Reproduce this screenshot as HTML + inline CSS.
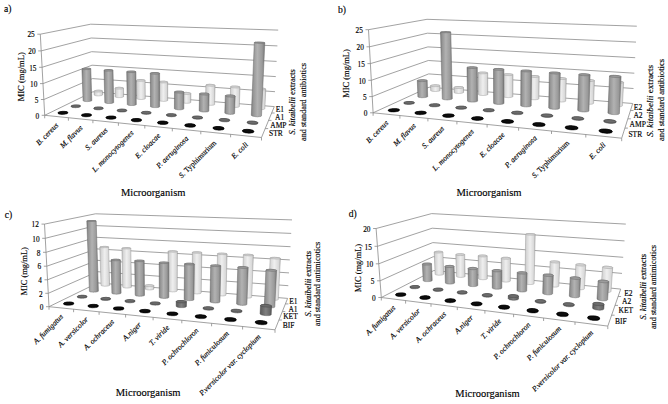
<!DOCTYPE html><html><head><meta charset="utf-8"><style>html,body{margin:0;padding:0;background:#fff}svg{display:block}text{font-family:"Liberation Serif",serif;stroke:#000;stroke-width:0.15px}</style></head><body><svg width="668" height="404" viewBox="0 0 668 404" font-family="Liberation Serif, serif" fill="#000"><defs><linearGradient id="g_light" x1="0" y1="0" x2="1" y2="0"><stop offset="0" stop-color="#a4a4a4"/><stop offset="0.08" stop-color="#d0d0d0"/><stop offset="0.5" stop-color="#efefef"/><stop offset="0.9" stop-color="#d6d6d6"/><stop offset="1" stop-color="#aaaaaa"/></linearGradient><linearGradient id="g_mid" x1="0" y1="0" x2="1" y2="0"><stop offset="0" stop-color="#707070"/><stop offset="0.1" stop-color="#909090"/><stop offset="0.45" stop-color="#b2b2b2"/><stop offset="0.8" stop-color="#9a9a9a"/><stop offset="1" stop-color="#767676"/></linearGradient><linearGradient id="g_dark" x1="0" y1="0" x2="1" y2="0"><stop offset="0" stop-color="#4c4c4c"/><stop offset="0.12" stop-color="#636363"/><stop offset="0.5" stop-color="#808080"/><stop offset="0.88" stop-color="#666666"/><stop offset="1" stop-color="#4e4e4e"/></linearGradient><linearGradient id="g_black" x1="0" y1="0" x2="1" y2="0"><stop offset="0" stop-color="#000"/><stop offset="0.5" stop-color="#161616"/><stop offset="1" stop-color="#000"/></linearGradient></defs><rect width="668" height="404" fill="#fff"/><line x1="44.7" y1="115.3" x2="92.9" y2="91.8" stroke="#8a8a8a" stroke-width="0.8"/><line x1="92.9" y1="91.8" x2="274.3" y2="106.6" stroke="#8a8a8a" stroke-width="0.8"/><line x1="43.9" y1="99.5" x2="92.5" y2="78.6" stroke="#8a8a8a" stroke-width="0.8"/><line x1="92.5" y1="78.6" x2="275" y2="91.7" stroke="#8a8a8a" stroke-width="0.8"/><line x1="43" y1="83.6" x2="92" y2="65.2" stroke="#8a8a8a" stroke-width="0.8"/><line x1="92" y1="65.2" x2="275.8" y2="76.6" stroke="#8a8a8a" stroke-width="0.8"/><line x1="42.1" y1="67.3" x2="91.6" y2="51.7" stroke="#8a8a8a" stroke-width="0.8"/><line x1="91.6" y1="51.7" x2="276.6" y2="61.4" stroke="#8a8a8a" stroke-width="0.8"/><line x1="41.2" y1="50.9" x2="91.2" y2="38" stroke="#8a8a8a" stroke-width="0.8"/><line x1="91.2" y1="38" x2="277.4" y2="45.9" stroke="#8a8a8a" stroke-width="0.8"/><line x1="40.3" y1="34.2" x2="90.7" y2="24.2" stroke="#8a8a8a" stroke-width="0.8"/><line x1="90.7" y1="24.2" x2="278.2" y2="30.1" stroke="#8a8a8a" stroke-width="0.8"/><line x1="44.7" y1="115.3" x2="40.3" y2="34.2" stroke="#8a8a8a" stroke-width="0.8"/><line x1="44.7" y1="115.3" x2="41.7" y2="115.3" stroke="#8a8a8a" stroke-width="0.8"/><line x1="43.9" y1="99.5" x2="40.9" y2="99.5" stroke="#8a8a8a" stroke-width="0.8"/><line x1="43" y1="83.6" x2="40" y2="83.6" stroke="#8a8a8a" stroke-width="0.8"/><line x1="42.1" y1="67.3" x2="39.1" y2="67.3" stroke="#8a8a8a" stroke-width="0.8"/><line x1="41.2" y1="50.9" x2="38.2" y2="50.9" stroke="#8a8a8a" stroke-width="0.8"/><line x1="40.3" y1="34.2" x2="37.3" y2="34.2" stroke="#8a8a8a" stroke-width="0.8"/><line x1="44.7" y1="115.3" x2="261.5" y2="137.5" stroke="#8a8a8a" stroke-width="0.8"/><line x1="44.7" y1="115.3" x2="44.7" y2="118.3" stroke="#8a8a8a" stroke-width="0.8"/><line x1="68.4" y1="117.7" x2="68.4" y2="120.7" stroke="#8a8a8a" stroke-width="0.8"/><line x1="92.9" y1="120.2" x2="92.9" y2="123.2" stroke="#8a8a8a" stroke-width="0.8"/><line x1="118.4" y1="122.8" x2="118.4" y2="125.8" stroke="#8a8a8a" stroke-width="0.8"/><line x1="144.8" y1="125.5" x2="144.8" y2="128.5" stroke="#8a8a8a" stroke-width="0.8"/><line x1="172.3" y1="128.4" x2="172.3" y2="131.4" stroke="#8a8a8a" stroke-width="0.8"/><line x1="200.8" y1="131.3" x2="200.8" y2="134.3" stroke="#8a8a8a" stroke-width="0.8"/><line x1="230.6" y1="134.3" x2="230.6" y2="137.3" stroke="#8a8a8a" stroke-width="0.8"/><line x1="261.5" y1="137.5" x2="261.5" y2="140.5" stroke="#8a8a8a" stroke-width="0.8"/><line x1="261.5" y1="137.5" x2="274.3" y2="106.6" stroke="#8a8a8a" stroke-width="0.8"/><line x1="265.2" y1="128.6" x2="268.2" y2="128.6" stroke="#8a8a8a" stroke-width="0.8"/><line x1="268.5" y1="120.4" x2="271.5" y2="120.4" stroke="#8a8a8a" stroke-width="0.8"/><line x1="271.6" y1="113" x2="274.6" y2="113" stroke="#8a8a8a" stroke-width="0.8"/><path d="M102.5,91.1 L102.6,94.9 L102.5,95 L102.4,95.1 L102.2,95.3 L102,95.4 L101.7,95.5 L101.3,95.6 L100.9,95.6 L100.4,95.7 L99.9,95.8 L99.4,95.8 L98.9,95.8 L98.3,95.9 L97.8,95.9 L97.2,95.8 L96.7,95.8 L96.2,95.8 L95.8,95.7 L95.4,95.6 L95,95.5 L94.7,95.4 L94.5,95.3 L94.4,95.2 L94.3,95.1 L94.2,95 L94.1,91.1 L94.2,91 L94.3,90.9 L94.5,90.8 L94.7,90.7 L95.1,90.6 L95.4,90.5 L95.9,90.4 L96.3,90.4 L96.8,90.3 L97.3,90.3 L97.9,90.2 L98.4,90.2 L98.9,90.2 L99.5,90.2 L100,90.3 L100.5,90.3 L100.9,90.4 L101.3,90.4 L101.7,90.5 L102,90.6 L102.2,90.7 L102.4,90.8 L102.5,91Z" fill="url(#g_light)" stroke="#9c9c9c" stroke-width="0.5"/><path d="M102.1,91.4 L102.4,91.2 L102.5,91 L102.2,90.7 L101.7,90.5 L100.9,90.4 L100,90.3 L98.9,90.2 L97.9,90.2 L96.8,90.3 L95.9,90.4 L95.1,90.6 L94.5,90.8 L94.2,91 L94.1,91.3 L94.4,91.5 L94.9,91.7 L95.7,91.8 L96.6,91.9 L97.7,92 L98.8,92 L99.8,91.9 L100.8,91.8 L101.6,91.6Z" fill="#d8d8d8" stroke="#9c9c9c" stroke-width="0.5"/><path d="M123.5,88.1 L123.6,96.6 L123.6,96.8 L123.5,96.9 L123.3,97 L123.1,97.1 L122.8,97.2 L122.4,97.3 L122,97.4 L121.6,97.5 L121.1,97.6 L120.5,97.6 L120,97.6 L119.4,97.6 L118.9,97.6 L118.3,97.6 L117.8,97.6 L117.3,97.5 L116.8,97.5 L116.4,97.4 L116,97.3 L115.7,97.2 L115.5,97.1 L115.3,97 L115.2,96.8 L115.1,96.7 L115,88.2 L115,88.1 L115.1,88 L115.3,87.9 L115.5,87.8 L115.8,87.7 L116.2,87.6 L116.6,87.5 L117,87.4 L117.5,87.4 L118,87.3 L118.6,87.3 L119.1,87.3 L119.7,87.3 L120.2,87.3 L120.8,87.4 L121.3,87.4 L121.7,87.5 L122.1,87.5 L122.5,87.6 L122.8,87.7 L123.1,87.8 L123.3,87.9 L123.4,88Z" fill="url(#g_light)" stroke="#9c9c9c" stroke-width="0.5"/><path d="M123.2,88.5 L123.4,88.3 L123.4,88 L123.1,87.8 L122.5,87.6 L121.7,87.5 L120.8,87.4 L119.7,87.3 L118.6,87.3 L117.5,87.4 L116.6,87.5 L115.8,87.7 L115.3,87.9 L115,88.1 L115,88.3 L115.3,88.6 L115.9,88.8 L116.7,88.9 L117.6,89 L118.7,89.1 L119.8,89.1 L120.9,89 L121.9,88.9 L122.6,88.7Z" fill="#d8d8d8" stroke="#9c9c9c" stroke-width="0.5"/><path d="M136.7,98.5 L136.5,80.4 L136.5,80.3 L136.6,80.2 L136.7,80.1 L136.9,80 L137.2,79.9 L137.6,79.8 L138,79.8 L138.4,79.7 L138.9,79.7 L139.5,79.6 L140,79.6 L140.6,79.6 L141.1,79.6 L141.7,79.6 L142.2,79.6 L142.7,79.7 L143.2,79.7 L143.7,79.8 L144.1,79.9 L144.4,80 L144.7,80.1 L144.9,80.2 L145.1,80.3 L145.1,80.4 L145.3,98.4 L145.3,98.6 L145.2,98.7 L145.1,98.8 L144.8,98.9 L144.6,99.1 L144.2,99.2 L143.8,99.2 L143.4,99.3 L142.9,99.4 L142.3,99.4 L141.8,99.5 L141.2,99.5 L140.7,99.5 L140.1,99.4 L139.6,99.4 L139,99.4 L138.5,99.3 L138.1,99.2 L137.7,99.1 L137.4,99 L137.1,98.9 L136.9,98.8 L136.8,98.7Z" fill="url(#g_light)" stroke="#9c9c9c" stroke-width="0.5"/><path d="M144.9,80.7 L145.1,80.5 L145.1,80.3 L144.7,80.1 L144.1,79.9 L143.2,79.7 L142.2,79.6 L141.1,79.6 L140,79.6 L138.9,79.7 L138,79.8 L137.2,79.9 L136.7,80.1 L136.5,80.3 L136.5,80.6 L136.9,80.8 L137.5,81 L138.4,81.1 L139.4,81.2 L140.5,81.3 L141.6,81.2 L142.7,81.2 L143.7,81.1 L144.4,80.9Z" fill="#d8d8d8" stroke="#9c9c9c" stroke-width="0.5"/><path d="M167.7,82.1 L167.7,100.4 L167.6,100.6 L167.5,100.7 L167.3,100.8 L167,100.9 L166.7,101 L166.3,101.1 L165.8,101.2 L165.4,101.3 L164.8,101.3 L164.3,101.4 L163.7,101.4 L163.1,101.4 L162.6,101.3 L162,101.3 L161.5,101.2 L161,101.2 L160.5,101.1 L160.1,101 L159.7,100.9 L159.4,100.8 L159.2,100.6 L159,100.5 L158.9,100.4 L158.9,100.3 L158.9,82 L158.9,81.9 L159.1,81.8 L159.3,81.7 L159.6,81.6 L159.9,81.5 L160.3,81.4 L160.7,81.3 L161.2,81.3 L161.7,81.2 L162.3,81.2 L162.9,81.2 L163.4,81.2 L164,81.2 L164.6,81.2 L165.1,81.3 L165.6,81.4 L166.1,81.4 L166.5,81.5 L166.9,81.6 L167.2,81.7 L167.4,81.8 L167.6,81.9 L167.7,82Z" fill="url(#g_light)" stroke="#9c9c9c" stroke-width="0.5"/><path d="M167.5,82.4 L167.7,82.1 L167.6,81.9 L167.2,81.7 L166.5,81.5 L165.6,81.4 L164.6,81.2 L163.4,81.2 L162.3,81.2 L161.2,81.3 L160.3,81.4 L159.6,81.6 L159.1,81.8 L158.9,82 L159,82.2 L159.4,82.4 L160.1,82.6 L160.9,82.8 L162,82.9 L163.1,82.9 L164.3,82.9 L165.4,82.8 L166.3,82.7 L167.1,82.6Z" fill="#d8d8d8" stroke="#9c9c9c" stroke-width="0.5"/><path d="M181.8,102.2 L181.9,93.3 L181.9,93.2 L182.1,93 L182.2,92.9 L182.5,92.8 L182.8,92.7 L183.2,92.6 L183.6,92.6 L184.1,92.5 L184.6,92.5 L185.2,92.4 L185.8,92.4 L186.3,92.4 L186.9,92.4 L187.5,92.5 L188,92.5 L188.6,92.6 L189.1,92.7 L189.5,92.8 L189.9,92.9 L190.2,93 L190.5,93.1 L190.7,93.2 L190.8,93.3 L190.9,93.5 L190.8,102.4 L190.7,102.5 L190.6,102.6 L190.5,102.8 L190.2,102.9 L189.9,103 L189.5,103.1 L189.1,103.2 L188.6,103.2 L188.1,103.3 L187.5,103.3 L186.9,103.3 L186.3,103.3 L185.8,103.3 L185.2,103.3 L184.6,103.2 L184.1,103.1 L183.6,103 L183.2,102.9 L182.8,102.8 L182.4,102.7 L182.2,102.6 L182,102.4 L181.9,102.3Z" fill="url(#g_light)" stroke="#9c9c9c" stroke-width="0.5"/><path d="M190.7,93.7 L190.9,93.5 L190.7,93.2 L190.2,93 L189.5,92.8 L188.6,92.6 L187.5,92.5 L186.3,92.4 L185.2,92.4 L184.1,92.5 L183.2,92.6 L182.5,92.8 L182.1,93 L181.9,93.3 L182.1,93.5 L182.5,93.8 L183.2,94 L184.2,94.2 L185.3,94.3 L186.4,94.4 L187.6,94.4 L188.7,94.3 L189.6,94.1 L190.3,93.9Z" fill="#d8d8d8" stroke="#9c9c9c" stroke-width="0.5"/><path d="M205.5,104.2 L205.9,85.2 L205.9,85 L206,84.9 L206.1,84.8 L206.4,84.7 L206.7,84.6 L207.1,84.5 L207.5,84.5 L208,84.4 L208.5,84.4 L209.1,84.3 L209.6,84.3 L210.2,84.3 L210.8,84.4 L211.4,84.4 L212,84.4 L212.5,84.5 L213.1,84.6 L213.5,84.7 L214,84.8 L214.3,84.9 L214.6,85 L214.8,85.1 L215,85.2 L215.1,85.3 L215.1,85.4 L214.6,104.5 L214.5,104.6 L214.4,104.8 L214.2,104.9 L213.9,105 L213.5,105.1 L213.1,105.2 L212.6,105.2 L212.1,105.3 L211.5,105.3 L210.9,105.3 L210.3,105.3 L209.7,105.3 L209.1,105.3 L208.5,105.2 L208,105.1 L207.5,105.1 L207,104.9 L206.6,104.8 L206.2,104.7 L205.9,104.6 L205.7,104.4 L205.6,104.3Z" fill="url(#g_light)" stroke="#9c9c9c" stroke-width="0.5"/><path d="M215,85.6 L215.1,85.3 L214.8,85.1 L214.3,84.9 L213.5,84.7 L212.5,84.5 L211.4,84.4 L210.2,84.3 L209.1,84.3 L208,84.4 L207.1,84.5 L206.4,84.7 L206,84.9 L205.9,85.2 L206.1,85.4 L206.6,85.6 L207.4,85.8 L208.4,86 L209.5,86.1 L210.7,86.2 L211.9,86.2 L213,86.1 L213.9,86 L214.6,85.8Z" fill="#d8d8d8" stroke="#9c9c9c" stroke-width="0.5"/><path d="M240,87.2 L239.3,106.6 L239.3,106.7 L239.1,106.8 L238.9,107 L238.6,107.1 L238.3,107.2 L237.9,107.3 L237.4,107.3 L236.9,107.4 L236.3,107.4 L235.7,107.4 L235.1,107.4 L234.5,107.4 L233.9,107.4 L233.3,107.3 L232.7,107.2 L232.1,107.1 L231.6,107 L231.2,106.9 L230.8,106.8 L230.5,106.6 L230.2,106.5 L230.1,106.4 L230,106.2 L230,106.1 L230.6,86.8 L230.6,86.7 L230.8,86.6 L231,86.4 L231.3,86.4 L231.6,86.3 L232.1,86.2 L232.5,86.1 L233,86.1 L233.6,86.1 L234.2,86.1 L234.8,86.1 L235.4,86.1 L236,86.1 L236.6,86.2 L237.2,86.2 L237.7,86.3 L238.2,86.4 L238.7,86.5 L239.1,86.6 L239.4,86.7 L239.7,86.8 L239.9,87 L240,87.1Z" fill="url(#g_light)" stroke="#9c9c9c" stroke-width="0.5"/><path d="M239.9,87.3 L240,87.1 L239.7,86.8 L239.1,86.6 L238.2,86.4 L237.2,86.2 L236,86.1 L234.8,86.1 L233.6,86.1 L232.5,86.1 L231.6,86.3 L231,86.4 L230.6,86.7 L230.6,86.9 L230.8,87.2 L231.4,87.4 L232.3,87.6 L233.3,87.8 L234.5,87.9 L235.8,88 L237,87.9 L238.1,87.9 L239,87.7 L239.6,87.5Z" fill="#d8d8d8" stroke="#9c9c9c" stroke-width="0.5"/><path d="M255.2,108.2 L256.1,88.7 L256.1,88.6 L256.2,88.4 L256.4,88.3 L256.7,88.2 L257,88.1 L257.4,88.1 L257.9,88 L258.4,88 L259,87.9 L259.6,87.9 L260.2,87.9 L260.8,87.9 L261.4,88 L262.1,88 L262.7,88.1 L263.2,88.2 L263.8,88.3 L264.3,88.4 L264.7,88.5 L265.1,88.6 L265.3,88.7 L265.6,88.9 L265.7,89 L265.8,89.1 L264.8,108.7 L264.8,108.8 L264.7,109 L264.5,109.1 L264.2,109.2 L263.9,109.3 L263.5,109.4 L263,109.5 L262.5,109.5 L261.9,109.6 L261.3,109.6 L260.7,109.6 L260.1,109.6 L259.5,109.5 L258.8,109.5 L258.2,109.4 L257.7,109.3 L257.1,109.2 L256.7,109 L256.2,108.9 L255.9,108.8 L255.6,108.6 L255.4,108.5 L255.3,108.3Z" fill="url(#g_light)" stroke="#9c9c9c" stroke-width="0.5"/><path d="M265.7,89.2 L265.7,89 L265.3,88.7 L264.7,88.5 L263.8,88.3 L262.7,88.1 L261.4,88 L260.2,87.9 L259,87.9 L257.9,88 L257,88.1 L256.4,88.3 L256.1,88.6 L256.1,88.8 L256.4,89.1 L257.1,89.3 L258,89.5 L259.1,89.7 L260.3,89.8 L261.6,89.9 L262.9,89.9 L263.9,89.8 L264.8,89.7 L265.4,89.5Z" fill="#d8d8d8" stroke="#9c9c9c" stroke-width="0.5"/><path d="M90.8,68.8 L91.8,100.5 L91.8,100.6 L91.7,100.8 L91.5,100.9 L91.2,101 L90.8,101.1 L90.5,101.2 L90,101.3 L89.5,101.4 L89,101.5 L88.4,101.5 L87.9,101.6 L87.3,101.6 L86.7,101.6 L86.2,101.5 L85.6,101.5 L85.1,101.5 L84.6,101.4 L84.2,101.3 L83.9,101.2 L83.6,101.1 L83.3,101 L83.2,100.9 L83.1,100.7 L83.1,100.6 L81.9,68.9 L82,68.8 L82.2,68.7 L82.4,68.6 L82.7,68.5 L83,68.4 L83.4,68.4 L83.9,68.3 L84.4,68.2 L84.9,68.2 L85.4,68.2 L86,68.1 L86.6,68.1 L87.2,68.1 L87.7,68.1 L88.3,68.2 L88.8,68.2 L89.2,68.3 L89.6,68.3 L90,68.4 L90.3,68.5 L90.5,68.6 L90.7,68.6 L90.8,68.7Z" fill="url(#g_mid)" stroke="#686868" stroke-width="0.5"/><path d="M90.4,69.1 L90.8,68.9 L90.8,68.7 L90.5,68.6 L90,68.4 L89.2,68.3 L88.3,68.2 L87.2,68.1 L86,68.1 L84.9,68.2 L83.9,68.3 L83,68.4 L82.4,68.6 L82,68.8 L82,69 L82.2,69.2 L82.7,69.4 L83.5,69.5 L84.5,69.6 L85.6,69.6 L86.8,69.6 L87.9,69.6 L88.9,69.5 L89.8,69.3Z" fill="#9c9c9c" stroke="#686868" stroke-width="0.5"/><path d="M113,70.3 L113.7,102.4 L113.7,102.6 L113.6,102.7 L113.4,102.8 L113.1,103 L112.8,103.1 L112.4,103.2 L112,103.3 L111.5,103.4 L111,103.4 L110.4,103.5 L109.8,103.5 L109.3,103.5 L108.7,103.5 L108.1,103.5 L107.5,103.5 L107,103.4 L106.5,103.3 L106.1,103.2 L105.7,103.1 L105.4,103 L105.2,102.9 L105,102.8 L104.9,102.7 L104.8,102.5 L104,70.3 L104,70.2 L104.1,70.1 L104.3,70 L104.6,69.9 L104.9,69.9 L105.3,69.8 L105.8,69.7 L106.3,69.7 L106.8,69.6 L107.3,69.6 L107.9,69.5 L108.5,69.5 L109.1,69.5 L109.7,69.6 L110.2,69.6 L110.7,69.6 L111.2,69.7 L111.7,69.7 L112.1,69.8 L112.4,69.9 L112.6,70 L112.8,70.1 L112.9,70.2Z" fill="url(#g_mid)" stroke="#686868" stroke-width="0.5"/><path d="M112.7,70.6 L113,70.4 L112.9,70.2 L112.6,70 L112.1,69.8 L111.2,69.7 L110.2,69.6 L109.1,69.5 L107.9,69.5 L106.8,69.6 L105.8,69.7 L104.9,69.9 L104.3,70 L104,70.2 L104,70.4 L104.3,70.6 L104.9,70.8 L105.7,71 L106.7,71.1 L107.9,71.1 L109.1,71.1 L110.2,71 L111.2,70.9 L112.1,70.8Z" fill="#9c9c9c" stroke="#686868" stroke-width="0.5"/><path d="M135.9,71.8 L136.3,104.4 L136.3,104.6 L136.2,104.7 L136,104.8 L135.8,105 L135.5,105.1 L135.1,105.2 L134.7,105.3 L134.2,105.4 L133.7,105.5 L133.1,105.5 L132.6,105.5 L132,105.6 L131.4,105.5 L130.8,105.5 L130.2,105.5 L129.7,105.4 L129.2,105.4 L128.7,105.3 L128.3,105.2 L128,105 L127.7,104.9 L127.5,104.8 L127.3,104.6 L127.3,104.5 L126.7,71.8 L126.8,71.7 L126.9,71.6 L127,71.5 L127.3,71.4 L127.6,71.3 L128,71.2 L128.4,71.2 L128.9,71.1 L129.4,71.1 L130,71 L130.6,71 L131.1,71 L131.7,71 L132.3,71 L132.9,71 L133.4,71.1 L133.9,71.1 L134.4,71.2 L134.8,71.3 L135.2,71.4 L135.5,71.5 L135.7,71.6 L135.8,71.7Z" fill="url(#g_mid)" stroke="#686868" stroke-width="0.5"/><path d="M135.6,72.1 L135.9,71.9 L135.8,71.7 L135.5,71.5 L134.8,71.3 L133.9,71.1 L132.9,71 L131.7,71 L130.6,71 L129.4,71.1 L128.4,71.2 L127.6,71.3 L127,71.5 L126.8,71.7 L126.8,71.9 L127.1,72.1 L127.8,72.3 L128.7,72.5 L129.7,72.6 L130.9,72.6 L132.1,72.6 L133.3,72.5 L134.3,72.4 L135.1,72.3Z" fill="#9c9c9c" stroke="#686868" stroke-width="0.5"/><path d="M159.6,73.4 L159.6,106.6 L159.6,106.8 L159.4,106.9 L159.2,107 L158.9,107.2 L158.6,107.3 L158.2,107.4 L157.7,107.5 L157.2,107.5 L156.6,107.6 L156,107.6 L155.4,107.6 L154.8,107.6 L154.2,107.6 L153.6,107.6 L153.1,107.5 L152.5,107.4 L152.1,107.3 L151.6,107.2 L151.3,107.1 L150.9,107 L150.7,106.9 L150.5,106.7 L150.5,106.6 L150.5,106.4 L150.3,73.3 L150.4,73.1 L150.5,73 L150.7,72.9 L151,72.8 L151.4,72.8 L151.8,72.7 L152.3,72.6 L152.8,72.6 L153.4,72.5 L153.9,72.5 L154.5,72.5 L155.1,72.5 L155.7,72.5 L156.3,72.5 L156.9,72.6 L157.4,72.6 L157.9,72.7 L158.4,72.8 L158.7,72.9 L159.1,73 L159.3,73.1 L159.5,73.2 L159.6,73.3Z" fill="url(#g_mid)" stroke="#686868" stroke-width="0.5"/><path d="M159.4,73.6 L159.6,73.4 L159.5,73.2 L159.1,73 L158.4,72.8 L157.4,72.6 L156.3,72.5 L155.1,72.5 L153.9,72.5 L152.8,72.6 L151.8,72.7 L151,72.8 L150.5,73 L150.3,73.3 L150.4,73.5 L150.8,73.7 L151.5,73.9 L152.4,74 L153.5,74.1 L154.7,74.2 L155.9,74.2 L157.1,74.1 L158.1,74 L158.9,73.8Z" fill="#9c9c9c" stroke="#686868" stroke-width="0.5"/><path d="M174.4,108.5 L174.5,92 L174.5,91.8 L174.7,91.7 L174.9,91.6 L175.2,91.5 L175.5,91.4 L175.9,91.3 L176.4,91.2 L176.9,91.2 L177.4,91.1 L178,91.1 L178.6,91.1 L179.2,91.1 L179.8,91.1 L180.4,91.1 L181,91.2 L181.6,91.2 L182.1,91.3 L182.5,91.4 L183,91.5 L183.3,91.6 L183.6,91.8 L183.8,91.9 L183.9,92 L183.9,92.2 L183.8,108.8 L183.7,108.9 L183.6,109 L183.4,109.2 L183.2,109.3 L182.8,109.4 L182.4,109.5 L182,109.6 L181.4,109.7 L180.9,109.8 L180.3,109.8 L179.7,109.8 L179.1,109.8 L178.5,109.8 L177.9,109.7 L177.3,109.7 L176.7,109.6 L176.2,109.5 L175.8,109.4 L175.3,109.3 L175,109.1 L174.7,109 L174.6,108.8 L174.4,108.7Z" fill="url(#g_mid)" stroke="#686868" stroke-width="0.5"/><path d="M183.8,92.4 L183.9,92.2 L183.8,91.9 L183.3,91.6 L182.5,91.4 L181.6,91.2 L180.4,91.1 L179.2,91.1 L178,91.1 L176.9,91.2 L175.9,91.3 L175.2,91.5 L174.7,91.7 L174.5,92 L174.6,92.2 L175.1,92.5 L175.9,92.7 L176.8,92.9 L178,93 L179.2,93.1 L180.4,93.1 L181.6,93 L182.6,92.8 L183.3,92.7Z" fill="#9c9c9c" stroke="#686868" stroke-width="0.5"/><path d="M199.2,110.7 L199.5,93.9 L199.5,93.8 L199.6,93.6 L199.8,93.5 L200,93.4 L200.4,93.3 L200.8,93.2 L201.2,93.1 L201.7,93 L202.3,93 L202.8,93 L203.5,93 L204.1,93 L204.7,93 L205.3,93 L205.9,93.1 L206.5,93.1 L207,93.2 L207.5,93.3 L208,93.4 L208.4,93.6 L208.7,93.7 L208.9,93.8 L209.1,93.9 L209.1,94.1 L208.8,111 L208.8,111.1 L208.7,111.3 L208.5,111.4 L208.2,111.5 L207.9,111.7 L207.5,111.8 L207.1,111.9 L206.6,111.9 L206,112 L205.4,112 L204.8,112 L204.2,112 L203.6,112 L202.9,112 L202.3,111.9 L201.7,111.8 L201.2,111.7 L200.7,111.6 L200.3,111.5 L199.9,111.3 L199.6,111.2 L199.4,111 L199.2,110.9Z" fill="url(#g_mid)" stroke="#686868" stroke-width="0.5"/><path d="M209,94.4 L209.1,94.1 L208.9,93.8 L208.4,93.6 L207.5,93.3 L206.5,93.1 L205.3,93 L204.1,93 L202.8,93 L201.7,93 L200.8,93.2 L200,93.4 L199.6,93.6 L199.5,93.9 L199.7,94.2 L200.2,94.4 L201,94.7 L202.1,94.9 L203.2,95 L204.5,95 L205.8,95 L206.9,95 L207.9,94.8 L208.6,94.6Z" fill="#9c9c9c" stroke="#686868" stroke-width="0.5"/><path d="M235.2,96.2 L234.6,113.4 L234.6,113.6 L234.4,113.7 L234.2,113.8 L233.9,114 L233.5,114.1 L233.1,114.2 L232.6,114.3 L232,114.3 L231.4,114.3 L230.8,114.4 L230.2,114.4 L229.5,114.3 L228.9,114.3 L228.3,114.2 L227.6,114.1 L227.1,114 L226.6,113.9 L226.1,113.8 L225.7,113.6 L225.4,113.5 L225.1,113.3 L224.9,113.2 L224.8,113 L224.8,112.8 L225.3,95.7 L225.4,95.6 L225.5,95.5 L225.8,95.4 L226.1,95.3 L226.5,95.2 L226.9,95.1 L227.4,95 L228,95 L228.6,94.9 L229.2,94.9 L229.8,94.9 L230.4,94.9 L231.1,95 L231.7,95 L232.3,95.1 L232.9,95.2 L233.4,95.3 L233.9,95.4 L234.3,95.5 L234.6,95.7 L234.9,95.8 L235.1,95.9 L235.2,96.1Z" fill="url(#g_mid)" stroke="#686868" stroke-width="0.5"/><path d="M235.2,96.4 L235.2,96.1 L234.9,95.8 L234.3,95.5 L233.4,95.3 L232.3,95.1 L231.1,95 L229.8,94.9 L228.6,94.9 L227.4,95 L226.5,95.2 L225.8,95.4 L225.4,95.6 L225.3,95.9 L225.6,96.2 L226.2,96.4 L227.1,96.7 L228.2,96.9 L229.4,97 L230.7,97.1 L232,97.1 L233.1,97 L234.1,96.8 L234.8,96.6Z" fill="#9c9c9c" stroke="#686868" stroke-width="0.5"/><path d="M264.8,42.8 L261.5,115.8 L261.4,115.9 L261.3,116.1 L261.1,116.2 L260.8,116.4 L260.5,116.5 L260,116.6 L259.5,116.6 L259,116.7 L258.4,116.7 L257.8,116.8 L257.1,116.8 L256.4,116.7 L255.8,116.7 L255.1,116.6 L254.5,116.5 L253.9,116.4 L253.3,116.3 L252.8,116.2 L252.4,116 L252,115.9 L251.7,115.7 L251.5,115.5 L251.4,115.4 L251.3,115.2 L254.3,42.6 L254.4,42.5 L254.5,42.4 L254.7,42.4 L255,42.3 L255.4,42.2 L255.8,42.2 L256.4,42.2 L256.9,42.1 L257.5,42.1 L258.2,42.1 L258.8,42.1 L259.5,42.1 L260.2,42.1 L260.8,42.2 L261.5,42.2 L262.1,42.3 L262.7,42.3 L263.2,42.4 L263.7,42.4 L264.1,42.5 L264.4,42.6 L264.6,42.7 L264.8,42.8Z" fill="url(#g_mid)" stroke="#686868" stroke-width="0.5"/><path d="M264.8,42.9 L264.8,42.8 L264.4,42.6 L263.7,42.4 L262.7,42.3 L261.5,42.2 L260.2,42.1 L258.8,42.1 L257.5,42.1 L256.4,42.2 L255.4,42.2 L254.7,42.4 L254.4,42.5 L254.4,42.7 L254.8,42.8 L255.4,43 L256.4,43.1 L257.6,43.2 L259,43.3 L260.3,43.3 L261.7,43.3 L262.9,43.3 L263.8,43.2 L264.5,43.1Z" fill="#9c9c9c" stroke="#686868" stroke-width="0.5"/><path d="M71.2,106.2 L71.2,106 L71.3,105.9 L71.5,105.8 L71.7,105.6 L72,105.5 L72.4,105.4 L72.8,105.3 L73.3,105.2 L73.8,105.1 L74.3,105 L74.9,104.9 L75.5,104.9 L76.1,104.9 L76.7,104.9 L77.3,104.9 L77.8,105 L78.3,105 L78.8,105.1 L79.2,105.2 L79.6,105.3 L79.9,105.4 L80.2,105.5 L80.3,105.7 L80.4,105.8 L80.4,106.3 L80.4,106.5 L80.3,106.6 L80.2,106.8 L80,106.9 L79.7,107 L79.3,107.2 L78.9,107.3 L78.4,107.4 L77.9,107.5 L77.3,107.5 L76.7,107.6 L76.1,107.6 L75.5,107.7 L74.9,107.6 L74.3,107.6 L73.8,107.6 L73.3,107.5 L72.8,107.4 L72.4,107.4 L72,107.2 L71.7,107.1 L71.5,107 L71.3,106.9 L71.2,106.7Z" fill="url(#g_dark)" stroke="#474747" stroke-width="0.5"/><path d="M80,106.4 L80.3,106.1 L80.4,105.8 L80.2,105.5 L79.6,105.3 L78.8,105.1 L77.8,105 L76.7,104.9 L75.5,104.9 L74.3,105 L73.3,105.2 L72.4,105.4 L71.7,105.6 L71.3,105.9 L71.2,106.2 L71.4,106.5 L72,106.7 L72.8,106.9 L73.8,107 L74.9,107.1 L76.1,107.1 L77.3,107 L78.4,106.9 L79.3,106.6Z" fill="#6c6c6c" stroke="#474747" stroke-width="0.5"/><path d="M94,109 L93.9,108.8 L93.8,108.7 L93.8,108.2 L93.9,108 L94,107.9 L94.2,107.7 L94.5,107.6 L94.9,107.5 L95.3,107.3 L95.8,107.2 L96.3,107.2 L96.8,107.1 L97.4,107 L98,107 L98.6,107 L99.2,107 L99.8,107 L100.4,107 L100.9,107.1 L101.4,107.2 L101.8,107.3 L102.2,107.4 L102.6,107.5 L102.8,107.6 L103,107.8 L103.1,107.9 L103.2,108.1 L103.2,108.6 L103.1,108.8 L103,108.9 L102.8,109.1 L102.5,109.2 L102.2,109.3 L101.7,109.4 L101.3,109.5 L100.8,109.6 L100.2,109.7 L99.6,109.8 L99,109.8 L98.4,109.8 L97.8,109.8 L97.2,109.8 L96.6,109.7 L96.1,109.7 L95.6,109.6 L95.1,109.5 L94.7,109.4 L94.4,109.3 L94.1,109.1Z" fill="url(#g_dark)" stroke="#474747" stroke-width="0.5"/><path d="M102.8,108.5 L103.1,108.2 L103.1,107.9 L102.8,107.6 L102.2,107.4 L101.4,107.2 L100.4,107 L99.2,107 L98,107 L96.8,107.1 L95.8,107.2 L94.9,107.5 L94.2,107.7 L93.9,108 L93.8,108.3 L94.1,108.6 L94.7,108.8 L95.5,109.1 L96.6,109.2 L97.8,109.3 L99,109.3 L100.2,109.2 L101.3,109 L102.1,108.8Z" fill="#6c6c6c" stroke="#474747" stroke-width="0.5"/><path d="M117.2,110.9 L117.2,110.3 L117.2,110.2 L117.4,110 L117.5,109.9 L117.8,109.7 L118.1,109.6 L118.5,109.5 L119,109.4 L119.5,109.3 L120.1,109.2 L120.6,109.2 L121.2,109.1 L121.8,109.1 L122.5,109.1 L123.1,109.2 L123.7,109.2 L124.2,109.3 L124.7,109.3 L125.2,109.4 L125.6,109.5 L126,109.7 L126.3,109.8 L126.5,110 L126.6,110.1 L126.7,110.3 L126.7,110.8 L126.7,111 L126.6,111.1 L126.4,111.3 L126.1,111.4 L125.8,111.5 L125.4,111.7 L124.9,111.8 L124.4,111.9 L123.9,111.9 L123.3,112 L122.7,112 L122.1,112 L121.4,112 L120.8,112 L120.2,112 L119.7,111.9 L119.1,111.8 L118.7,111.7 L118.2,111.6 L117.9,111.5 L117.6,111.3 L117.4,111.2 L117.3,111Z" fill="url(#g_dark)" stroke="#474747" stroke-width="0.5"/><path d="M126.4,110.7 L126.7,110.4 L126.6,110.1 L126.3,109.8 L125.6,109.5 L124.7,109.3 L123.7,109.2 L122.5,109.1 L121.2,109.1 L120.1,109.2 L119,109.4 L118.1,109.6 L117.5,109.9 L117.2,110.2 L117.3,110.5 L117.6,110.8 L118.2,111.1 L119.1,111.3 L120.2,111.4 L121.4,111.5 L122.7,111.5 L123.9,111.4 L124.9,111.2 L125.8,111Z" fill="#6c6c6c" stroke="#474747" stroke-width="0.5"/><path d="M141.4,112.6 L141.4,112.4 L141.5,112.3 L141.7,112.1 L141.9,112 L142.2,111.9 L142.6,111.7 L143.1,111.6 L143.6,111.5 L144.1,111.5 L144.7,111.4 L145.3,111.4 L145.9,111.3 L146.5,111.4 L147.2,111.4 L147.8,111.4 L148.3,111.5 L148.9,111.6 L149.4,111.7 L149.8,111.8 L150.2,111.9 L150.5,112.1 L150.8,112.2 L151,112.4 L151,112.5 L151,112.7 L151.1,113.2 L151,113.4 L150.8,113.5 L150.6,113.7 L150.3,113.8 L149.9,114 L149.4,114.1 L148.9,114.2 L148.4,114.2 L147.8,114.3 L147.2,114.3 L146.6,114.4 L145.9,114.4 L145.3,114.3 L144.7,114.3 L144.1,114.2 L143.5,114.1 L143,114 L142.6,113.9 L142.2,113.8 L141.9,113.6 L141.7,113.5 L141.5,113.3 L141.4,113.2Z" fill="url(#g_dark)" stroke="#474747" stroke-width="0.5"/><path d="M150.8,113 L151,112.7 L151,112.4 L150.5,112.1 L149.8,111.8 L148.9,111.6 L147.8,111.4 L146.5,111.4 L145.3,111.4 L144.1,111.5 L143.1,111.6 L142.2,111.9 L141.7,112.1 L141.4,112.4 L141.5,112.8 L141.9,113.1 L142.6,113.4 L143.5,113.6 L144.7,113.7 L145.9,113.8 L147.2,113.8 L148.4,113.7 L149.4,113.5 L150.3,113.3Z" fill="#6c6c6c" stroke="#474747" stroke-width="0.5"/><path d="M168.3,116.4 L167.8,116.3 L167.4,116.2 L167.1,116 L166.8,115.8 L166.6,115.7 L166.5,115.5 L166.5,115.4 L166.5,114.8 L166.5,114.6 L166.7,114.5 L166.9,114.3 L167.2,114.2 L167.5,114 L168,113.9 L168.5,113.8 L169,113.8 L169.6,113.7 L170.2,113.7 L170.8,113.6 L171.5,113.7 L172.1,113.7 L172.7,113.7 L173.3,113.8 L173.9,113.9 L174.4,114 L174.9,114.1 L175.3,114.2 L175.7,114.4 L175.9,114.5 L176.1,114.7 L176.3,114.9 L176.3,115 L176.3,115.6 L176.3,115.8 L176.1,115.9 L175.9,116.1 L175.6,116.2 L175.3,116.3 L174.8,116.5 L174.3,116.6 L173.8,116.6 L173.2,116.7 L172.6,116.7 L171.9,116.8 L171.3,116.8 L170.6,116.7 L170,116.7 L169.4,116.6 L168.8,116.5Z" fill="url(#g_dark)" stroke="#474747" stroke-width="0.5"/><path d="M176.1,115.4 L176.3,115 L176.1,114.7 L175.7,114.4 L174.9,114.1 L173.9,113.9 L172.7,113.7 L171.5,113.7 L170.2,113.7 L169,113.8 L168,113.9 L167.2,114.2 L166.7,114.5 L166.5,114.8 L166.6,115.1 L167.1,115.4 L167.8,115.7 L168.8,116 L170,116.1 L171.3,116.2 L172.6,116.2 L173.8,116.1 L174.8,115.9 L175.6,115.6Z" fill="#6c6c6c" stroke="#474747" stroke-width="0.5"/><path d="M194.5,118.9 L194,118.8 L193.5,118.6 L193.1,118.5 L192.8,118.3 L192.6,118.1 L192.5,118 L192.4,117.8 L192.4,117.2 L192.4,117 L192.5,116.9 L192.7,116.7 L193,116.6 L193.4,116.4 L193.8,116.3 L194.3,116.2 L194.8,116.2 L195.4,116.1 L196,116.1 L196.6,116 L197.3,116 L197.9,116.1 L198.6,116.1 L199.2,116.2 L199.8,116.3 L200.4,116.4 L200.9,116.5 L201.3,116.6 L201.7,116.8 L202,116.9 L202.3,117.1 L202.4,117.3 L202.5,117.5 L202.5,118 L202.5,118.2 L202.4,118.4 L202.2,118.5 L201.9,118.7 L201.6,118.8 L201.1,118.9 L200.7,119 L200.1,119.1 L199.5,119.2 L198.9,119.2 L198.3,119.2 L197.6,119.2 L196.9,119.2 L196.3,119.2 L195.6,119.1 L195,119Z" fill="url(#g_dark)" stroke="#474747" stroke-width="0.5"/><path d="M202.4,117.8 L202.5,117.5 L202.3,117.1 L201.7,116.8 L200.9,116.5 L199.8,116.3 L198.6,116.1 L197.3,116 L196,116.1 L194.8,116.2 L193.8,116.3 L193,116.6 L192.5,116.9 L192.4,117.2 L192.6,117.6 L193.1,117.9 L194,118.2 L195,118.4 L196.3,118.6 L197.6,118.7 L198.9,118.6 L200.1,118.5 L201.1,118.4 L201.9,118.1Z" fill="#6c6c6c" stroke="#474747" stroke-width="0.5"/><path d="M221.1,121.3 L220.6,121.2 L220.2,121 L219.8,120.8 L219.6,120.7 L219.4,120.5 L219.3,120.3 L219.3,120.1 L219.3,119.6 L219.4,119.4 L219.6,119.2 L219.8,119.1 L220.1,118.9 L220.6,118.8 L221,118.7 L221.5,118.6 L222.1,118.6 L222.7,118.5 L223.4,118.5 L224,118.5 L224.7,118.5 L225.4,118.6 L226,118.7 L226.7,118.8 L227.3,118.9 L227.8,119 L228.3,119.1 L228.7,119.3 L229.1,119.5 L229.3,119.6 L229.5,119.8 L229.6,120 L229.7,120.2 L229.6,120.7 L229.6,120.9 L229.4,121.1 L229.2,121.2 L228.8,121.4 L228.4,121.5 L228,121.6 L227.4,121.7 L226.8,121.8 L226.2,121.8 L225.6,121.8 L224.9,121.8 L224.2,121.8 L223.5,121.7 L222.9,121.7 L222.2,121.6 L221.6,121.5Z" fill="url(#g_dark)" stroke="#474747" stroke-width="0.5"/><path d="M229.6,120.3 L229.6,120 L229.3,119.6 L228.7,119.3 L227.8,119 L226.7,118.8 L225.4,118.6 L224,118.5 L222.7,118.5 L221.5,118.6 L220.6,118.8 L219.8,119.1 L219.4,119.4 L219.3,119.7 L219.6,120.1 L220.2,120.4 L221.1,120.7 L222.2,121 L223.5,121.1 L224.9,121.2 L226.2,121.2 L227.4,121.1 L228.4,120.9 L229.2,120.7Z" fill="#6c6c6c" stroke="#474747" stroke-width="0.5"/><path d="M249.2,124 L248.7,123.8 L248.3,123.7 L247.9,123.5 L247.6,123.3 L247.3,123.1 L247.2,122.9 L247.2,122.8 L247.2,122.2 L247.2,122 L247.4,121.8 L247.6,121.7 L247.9,121.5 L248.3,121.4 L248.8,121.3 L249.3,121.2 L249.9,121.1 L250.5,121.1 L251.1,121.1 L251.8,121.1 L252.5,121.1 L253.2,121.2 L253.9,121.2 L254.5,121.3 L255.2,121.4 L255.7,121.6 L256.3,121.7 L256.7,121.9 L257.1,122.1 L257.4,122.2 L257.7,122.4 L257.8,122.6 L257.9,122.8 L257.8,123.4 L257.8,123.6 L257.7,123.7 L257.4,123.9 L257.1,124 L256.8,124.2 L256.3,124.3 L255.8,124.4 L255.2,124.4 L254.6,124.5 L253.9,124.5 L253.2,124.5 L252.5,124.5 L251.8,124.4 L251.1,124.3 L250.4,124.2 L249.8,124.1Z" fill="url(#g_dark)" stroke="#474747" stroke-width="0.5"/><path d="M257.8,123 L257.8,122.6 L257.4,122.2 L256.7,121.9 L255.7,121.6 L254.5,121.3 L253.2,121.2 L251.8,121.1 L250.5,121.1 L249.3,121.2 L248.3,121.4 L247.6,121.7 L247.2,122 L247.2,122.3 L247.6,122.7 L248.3,123.1 L249.3,123.4 L250.5,123.6 L251.8,123.8 L253.2,123.9 L254.6,123.9 L255.8,123.8 L256.8,123.6 L257.5,123.3Z" fill="#6c6c6c" stroke="#474747" stroke-width="0.5"/><path d="M58.1,113.4 L58.1,112.8 L58.1,112.6 L58.2,112.5 L58.4,112.3 L58.6,112.2 L59,112 L59.4,111.9 L59.8,111.8 L60.3,111.7 L60.9,111.6 L61.5,111.5 L62.1,111.4 L62.7,111.4 L63.3,111.4 L64,111.4 L64.6,111.4 L65.1,111.5 L65.7,111.5 L66.2,111.6 L66.6,111.7 L67,111.8 L67.3,111.9 L67.5,112.1 L67.7,112.2 L67.7,112.4 L67.8,112.9 L67.8,113.1 L67.7,113.3 L67.5,113.4 L67.2,113.6 L66.9,113.7 L66.5,113.9 L66.1,114 L65.5,114.1 L65,114.2 L64.4,114.3 L63.8,114.3 L63.1,114.4 L62.5,114.4 L61.9,114.4 L61.2,114.4 L60.7,114.3 L60.1,114.3 L59.6,114.2 L59.2,114.1 L58.8,113.9 L58.5,113.8 L58.3,113.7 L58.1,113.5Z" fill="url(#g_black)" stroke="#000" stroke-width="0.5"/><path d="M67.2,113 L67.6,112.7 L67.7,112.4 L67.5,112.1 L67,111.8 L66.2,111.6 L65.1,111.5 L64,111.4 L62.7,111.4 L61.5,111.5 L60.3,111.7 L59.4,111.9 L58.6,112.2 L58.2,112.5 L58.1,112.8 L58.3,113.1 L58.8,113.4 L59.6,113.6 L60.6,113.8 L61.8,113.8 L63.1,113.8 L64.4,113.7 L65.5,113.5 L66.5,113.3Z" fill="#0d0d0d" stroke="#000" stroke-width="0.5"/><path d="M81.7,115.9 L81.7,115.7 L81.6,115.6 L81.6,115 L81.7,114.8 L81.9,114.7 L82.1,114.5 L82.4,114.4 L82.8,114.2 L83.2,114.1 L83.7,114 L84.3,113.9 L84.9,113.8 L85.5,113.7 L86.1,113.7 L86.8,113.7 L87.4,113.7 L88,113.7 L88.6,113.8 L89.2,113.8 L89.7,113.9 L90.1,114 L90.5,114.1 L90.9,114.3 L91.1,114.4 L91.3,114.6 L91.4,114.7 L91.4,114.9 L91.5,115.5 L91.4,115.6 L91.2,115.8 L91,115.9 L90.7,116.1 L90.3,116.2 L89.9,116.4 L89.4,116.5 L88.8,116.6 L88.2,116.7 L87.6,116.7 L87,116.8 L86.3,116.8 L85.7,116.8 L85.1,116.8 L84.5,116.7 L83.9,116.6 L83.4,116.6 L82.9,116.4 L82.5,116.3 L82.2,116.2 L81.9,116Z" fill="url(#g_black)" stroke="#000" stroke-width="0.5"/><path d="M91,115.4 L91.4,115.1 L91.4,114.7 L91.1,114.4 L90.5,114.1 L89.7,113.9 L88.6,113.8 L87.4,113.7 L86.1,113.7 L84.9,113.8 L83.7,114 L82.8,114.2 L82.1,114.5 L81.7,114.8 L81.6,115.2 L81.9,115.5 L82.5,115.8 L83.3,116 L84.4,116.1 L85.7,116.2 L87,116.2 L88.2,116.1 L89.4,115.9 L90.3,115.7Z" fill="#0d0d0d" stroke="#000" stroke-width="0.5"/><path d="M106,118 L106,117.4 L106.1,117.2 L106.2,117.1 L106.4,116.9 L106.7,116.8 L107.1,116.6 L107.5,116.5 L108,116.4 L108.5,116.3 L109.1,116.2 L109.7,116.1 L110.4,116.1 L111,116.1 L111.7,116.1 L112.3,116.1 L112.9,116.1 L113.5,116.2 L114,116.3 L114.5,116.4 L115,116.5 L115.3,116.7 L115.6,116.8 L115.8,117 L116,117.1 L116,117.3 L116,117.9 L116,118.1 L115.9,118.2 L115.7,118.4 L115.4,118.6 L115,118.7 L114.6,118.8 L114.1,119 L113.6,119.1 L113,119.2 L112.3,119.2 L111.7,119.3 L111,119.3 L110.4,119.3 L109.7,119.2 L109.1,119.2 L108.5,119.1 L108,119 L107.5,118.9 L107.1,118.8 L106.7,118.6 L106.4,118.5 L106.2,118.3 L106.1,118.2Z" fill="url(#g_black)" stroke="#000" stroke-width="0.5"/><path d="M115.7,117.8 L116,117.5 L116,117.1 L115.6,116.8 L115,116.5 L114,116.3 L112.9,116.1 L111.7,116.1 L110.4,116.1 L109.1,116.2 L108,116.4 L107.1,116.6 L106.4,116.9 L106.1,117.2 L106.1,117.6 L106.4,117.9 L107,118.2 L108,118.4 L109.1,118.6 L110.4,118.7 L111.7,118.7 L113,118.6 L114.1,118.4 L115,118.1Z" fill="#0d0d0d" stroke="#000" stroke-width="0.5"/><path d="M131.4,120.5 L131.3,119.9 L131.4,119.8 L131.5,119.6 L131.7,119.4 L131.9,119.3 L132.3,119.1 L132.7,119 L133.2,118.8 L133.7,118.7 L134.3,118.7 L134.9,118.6 L135.5,118.6 L136.2,118.5 L136.8,118.5 L137.5,118.6 L138.1,118.6 L138.7,118.7 L139.3,118.8 L139.8,118.9 L140.3,119 L140.7,119.2 L141,119.3 L141.2,119.5 L141.4,119.7 L141.5,119.8 L141.5,120.4 L141.5,120.6 L141.4,120.8 L141.2,120.9 L141,121.1 L140.6,121.3 L140.2,121.4 L139.7,121.5 L139.2,121.6 L138.6,121.7 L138,121.8 L137.3,121.8 L136.7,121.8 L136,121.8 L135.3,121.8 L134.7,121.8 L134.1,121.7 L133.5,121.6 L133,121.5 L132.5,121.3 L132.1,121.2 L131.8,121 L131.6,120.9 L131.4,120.7Z" fill="url(#g_black)" stroke="#000" stroke-width="0.5"/><path d="M141.2,120.4 L141.5,120 L141.4,119.7 L141,119.3 L140.3,119 L139.3,118.8 L138.1,118.6 L136.8,118.5 L135.5,118.6 L134.3,118.7 L133.2,118.8 L132.3,119.1 L131.7,119.4 L131.4,119.8 L131.4,120.1 L131.8,120.5 L132.5,120.8 L133.5,121 L134.7,121.2 L136,121.3 L137.3,121.2 L138.6,121.1 L139.7,120.9 L140.6,120.7Z" fill="#0d0d0d" stroke="#000" stroke-width="0.5"/><path d="M157.7,123.3 L157.6,123.1 L157.6,123 L157.6,122.4 L157.7,122.2 L157.8,122 L158.1,121.8 L158.4,121.7 L158.8,121.5 L159.2,121.4 L159.8,121.3 L160.3,121.2 L161,121.2 L161.6,121.1 L162.3,121.1 L162.9,121.1 L163.6,121.1 L164.3,121.2 L164.9,121.3 L165.5,121.4 L166,121.5 L166.5,121.6 L167,121.7 L167.3,121.9 L167.6,122.1 L167.8,122.3 L167.9,122.4 L168,122.6 L168,123.2 L167.9,123.4 L167.8,123.6 L167.5,123.8 L167.2,123.9 L166.8,124.1 L166.3,124.2 L165.8,124.3 L165.2,124.4 L164.6,124.5 L164,124.5 L163.3,124.5 L162.6,124.5 L161.9,124.5 L161.3,124.4 L160.6,124.4 L160,124.3 L159.5,124.1 L159,124 L158.5,123.9 L158.2,123.7 L157.9,123.5Z" fill="url(#g_black)" stroke="#000" stroke-width="0.5"/><path d="M167.8,123 L168,122.6 L167.8,122.3 L167.3,121.9 L166.5,121.6 L165.5,121.4 L164.3,121.2 L162.9,121.1 L161.6,121.1 L160.3,121.2 L159.2,121.4 L158.4,121.7 L157.8,122 L157.6,122.4 L157.7,122.7 L158.2,123.1 L159,123.4 L160,123.7 L161.3,123.8 L162.6,123.9 L164,123.9 L165.2,123.8 L166.3,123.6 L167.2,123.3Z" fill="#0d0d0d" stroke="#000" stroke-width="0.5"/><path d="M186.9,126.9 L186.4,126.8 L185.9,126.6 L185.6,126.4 L185.2,126.2 L185,126.1 L184.9,125.9 L184.8,125.7 L184.8,125.1 L184.9,124.9 L185,124.7 L185.2,124.5 L185.5,124.4 L185.9,124.2 L186.3,124.1 L186.8,124 L187.4,123.9 L188,123.8 L188.7,123.8 L189.3,123.8 L190,123.8 L190.7,123.8 L191.4,123.8 L192.1,123.9 L192.7,124 L193.3,124.1 L193.8,124.3 L194.3,124.4 L194.7,124.6 L195,124.8 L195.2,125 L195.4,125.2 L195.5,125.3 L195.4,126 L195.4,126.1 L195.3,126.3 L195.1,126.5 L194.8,126.7 L194.4,126.8 L194,127 L193.5,127.1 L192.9,127.2 L192.3,127.2 L191.6,127.3 L190.9,127.3 L190.2,127.3 L189.5,127.3 L188.8,127.2 L188.2,127.1 L187.5,127Z" fill="url(#g_black)" stroke="#000" stroke-width="0.5"/><path d="M195.3,125.7 L195.5,125.3 L195.2,125 L194.7,124.6 L193.8,124.3 L192.7,124 L191.4,123.8 L190,123.8 L188.7,123.8 L187.4,123.9 L186.3,124.1 L185.5,124.4 L185,124.7 L184.8,125.1 L185,125.5 L185.6,125.8 L186.4,126.2 L187.5,126.4 L188.8,126.6 L190.2,126.7 L191.6,126.7 L192.9,126.6 L194,126.3 L194.8,126.1Z" fill="#0d0d0d" stroke="#000" stroke-width="0.5"/><path d="M213.1,128.5 L213.1,128.3 L213.1,127.7 L213.2,127.5 L213.4,127.3 L213.7,127.1 L214,127 L214.5,126.9 L215,126.7 L215.5,126.7 L216.1,126.6 L216.8,126.5 L217.5,126.5 L218.2,126.5 L218.9,126.6 L219.6,126.6 L220.3,126.7 L220.9,126.8 L221.6,126.9 L222.1,127.1 L222.6,127.2 L223.1,127.4 L223.4,127.6 L223.7,127.8 L223.9,128 L224,128.2 L224,128.4 L224,129 L223.9,129.2 L223.8,129.4 L223.5,129.5 L223.1,129.7 L222.7,129.8 L222.2,130 L221.6,130 L221,130.1 L220.4,130.2 L219.7,130.2 L218.9,130.2 L218.2,130.2 L217.5,130.1 L216.8,130 L216.1,129.9 L215.5,129.8 L215,129.6 L214.4,129.5 L214,129.3 L213.7,129.1 L213.4,128.9 L213.2,128.7Z" fill="url(#g_black)" stroke="#000" stroke-width="0.5"/><path d="M223.9,128.6 L224,128.2 L223.7,127.8 L223.1,127.4 L222.1,127.1 L220.9,126.8 L219.6,126.6 L218.2,126.5 L216.8,126.5 L215.5,126.7 L214.5,126.9 L213.7,127.1 L213.2,127.5 L213.1,127.9 L213.4,128.3 L214,128.7 L215,129 L216.2,129.3 L217.5,129.5 L219,129.6 L220.4,129.5 L221.7,129.4 L222.7,129.2 L223.5,128.9Z" fill="#0d0d0d" stroke="#000" stroke-width="0.5"/><path d="M244.6,132.6 L244.1,132.4 L243.6,132.3 L243.2,132.1 L242.9,131.9 L242.7,131.6 L242.5,131.4 L242.5,131.2 L242.5,130.6 L242.6,130.4 L242.7,130.2 L243,130 L243.3,129.9 L243.7,129.7 L244.2,129.6 L244.8,129.5 L245.4,129.5 L246,129.4 L246.7,129.4 L247.4,129.4 L248.2,129.4 L248.9,129.5 L249.6,129.6 L250.3,129.7 L251,129.8 L251.6,130 L252.1,130.1 L252.6,130.3 L253,130.5 L253.3,130.7 L253.6,130.9 L253.7,131.1 L253.8,131.3 L253.8,131.9 L253.7,132.1 L253.6,132.3 L253.3,132.5 L253,132.7 L252.6,132.8 L252.1,132.9 L251.5,133 L250.9,133.1 L250.3,133.2 L249.6,133.2 L248.8,133.2 L248.1,133.2 L247.3,133.1 L246.6,133 L245.9,132.9 L245.2,132.8Z" fill="url(#g_black)" stroke="#000" stroke-width="0.5"/><path d="M253.7,131.5 L253.7,131.1 L253.3,130.7 L252.6,130.3 L251.6,130 L250.3,129.7 L248.9,129.5 L247.4,129.4 L246,129.4 L244.8,129.5 L243.7,129.7 L243,130 L242.6,130.4 L242.6,130.8 L242.9,131.2 L243.6,131.6 L244.7,132 L245.9,132.3 L247.4,132.5 L248.8,132.6 L250.3,132.5 L251.6,132.4 L252.6,132.2 L253.4,131.9Z" fill="#0d0d0d" stroke="#000" stroke-width="0.5"/><text x="39.1" y="118.5" font-size="7.3" text-anchor="end">0</text><text x="38.3" y="102.7" font-size="7.3" text-anchor="end">5</text><text x="37.4" y="86.8" font-size="7.3" text-anchor="end">10</text><text x="36.5" y="70.5" font-size="7.3" text-anchor="end">15</text><text x="35.6" y="54.1" font-size="7.3" text-anchor="end">20</text><text x="34.7" y="37.4" font-size="7.3" text-anchor="end">25</text><text x="58.9" y="125.8" font-size="7.65" text-anchor="end" transform="rotate(-45 58.9 125.8)"><tspan font-style="italic">B. cereus</tspan></text><text x="83" y="128.3" font-size="7.65" text-anchor="end" transform="rotate(-45 83 128.3)"><tspan font-style="italic">M. flavus</tspan></text><text x="108" y="130.8" font-size="7.65" text-anchor="end" transform="rotate(-45 108 130.8)"><tspan font-style="italic">S. aureus</tspan></text><text x="134" y="133.5" font-size="7.65" text-anchor="end" transform="rotate(-45 134 133.5)"><tspan font-style="italic">L. monocytogenes</tspan></text><text x="160.9" y="136.2" font-size="7.65" text-anchor="end" transform="rotate(-45 160.9 136.2)"><tspan font-style="italic">E. cloacae</tspan></text><text x="188.9" y="139.1" font-size="7.65" text-anchor="end" transform="rotate(-45 188.9 139.1)"><tspan font-style="italic">P. aeruginosa</tspan></text><text x="218.1" y="142.1" font-size="7.65" text-anchor="end" transform="rotate(-45 218.1 142.1)"><tspan font-style="italic">S.</tspan> Typhimurium </text><text x="248.4" y="145.2" font-size="7.65" text-anchor="end" transform="rotate(-45 248.4 145.2)"><tspan font-style="italic">E. coli</tspan></text><text x="3.9" y="12" font-size="9.6" text-anchor="start">a)</text><text x="24.4" y="76.8" font-size="8.7" text-anchor="middle" transform="rotate(-90 24.4 76.8)" textLength="49.2" lengthAdjust="spacingAndGlyphs">MIC (mg/mL)</text><text x="153.2" y="195.5" font-size="10.5" text-anchor="middle" textLength="64.5" lengthAdjust="spacingAndGlyphs">Microorganism</text><text x="276" y="135.5" font-size="7.5" text-anchor="middle">STR</text><text x="278.4" y="127.9" font-size="7.5" text-anchor="middle">AMP</text><text x="279.6" y="119.5" font-size="7.5" text-anchor="middle">A1</text><text x="279.9" y="112.3" font-size="7.5" text-anchor="middle">E1</text><text x="295.3" y="101.9" font-size="8.25" text-anchor="middle" transform="rotate(-90 295.3 101.9)" textLength="65.4" lengthAdjust="spacingAndGlyphs"><tspan font-style="italic">S. kitaibelii</tspan> extracts</text><text x="305.5" y="102" font-size="8.25" text-anchor="middle" transform="rotate(-90 305.5 102)" textLength="78" lengthAdjust="spacingAndGlyphs">and standard antibiotics</text><line x1="373.1" y1="112.8" x2="429.1" y2="87.2" stroke="#8a8a8a" stroke-width="0.8"/><line x1="429.1" y1="87.2" x2="632.7" y2="103.5" stroke="#8a8a8a" stroke-width="0.8"/><line x1="372.2" y1="96.6" x2="428.7" y2="73.9" stroke="#8a8a8a" stroke-width="0.8"/><line x1="428.7" y1="73.9" x2="633.5" y2="88.5" stroke="#8a8a8a" stroke-width="0.8"/><line x1="371.3" y1="80.3" x2="428.3" y2="60.5" stroke="#8a8a8a" stroke-width="0.8"/><line x1="428.3" y1="60.5" x2="634.3" y2="73.2" stroke="#8a8a8a" stroke-width="0.8"/><line x1="370.4" y1="63.6" x2="427.9" y2="46.9" stroke="#8a8a8a" stroke-width="0.8"/><line x1="427.9" y1="46.9" x2="635.2" y2="57.7" stroke="#8a8a8a" stroke-width="0.8"/><line x1="369.5" y1="46.8" x2="427.4" y2="33.2" stroke="#8a8a8a" stroke-width="0.8"/><line x1="427.4" y1="33.2" x2="636" y2="42.1" stroke="#8a8a8a" stroke-width="0.8"/><line x1="368.5" y1="29.7" x2="427" y2="19.3" stroke="#8a8a8a" stroke-width="0.8"/><line x1="427" y1="19.3" x2="636.8" y2="26.2" stroke="#8a8a8a" stroke-width="0.8"/><line x1="373.1" y1="112.8" x2="368.5" y2="29.7" stroke="#8a8a8a" stroke-width="0.8"/><line x1="373.1" y1="112.8" x2="370.1" y2="112.8" stroke="#8a8a8a" stroke-width="0.8"/><line x1="372.2" y1="96.6" x2="369.2" y2="96.6" stroke="#8a8a8a" stroke-width="0.8"/><line x1="371.3" y1="80.3" x2="368.3" y2="80.3" stroke="#8a8a8a" stroke-width="0.8"/><line x1="370.4" y1="63.6" x2="367.4" y2="63.6" stroke="#8a8a8a" stroke-width="0.8"/><line x1="369.5" y1="46.8" x2="366.5" y2="46.8" stroke="#8a8a8a" stroke-width="0.8"/><line x1="368.5" y1="29.7" x2="365.5" y2="29.7" stroke="#8a8a8a" stroke-width="0.8"/><line x1="373.1" y1="112.8" x2="621.7" y2="138.2" stroke="#8a8a8a" stroke-width="0.8"/><line x1="373.1" y1="112.8" x2="373.1" y2="115.8" stroke="#8a8a8a" stroke-width="0.8"/><line x1="399.9" y1="115.6" x2="399.9" y2="118.6" stroke="#8a8a8a" stroke-width="0.8"/><line x1="427.9" y1="118.4" x2="427.9" y2="121.4" stroke="#8a8a8a" stroke-width="0.8"/><line x1="456.9" y1="121.4" x2="456.9" y2="124.4" stroke="#8a8a8a" stroke-width="0.8"/><line x1="487.1" y1="124.5" x2="487.1" y2="127.5" stroke="#8a8a8a" stroke-width="0.8"/><line x1="518.6" y1="127.7" x2="518.6" y2="130.7" stroke="#8a8a8a" stroke-width="0.8"/><line x1="551.5" y1="131" x2="551.5" y2="134" stroke="#8a8a8a" stroke-width="0.8"/><line x1="585.8" y1="134.5" x2="585.8" y2="137.5" stroke="#8a8a8a" stroke-width="0.8"/><line x1="621.7" y1="138.2" x2="621.7" y2="141.2" stroke="#8a8a8a" stroke-width="0.8"/><line x1="621.7" y1="138.2" x2="632.7" y2="103.5" stroke="#8a8a8a" stroke-width="0.8"/><line x1="624.9" y1="128.1" x2="627.9" y2="128.1" stroke="#8a8a8a" stroke-width="0.8"/><line x1="627.9" y1="118.8" x2="630.9" y2="118.8" stroke="#8a8a8a" stroke-width="0.8"/><line x1="630.5" y1="110.5" x2="633.5" y2="110.5" stroke="#8a8a8a" stroke-width="0.8"/><path d="M439.9,85.7 L440.1,90.5 L440,90.6 L439.9,90.7 L439.7,90.9 L439.4,91 L439,91.1 L438.6,91.2 L438.2,91.3 L437.6,91.3 L437.1,91.4 L436.5,91.5 L435.9,91.5 L435.3,91.5 L434.6,91.5 L434,91.5 L433.5,91.4 L432.9,91.4 L432.4,91.3 L432,91.2 L431.6,91.1 L431.3,91 L431,90.9 L430.8,90.8 L430.7,90.7 L430.7,90.5 L430.6,85.8 L430.6,85.6 L430.8,85.5 L431,85.4 L431.3,85.3 L431.7,85.2 L432.1,85.1 L432.5,85 L433.1,84.9 L433.6,84.9 L434.2,84.8 L434.8,84.8 L435.4,84.8 L436,84.8 L436.6,84.8 L437.2,84.9 L437.7,84.9 L438.2,85 L438.7,85 L439,85.1 L439.4,85.2 L439.6,85.3 L439.8,85.5 L439.9,85.6Z" fill="url(#g_light)" stroke="#9c9c9c" stroke-width="0.5"/><path d="M439.5,86.1 L439.9,85.8 L439.9,85.6 L439.6,85.3 L439,85.1 L438.2,85 L437.2,84.9 L436,84.8 L434.8,84.8 L433.6,84.9 L432.5,85 L431.7,85.2 L431,85.4 L430.6,85.6 L430.6,85.9 L430.9,86.1 L431.4,86.3 L432.3,86.5 L433.3,86.6 L434.5,86.7 L435.7,86.7 L436.9,86.6 L438,86.5 L438.9,86.3Z" fill="#d8d8d8" stroke="#9c9c9c" stroke-width="0.5"/><path d="M463.5,87.4 L463.6,92.4 L463.5,92.5 L463.4,92.7 L463.2,92.8 L463,92.9 L462.6,93 L462.2,93.1 L461.8,93.2 L461.3,93.3 L460.7,93.4 L460.1,93.4 L459.5,93.4 L458.9,93.5 L458.3,93.5 L457.6,93.4 L457,93.4 L456.5,93.3 L456,93.3 L455.5,93.2 L455.1,93.1 L454.7,93 L454.4,92.8 L454.2,92.7 L454.1,92.6 L454.1,92.5 L454,87.5 L454,87.4 L454.1,87.2 L454.3,87.1 L454.6,87 L454.9,86.9 L455.3,86.8 L455.8,86.7 L456.3,86.6 L456.9,86.6 L457.4,86.5 L458,86.5 L458.7,86.5 L459.3,86.5 L459.9,86.5 L460.5,86.5 L461,86.6 L461.5,86.7 L462,86.7 L462.4,86.8 L462.8,86.9 L463.1,87 L463.3,87.2 L463.4,87.3Z" fill="url(#g_light)" stroke="#9c9c9c" stroke-width="0.5"/><path d="M463.1,87.8 L463.4,87.5 L463.4,87.3 L463.1,87 L462.4,86.8 L461.5,86.7 L460.5,86.5 L459.3,86.5 L458,86.5 L456.9,86.6 L455.8,86.7 L454.9,86.9 L454.3,87.1 L454,87.4 L454,87.6 L454.3,87.9 L455,88.1 L455.9,88.3 L456.9,88.4 L458.2,88.4 L459.4,88.4 L460.6,88.4 L461.7,88.2 L462.5,88Z" fill="#d8d8d8" stroke="#9c9c9c" stroke-width="0.5"/><path d="M478.2,94.4 L478,73 L478,72.9 L478.1,72.7 L478.2,72.6 L478.5,72.5 L478.8,72.4 L479.2,72.3 L479.7,72.3 L480.2,72.2 L480.7,72.1 L481.3,72.1 L481.9,72.1 L482.5,72.1 L483.2,72.1 L483.8,72.1 L484.4,72.1 L485,72.2 L485.5,72.2 L486,72.3 L486.5,72.4 L486.9,72.5 L487.2,72.6 L487.4,72.7 L487.6,72.8 L487.7,72.9 L487.8,94.4 L487.8,94.5 L487.7,94.7 L487.6,94.8 L487.3,94.9 L487,95 L486.6,95.1 L486.2,95.2 L485.7,95.3 L485.1,95.4 L484.5,95.4 L483.9,95.5 L483.3,95.5 L482.6,95.5 L482,95.5 L481.4,95.4 L480.8,95.4 L480.3,95.3 L479.8,95.2 L479.3,95.1 L479,95 L478.7,94.8 L478.4,94.7 L478.3,94.6Z" fill="url(#g_light)" stroke="#9c9c9c" stroke-width="0.5"/><path d="M487.4,73.3 L487.7,73 L487.6,72.8 L487.2,72.6 L486.5,72.4 L485.5,72.2 L484.4,72.1 L483.2,72.1 L481.9,72.1 L480.7,72.1 L479.7,72.3 L478.8,72.4 L478.2,72.6 L478,72.9 L478,73.1 L478.4,73.3 L479.1,73.5 L480.1,73.7 L481.2,73.8 L482.4,73.8 L483.7,73.8 L484.9,73.7 L486,73.6 L486.8,73.5Z" fill="#d8d8d8" stroke="#9c9c9c" stroke-width="0.5"/><path d="M513,74.7 L512.9,96.6 L512.9,96.7 L512.7,96.9 L512.5,97 L512.2,97.1 L511.8,97.2 L511.4,97.3 L510.9,97.4 L510.4,97.5 L509.8,97.5 L509.2,97.6 L508.5,97.6 L507.9,97.6 L507.2,97.5 L506.6,97.5 L506,97.4 L505.4,97.4 L504.9,97.3 L504.4,97.2 L504,97 L503.7,96.9 L503.4,96.8 L503.2,96.6 L503.1,96.5 L503.1,96.4 L503.1,74.6 L503.2,74.4 L503.3,74.3 L503.5,74.2 L503.8,74.1 L504.2,74 L504.7,74 L505.1,73.9 L505.7,73.8 L506.3,73.8 L506.9,73.8 L507.5,73.8 L508.2,73.8 L508.8,73.8 L509.4,73.8 L510,73.9 L510.6,73.9 L511.1,74 L511.6,74.1 L512,74.2 L512.4,74.3 L512.6,74.4 L512.8,74.5 L513,74.6Z" fill="url(#g_light)" stroke="#9c9c9c" stroke-width="0.5"/><path d="M512.8,75 L513,74.7 L512.8,74.5 L512.4,74.3 L511.6,74.1 L510.6,73.9 L509.4,73.8 L508.2,73.8 L506.9,73.8 L505.7,73.8 L504.7,74 L503.8,74.1 L503.3,74.3 L503.1,74.6 L503.2,74.8 L503.7,75 L504.4,75.2 L505.4,75.4 L506.6,75.5 L507.9,75.6 L509.2,75.6 L510.4,75.5 L511.5,75.4 L512.3,75.2Z" fill="#d8d8d8" stroke="#9c9c9c" stroke-width="0.5"/><path d="M528.9,98.5 L529.1,76.3 L529.1,76.2 L529.2,76.1 L529.4,76 L529.7,75.9 L530.1,75.8 L530.5,75.7 L531,75.6 L531.5,75.6 L532.1,75.5 L532.7,75.5 L533.4,75.5 L534,75.5 L534.7,75.5 L535.3,75.5 L535.9,75.6 L536.5,75.7 L537.1,75.7 L537.6,75.8 L538.1,75.9 L538.4,76 L538.7,76.1 L539,76.3 L539.1,76.4 L539.2,76.5 L538.9,98.7 L538.8,98.8 L538.7,99 L538.5,99.1 L538.3,99.3 L537.9,99.4 L537.5,99.5 L537,99.6 L536.5,99.6 L535.9,99.7 L535.3,99.7 L534.6,99.7 L534,99.7 L533.3,99.7 L532.6,99.7 L532,99.6 L531.4,99.5 L530.9,99.4 L530.4,99.3 L529.9,99.2 L529.6,99.1 L529.3,98.9 L529,98.8 L528.9,98.6Z" fill="url(#g_light)" stroke="#9c9c9c" stroke-width="0.5"/><path d="M539,76.8 L539.2,76.5 L539,76.3 L538.4,76 L537.6,75.8 L536.5,75.7 L535.3,75.5 L534,75.5 L532.7,75.5 L531.5,75.6 L530.5,75.7 L529.7,75.9 L529.2,76.1 L529.1,76.3 L529.3,76.6 L529.8,76.8 L530.6,77 L531.7,77.2 L532.9,77.3 L534.2,77.4 L535.5,77.4 L536.8,77.3 L537.8,77.1 L538.6,77Z" fill="#d8d8d8" stroke="#9c9c9c" stroke-width="0.5"/><path d="M566.3,78.8 L565.7,101.1 L565.7,101.2 L565.5,101.3 L565.2,101.5 L564.9,101.6 L564.5,101.7 L564,101.8 L563.5,101.9 L562.9,101.9 L562.3,102 L561.6,102 L561,102 L560.3,101.9 L559.6,101.9 L559,101.8 L558.3,101.7 L557.8,101.6 L557.2,101.5 L556.7,101.4 L556.3,101.3 L556,101.1 L555.7,101 L555.6,100.8 L555.5,100.7 L556,78.4 L556,78.3 L556.1,78.2 L556.2,78.1 L556.5,78 L556.8,77.9 L557.2,77.8 L557.7,77.7 L558.3,77.7 L558.8,77.6 L559.5,77.6 L560.1,77.6 L560.8,77.6 L561.4,77.6 L562.1,77.6 L562.8,77.7 L563.4,77.8 L564,77.8 L564.5,77.9 L565,78 L565.4,78.1 L565.7,78.3 L566,78.4 L566.2,78.5 L566.3,78.6Z" fill="url(#g_light)" stroke="#9c9c9c" stroke-width="0.5"/><path d="M566.2,78.9 L566.3,78.6 L566,78.4 L565.4,78.1 L564.5,77.9 L563.4,77.8 L562.1,77.6 L560.8,77.6 L559.5,77.6 L558.3,77.7 L557.2,77.8 L556.5,78 L556.1,78.2 L556,78.4 L556.2,78.7 L556.8,78.9 L557.7,79.2 L558.8,79.3 L560.1,79.5 L561.5,79.5 L562.8,79.5 L564,79.4 L565.1,79.3 L565.8,79.1Z" fill="#d8d8d8" stroke="#9c9c9c" stroke-width="0.5"/><path d="M594.4,80.7 L593.6,103.3 L593.5,103.5 L593.4,103.6 L593.2,103.8 L592.9,103.9 L592.5,104 L592,104.1 L591.5,104.2 L590.9,104.2 L590.3,104.3 L589.6,104.3 L588.9,104.3 L588.2,104.3 L587.5,104.2 L586.9,104.1 L586.2,104.1 L585.6,104 L585,103.8 L584.5,103.7 L584.1,103.6 L583.7,103.4 L583.4,103.3 L583.2,103.1 L583.1,102.9 L583,102.8 L583.8,80.2 L583.8,80.1 L584,80 L584.2,79.9 L584.5,79.8 L584.9,79.7 L585.4,79.6 L585.9,79.5 L586.5,79.5 L587.1,79.5 L587.8,79.4 L588.5,79.5 L589.2,79.5 L589.8,79.5 L590.5,79.6 L591.2,79.6 L591.8,79.7 L592.4,79.8 L592.9,79.9 L593.3,80 L593.7,80.2 L594,80.3 L594.2,80.4 L594.4,80.5Z" fill="url(#g_light)" stroke="#9c9c9c" stroke-width="0.5"/><path d="M594.4,80.8 L594.4,80.5 L594,80.3 L593.3,80 L592.4,79.8 L591.2,79.6 L589.8,79.5 L588.5,79.5 L587.1,79.5 L585.9,79.5 L584.9,79.7 L584.2,79.9 L583.8,80.1 L583.8,80.3 L584.1,80.6 L584.8,80.9 L585.8,81.1 L587,81.3 L588.3,81.4 L589.7,81.5 L591.1,81.5 L592.3,81.4 L593.3,81.2 L594,81Z" fill="#d8d8d8" stroke="#9c9c9c" stroke-width="0.5"/><path d="M611.6,105.1 L612.6,81.9 L612.6,81.7 L612.8,81.6 L613,81.5 L613.3,81.4 L613.6,81.3 L614.1,81.2 L614.6,81.2 L615.2,81.1 L615.8,81.1 L616.5,81.1 L617.2,81.1 L617.9,81.1 L618.6,81.1 L619.3,81.2 L620,81.3 L620.6,81.4 L621.2,81.5 L621.8,81.6 L622.3,81.7 L622.7,81.8 L623.1,81.9 L623.3,82.1 L623.5,82.2 L623.6,82.3 L622.4,105.7 L622.4,105.9 L622.3,106 L622.1,106.2 L621.8,106.3 L621.5,106.4 L621,106.5 L620.5,106.6 L619.9,106.6 L619.3,106.7 L618.6,106.7 L617.9,106.7 L617.2,106.7 L616.5,106.6 L615.8,106.5 L615.1,106.5 L614.4,106.3 L613.8,106.2 L613.3,106.1 L612.8,105.9 L612.4,105.8 L612.1,105.6 L611.8,105.5 L611.7,105.3Z" fill="url(#g_light)" stroke="#9c9c9c" stroke-width="0.5"/><path d="M623.6,82.5 L623.5,82.2 L623.1,81.9 L622.3,81.7 L621.2,81.5 L620,81.3 L618.6,81.1 L617.2,81.1 L615.8,81.1 L614.6,81.2 L613.6,81.3 L613,81.5 L612.6,81.7 L612.7,82 L613.1,82.3 L613.8,82.5 L614.9,82.8 L616.2,83 L617.6,83.1 L619,83.2 L620.4,83.1 L621.6,83.1 L622.6,82.9 L623.3,82.7Z" fill="#d8d8d8" stroke="#9c9c9c" stroke-width="0.5"/><path d="M427.2,80.6 L427.7,96.6 L427.7,96.7 L427.5,96.8 L427.3,97 L426.9,97.1 L426.6,97.2 L426.1,97.3 L425.6,97.4 L425.1,97.5 L424.5,97.6 L423.8,97.6 L423.2,97.7 L422.5,97.7 L421.9,97.7 L421.3,97.7 L420.7,97.6 L420.1,97.6 L419.6,97.5 L419.1,97.4 L418.7,97.3 L418.4,97.2 L418.1,97 L418,96.9 L417.9,96.8 L417.3,80.8 L417.3,80.7 L417.4,80.6 L417.5,80.4 L417.8,80.3 L418.1,80.2 L418.5,80.1 L419,80 L419.5,79.9 L420,79.8 L420.6,79.8 L421.2,79.7 L421.9,79.7 L422.5,79.7 L423.2,79.7 L423.8,79.7 L424.4,79.8 L424.9,79.8 L425.5,79.9 L425.9,80 L426.3,80.1 L426.7,80.2 L426.9,80.3 L427.1,80.4 L427.2,80.5Z" fill="url(#g_mid)" stroke="#686868" stroke-width="0.5"/><path d="M426.7,81 L427.1,80.8 L427.2,80.5 L426.9,80.3 L426.3,80.1 L425.5,79.9 L424.4,79.8 L423.2,79.7 L421.9,79.7 L420.6,79.8 L419.5,79.9 L418.5,80.1 L417.8,80.3 L417.4,80.6 L417.3,80.8 L417.6,81.1 L418.1,81.3 L419,81.4 L420.1,81.6 L421.3,81.6 L422.6,81.6 L423.9,81.5 L425.1,81.4 L426,81.2Z" fill="#9c9c9c" stroke="#686868" stroke-width="0.5"/><path d="M442.3,98.8 L440.5,32.2 L440.6,32.1 L440.7,32 L440.9,32 L441.3,31.9 L441.6,31.8 L442.1,31.8 L442.6,31.7 L443.2,31.7 L443.8,31.7 L444.4,31.7 L445.1,31.6 L445.7,31.6 L446.4,31.6 L447,31.6 L447.7,31.7 L448.3,31.7 L448.8,31.7 L449.3,31.8 L449.7,31.8 L450.1,31.9 L450.4,31.9 L450.6,32 L450.8,32.1 L450.8,32.2 L452.3,98.7 L452.2,98.8 L452.1,99 L451.9,99.1 L451.6,99.3 L451.2,99.4 L450.8,99.5 L450.3,99.6 L449.7,99.7 L449.1,99.8 L448.5,99.8 L447.9,99.9 L447.2,99.9 L446.6,99.9 L445.9,99.8 L445.3,99.8 L444.7,99.7 L444.2,99.7 L443.7,99.6 L443.2,99.4 L442.9,99.3 L442.6,99.2 L442.4,99.1 L442.3,98.9Z" fill="url(#g_mid)" stroke="#686868" stroke-width="0.5"/><path d="M450.4,32.4 L450.7,32.2 L450.8,32.1 L450.4,31.9 L449.7,31.8 L448.8,31.7 L447.7,31.7 L446.4,31.6 L445.1,31.6 L443.8,31.7 L442.6,31.7 L441.6,31.8 L440.9,32 L440.6,32.1 L440.5,32.2 L440.9,32.4 L441.5,32.5 L442.5,32.6 L443.6,32.7 L444.9,32.7 L446.3,32.7 L447.6,32.7 L448.8,32.6 L449.7,32.5Z" fill="#9c9c9c" stroke="#686868" stroke-width="0.5"/><path d="M477.3,67.6 L477.6,100.9 L477.6,101 L477.5,101.2 L477.4,101.3 L477.1,101.5 L476.7,101.6 L476.3,101.7 L475.8,101.8 L475.3,101.9 L474.7,102 L474.1,102.1 L473.4,102.1 L472.8,102.1 L472.1,102.1 L471.4,102.1 L470.8,102 L470.2,102 L469.6,101.9 L469.1,101.8 L468.6,101.7 L468.2,101.6 L467.9,101.4 L467.7,101.3 L467.6,101.1 L467.5,101 L467,67.7 L467,67.5 L467.1,67.4 L467.3,67.3 L467.6,67.2 L467.9,67.1 L468.4,67 L468.9,67 L469.4,66.9 L470,66.8 L470.6,66.8 L471.3,66.8 L471.9,66.8 L472.6,66.8 L473.3,66.8 L473.9,66.8 L474.5,66.9 L475.1,66.9 L475.6,67 L476.1,67.1 L476.5,67.2 L476.8,67.3 L477,67.4 L477.2,67.5Z" fill="url(#g_mid)" stroke="#686868" stroke-width="0.5"/><path d="M477,67.9 L477.3,67.7 L477.2,67.5 L476.8,67.3 L476.1,67.1 L475.1,66.9 L473.9,66.8 L472.6,66.8 L471.3,66.8 L470,66.8 L468.9,67 L467.9,67.1 L467.3,67.3 L467,67.5 L467,67.8 L467.4,68 L468.1,68.2 L469.1,68.3 L470.3,68.5 L471.6,68.5 L473,68.5 L474.3,68.4 L475.4,68.3 L476.3,68.1Z" fill="#9c9c9c" stroke="#686868" stroke-width="0.5"/><path d="M503.9,69.4 L504,103.3 L503.9,103.5 L503.7,103.6 L503.5,103.8 L503.2,103.9 L502.8,104 L502.3,104.2 L501.8,104.3 L501.2,104.3 L500.6,104.4 L499.9,104.4 L499.2,104.4 L498.5,104.4 L497.9,104.4 L497.2,104.4 L496.6,104.3 L496,104.2 L495.4,104.1 L494.9,104 L494.5,103.9 L494.2,103.7 L493.9,103.6 L493.7,103.4 L493.6,103.2 L493.6,103.1 L493.5,69.3 L493.5,69.1 L493.7,69 L494,68.9 L494.3,68.8 L494.7,68.7 L495.2,68.6 L495.7,68.6 L496.3,68.5 L496.9,68.5 L497.6,68.5 L498.2,68.4 L498.9,68.5 L499.6,68.5 L500.3,68.5 L500.9,68.6 L501.5,68.6 L502,68.7 L502.5,68.8 L503,68.9 L503.3,69 L503.6,69.1 L503.8,69.2 L503.9,69.3Z" fill="url(#g_mid)" stroke="#686868" stroke-width="0.5"/><path d="M503.7,69.7 L503.9,69.4 L503.8,69.2 L503.3,69 L502.5,68.8 L501.5,68.6 L500.3,68.5 L498.9,68.5 L497.6,68.5 L496.3,68.5 L495.2,68.6 L494.3,68.8 L493.7,69 L493.5,69.3 L493.6,69.5 L494,69.7 L494.8,69.9 L495.8,70.1 L497.1,70.2 L498.5,70.3 L499.8,70.3 L501.1,70.2 L502.3,70.1 L503.1,69.9Z" fill="#9c9c9c" stroke="#686868" stroke-width="0.5"/><path d="M520.7,105.5 L520.9,70.9 L520.9,70.8 L521.1,70.6 L521.3,70.5 L521.6,70.4 L522,70.3 L522.4,70.2 L523,70.2 L523.5,70.1 L524.2,70.1 L524.8,70 L525.5,70 L526.2,70 L526.9,70.1 L527.6,70.1 L528.2,70.1 L528.9,70.2 L529.5,70.3 L530,70.4 L530.4,70.5 L530.8,70.6 L531.2,70.7 L531.4,70.8 L531.5,70.9 L531.6,71.1 L531.2,105.7 L531.2,105.9 L531.1,106 L530.9,106.2 L530.6,106.3 L530.2,106.4 L529.7,106.6 L529.2,106.7 L528.6,106.7 L528,106.8 L527.3,106.8 L526.7,106.9 L526,106.8 L525.3,106.8 L524.6,106.8 L523.9,106.7 L523.3,106.6 L522.7,106.5 L522.2,106.4 L521.7,106.2 L521.4,106.1 L521,105.9 L520.8,105.8 L520.7,105.6Z" fill="url(#g_mid)" stroke="#686868" stroke-width="0.5"/><path d="M531.4,71.3 L531.6,71.1 L531.4,70.8 L530.8,70.6 L530,70.4 L528.9,70.2 L527.6,70.1 L526.2,70 L524.8,70 L523.5,70.1 L522.4,70.2 L521.6,70.4 L521.1,70.6 L520.9,70.9 L521.1,71.1 L521.6,71.4 L522.4,71.6 L523.6,71.7 L524.9,71.9 L526.3,71.9 L527.7,71.9 L529,71.8 L530.1,71.7 L530.9,71.5Z" fill="#9c9c9c" stroke="#686868" stroke-width="0.5"/><path d="M560.3,73.2 L559.5,108.3 L559.4,108.5 L559.2,108.7 L559,108.8 L558.6,108.9 L558.2,109.1 L557.7,109.2 L557.1,109.2 L556.5,109.3 L555.8,109.3 L555.1,109.4 L554.4,109.3 L553.7,109.3 L553,109.3 L552.3,109.2 L551.6,109.1 L551,109 L550.5,108.9 L550,108.7 L549.5,108.6 L549.2,108.4 L548.9,108.2 L548.8,108.1 L548.7,107.9 L549.3,72.9 L549.3,72.8 L549.4,72.6 L549.6,72.5 L549.9,72.4 L550.3,72.3 L550.7,72.2 L551.2,72.1 L551.8,72.1 L552.4,72 L553.1,72 L553.8,72 L554.5,72 L555.2,72 L555.9,72.1 L556.6,72.1 L557.3,72.2 L557.9,72.3 L558.4,72.4 L558.9,72.5 L559.4,72.6 L559.7,72.7 L560,72.8 L560.2,72.9 L560.3,73.1Z" fill="url(#g_mid)" stroke="#686868" stroke-width="0.5"/><path d="M560.2,73.3 L560.3,73.1 L560,72.8 L559.4,72.6 L558.4,72.4 L557.3,72.2 L555.9,72.1 L554.5,72 L553.1,72 L551.8,72.1 L550.7,72.2 L549.9,72.4 L549.4,72.6 L549.3,72.9 L549.6,73.1 L550.2,73.4 L551.1,73.6 L552.3,73.8 L553.7,73.9 L555.1,74 L556.5,74 L557.8,73.9 L558.9,73.7 L559.7,73.6Z" fill="#9c9c9c" stroke="#686868" stroke-width="0.5"/><path d="M577.7,110.3 L578.8,74.5 L578.9,74.4 L579.1,74.3 L579.3,74.1 L579.7,74 L580.1,73.9 L580.6,73.9 L581.1,73.8 L581.8,73.8 L582.4,73.7 L583.1,73.7 L583.8,73.7 L584.6,73.8 L585.3,73.8 L586,73.8 L586.7,73.9 L587.4,74 L588,74.1 L588.5,74.2 L589,74.3 L589.4,74.4 L589.7,74.6 L589.9,74.7 L590.1,74.8 L590.1,75 L588.9,110.9 L588.8,111.1 L588.7,111.2 L588.4,111.4 L588.1,111.5 L587.7,111.6 L587.2,111.7 L586.6,111.8 L586,111.9 L585.3,111.9 L584.6,112 L583.9,111.9 L583.2,111.9 L582.4,111.9 L581.7,111.8 L581,111.7 L580.4,111.6 L579.8,111.4 L579.2,111.3 L578.8,111.1 L578.4,111 L578.1,110.8 L577.9,110.6 L577.8,110.4Z" fill="url(#g_mid)" stroke="#686868" stroke-width="0.5"/><path d="M590.1,75.1 L590.1,74.8 L589.7,74.6 L589,74.3 L588,74.1 L586.7,73.9 L585.3,73.8 L583.8,73.7 L582.4,73.7 L581.1,73.8 L580.1,73.9 L579.3,74.1 L578.9,74.4 L578.8,74.6 L579.2,74.9 L579.9,75.2 L580.9,75.4 L582.2,75.6 L583.6,75.7 L585.1,75.8 L586.5,75.7 L587.8,75.7 L588.9,75.5 L589.7,75.3Z" fill="#9c9c9c" stroke="#686868" stroke-width="0.5"/><path d="M607.9,112.9 L609.5,76.1 L609.5,76 L609.6,75.9 L609.8,75.8 L610.2,75.7 L610.6,75.6 L611.1,75.5 L611.6,75.4 L612.2,75.4 L612.9,75.4 L613.6,75.3 L614.3,75.4 L615.1,75.4 L615.8,75.4 L616.6,75.5 L617.3,75.5 L618,75.6 L618.7,75.7 L619.2,75.8 L619.8,76 L620.2,76.1 L620.6,76.2 L620.9,76.4 L621,76.5 L621.1,76.6 L619.4,113.5 L619.3,113.7 L619.2,113.9 L619,114 L618.7,114.2 L618.3,114.3 L617.8,114.4 L617.3,114.5 L616.7,114.6 L616,114.6 L615.3,114.6 L614.5,114.6 L613.8,114.6 L613,114.6 L612.3,114.5 L611.6,114.4 L610.9,114.3 L610.2,114.1 L609.7,114 L609.1,113.8 L608.7,113.6 L608.4,113.4 L608.1,113.3 L607.9,113.1Z" fill="url(#g_mid)" stroke="#686868" stroke-width="0.5"/><path d="M621.1,76.8 L621,76.5 L620.6,76.2 L619.8,76 L618.7,75.7 L617.3,75.5 L615.8,75.4 L614.3,75.4 L612.9,75.4 L611.6,75.4 L610.6,75.6 L609.8,75.8 L609.5,76 L609.5,76.3 L610,76.6 L610.8,76.8 L611.9,77.1 L613.2,77.3 L614.7,77.4 L616.2,77.4 L617.7,77.4 L619,77.4 L620.1,77.2 L620.8,77Z" fill="#9c9c9c" stroke="#686868" stroke-width="0.5"/><path d="M403.9,103.4 L403.9,102.9 L403.9,102.7 L404,102.5 L404.2,102.4 L404.5,102.2 L404.8,102.1 L405.2,102 L405.7,101.8 L406.3,101.7 L406.9,101.6 L407.5,101.6 L408.2,101.5 L408.8,101.5 L409.5,101.5 L410.2,101.5 L410.8,101.5 L411.4,101.5 L412,101.6 L412.6,101.7 L413,101.8 L413.5,101.9 L413.8,102 L414,102.2 L414.2,102.3 L414.3,102.5 L414.3,103 L414.3,103.2 L414.2,103.3 L414.1,103.5 L413.8,103.6 L413.4,103.8 L413,103.9 L412.5,104 L412,104.1 L411.4,104.2 L410.8,104.3 L410.1,104.4 L409.4,104.4 L408.7,104.4 L408,104.4 L407.4,104.4 L406.7,104.3 L406.1,104.3 L405.6,104.2 L405.1,104.1 L404.7,104 L404.4,103.8 L404.1,103.7 L404,103.6Z" fill="url(#g_dark)" stroke="#474747" stroke-width="0.5"/><path d="M413.8,103.1 L414.2,102.8 L414.3,102.5 L414,102.2 L413.5,101.9 L412.6,101.7 L411.4,101.5 L410.2,101.5 L408.8,101.5 L407.5,101.6 L406.3,101.7 L405.2,102 L404.5,102.2 L404,102.5 L403.9,102.9 L404.1,103.2 L404.7,103.4 L405.6,103.7 L406.7,103.8 L408,103.9 L409.4,103.9 L410.7,103.8 L412,103.6 L413,103.4Z" fill="#6c6c6c" stroke="#474747" stroke-width="0.5"/><path d="M429.5,105.9 L429.4,105.8 L429.4,105.6 L429.4,105.1 L429.5,104.9 L429.6,104.7 L429.9,104.6 L430.2,104.4 L430.6,104.3 L431.1,104.2 L431.6,104 L432.2,104 L432.8,103.9 L433.5,103.8 L434.2,103.8 L434.8,103.8 L435.5,103.8 L436.2,103.8 L436.8,103.8 L437.4,103.9 L438,104 L438.5,104.1 L438.9,104.2 L439.3,104.4 L439.6,104.5 L439.8,104.7 L439.9,104.8 L440,105 L440,105.5 L439.9,105.7 L439.8,105.9 L439.5,106 L439.2,106.2 L438.8,106.3 L438.3,106.4 L437.8,106.6 L437.2,106.6 L436.6,106.7 L435.9,106.8 L435.2,106.8 L434.5,106.8 L433.8,106.8 L433.2,106.8 L432.5,106.8 L431.9,106.7 L431.3,106.6 L430.8,106.5 L430.4,106.4 L430,106.2 L429.7,106.1Z" fill="url(#g_dark)" stroke="#474747" stroke-width="0.5"/><path d="M439.5,105.5 L439.9,105.1 L439.9,104.8 L439.6,104.5 L438.9,104.2 L438,104 L436.8,103.8 L435.5,103.8 L434.2,103.8 L432.8,103.9 L431.6,104 L430.6,104.3 L429.9,104.6 L429.5,104.9 L429.4,105.2 L429.7,105.5 L430.4,105.8 L431.3,106 L432.5,106.2 L433.8,106.3 L435.2,106.3 L436.6,106.2 L437.8,106 L438.8,105.8Z" fill="#6c6c6c" stroke="#474747" stroke-width="0.5"/><path d="M455.8,108.1 L455.8,107.5 L455.9,107.3 L456,107.2 L456.2,107 L456.5,106.8 L456.9,106.7 L457.4,106.6 L457.9,106.5 L458.5,106.4 L459.1,106.3 L459.7,106.2 L460.4,106.2 L461.1,106.2 L461.8,106.2 L462.5,106.2 L463.2,106.2 L463.8,106.3 L464.4,106.4 L464.9,106.5 L465.4,106.6 L465.8,106.8 L466.1,106.9 L466.3,107.1 L466.5,107.2 L466.6,107.4 L466.6,108 L466.5,108.2 L466.4,108.3 L466.2,108.5 L465.9,108.6 L465.5,108.8 L465.1,108.9 L464.6,109 L464,109.1 L463.4,109.2 L462.7,109.3 L462,109.3 L461.3,109.3 L460.6,109.3 L459.9,109.3 L459.2,109.3 L458.6,109.2 L458,109.1 L457.4,109 L457,108.9 L456.6,108.7 L456.3,108.6 L456,108.4 L455.9,108.2Z" fill="url(#g_dark)" stroke="#474747" stroke-width="0.5"/><path d="M466.2,107.9 L466.5,107.6 L466.5,107.2 L466.1,106.9 L465.4,106.6 L464.4,106.4 L463.2,106.2 L461.8,106.2 L460.4,106.2 L459.1,106.3 L457.9,106.5 L456.9,106.7 L456.2,107 L455.9,107.3 L455.9,107.7 L456.3,108 L457,108.3 L458,108.5 L459.2,108.7 L460.6,108.8 L462,108.8 L463.4,108.7 L464.6,108.5 L465.5,108.2Z" fill="#6c6c6c" stroke="#474747" stroke-width="0.5"/><path d="M483.2,110 L483.3,109.9 L483.4,109.7 L483.5,109.5 L483.8,109.4 L484.2,109.2 L484.6,109.1 L485.1,109 L485.7,108.9 L486.3,108.8 L487,108.7 L487.6,108.7 L488.3,108.7 L489.1,108.7 L489.8,108.7 L490.4,108.7 L491.1,108.8 L491.7,108.9 L492.3,109 L492.8,109.1 L493.2,109.3 L493.6,109.4 L493.9,109.6 L494.1,109.8 L494.2,110 L494.2,110.1 L494.2,110.7 L494.1,110.9 L493.9,111.1 L493.6,111.2 L493.3,111.4 L492.9,111.5 L492.4,111.6 L491.8,111.7 L491.2,111.8 L490.5,111.9 L489.8,111.9 L489.1,111.9 L488.4,111.9 L487.6,111.9 L487,111.9 L486.3,111.8 L485.7,111.7 L485.1,111.6 L484.6,111.4 L484.1,111.3 L483.8,111.1 L483.5,111 L483.3,110.8 L483.3,110.6Z" fill="url(#g_dark)" stroke="#474747" stroke-width="0.5"/><path d="M493.9,110.5 L494.2,110.1 L494.1,109.8 L493.6,109.4 L492.8,109.1 L491.7,108.9 L490.4,108.7 L489.1,108.7 L487.6,108.7 L486.3,108.8 L485.1,109 L484.2,109.2 L483.5,109.5 L483.3,109.9 L483.3,110.2 L483.8,110.6 L484.6,110.9 L485.7,111.1 L486.9,111.3 L488.4,111.4 L489.8,111.4 L491.2,111.3 L492.4,111.1 L493.3,110.8Z" fill="#6c6c6c" stroke="#474747" stroke-width="0.5"/><path d="M513.8,114.3 L513.2,114.1 L512.8,114 L512.4,113.8 L512.1,113.6 L511.8,113.4 L511.7,113.3 L511.7,113.1 L511.7,112.5 L511.8,112.3 L511.9,112.1 L512.2,112 L512.5,111.8 L512.9,111.7 L513.4,111.6 L513.9,111.4 L514.6,111.4 L515.2,111.3 L515.9,111.3 L516.6,111.2 L517.3,111.2 L518.1,111.3 L518.8,111.3 L519.4,111.4 L520.1,111.5 L520.7,111.6 L521.2,111.7 L521.7,111.9 L522.1,112.1 L522.4,112.2 L522.7,112.4 L522.8,112.6 L522.9,112.8 L522.9,113.4 L522.8,113.5 L522.7,113.7 L522.4,113.9 L522.1,114 L521.7,114.2 L521.2,114.3 L520.7,114.4 L520,114.5 L519.4,114.6 L518.7,114.6 L517.9,114.6 L517.2,114.6 L516.5,114.6 L515.8,114.6 L515.1,114.5 L514.4,114.4Z" fill="url(#g_dark)" stroke="#474747" stroke-width="0.5"/><path d="M522.7,113.1 L522.9,112.8 L522.7,112.4 L522.1,112.1 L521.2,111.7 L520.1,111.5 L518.8,111.3 L517.3,111.2 L515.9,111.3 L514.6,111.4 L513.4,111.6 L512.5,111.8 L511.9,112.1 L511.7,112.5 L511.8,112.9 L512.4,113.2 L513.3,113.5 L514.4,113.8 L515.8,114 L517.2,114.1 L518.7,114 L520,113.9 L521.2,113.7 L522.1,113.5Z" fill="#6c6c6c" stroke="#474747" stroke-width="0.5"/><path d="M543.6,117.1 L543,116.9 L542.5,116.7 L542.1,116.6 L541.7,116.4 L541.5,116.2 L541.3,116 L541.2,115.8 L541.2,115.2 L541.3,115 L541.4,114.9 L541.6,114.7 L541.9,114.5 L542.3,114.4 L542.8,114.3 L543.3,114.1 L543.9,114.1 L544.6,114 L545.2,113.9 L546,113.9 L546.7,113.9 L547.4,114 L548.2,114 L548.9,114.1 L549.6,114.2 L550.2,114.3 L550.8,114.4 L551.3,114.6 L551.8,114.8 L552.1,115 L552.4,115.1 L552.6,115.3 L552.7,115.5 L552.7,116.1 L552.7,116.3 L552.6,116.5 L552.4,116.7 L552.1,116.8 L551.7,117 L551.2,117.1 L550.7,117.2 L550,117.3 L549.4,117.4 L548.7,117.4 L547.9,117.5 L547.2,117.4 L546.4,117.4 L545.7,117.4 L545,117.3 L544.3,117.2Z" fill="url(#g_dark)" stroke="#474747" stroke-width="0.5"/><path d="M552.6,115.9 L552.7,115.5 L552.4,115.1 L551.8,114.8 L550.8,114.4 L549.6,114.2 L548.2,114 L546.7,113.9 L545.2,113.9 L543.9,114.1 L542.8,114.3 L541.9,114.5 L541.4,114.9 L541.2,115.2 L541.5,115.6 L542.1,116 L543,116.3 L544.3,116.6 L545.7,116.8 L547.2,116.9 L548.7,116.8 L550.1,116.7 L551.2,116.5 L552.1,116.2Z" fill="#6c6c6c" stroke="#474747" stroke-width="0.5"/><path d="M574,119.8 L573.5,119.6 L573,119.5 L572.6,119.3 L572.3,119.1 L572,118.9 L571.9,118.7 L571.9,118.5 L571.9,117.9 L572,117.7 L572.2,117.5 L572.5,117.3 L572.8,117.2 L573.3,117.1 L573.8,116.9 L574.4,116.8 L575,116.8 L575.7,116.7 L576.5,116.7 L577.2,116.7 L578,116.8 L578.8,116.8 L579.5,116.9 L580.2,117 L580.9,117.1 L581.5,117.3 L582.1,117.4 L582.6,117.6 L583,117.8 L583.3,118 L583.5,118.2 L583.7,118.4 L583.7,118.6 L583.7,119.2 L583.6,119.4 L583.5,119.5 L583.2,119.7 L582.8,119.9 L582.4,120 L581.9,120.1 L581.3,120.2 L580.6,120.3 L579.9,120.4 L579.1,120.4 L578.4,120.4 L577.6,120.3 L576.8,120.3 L576.1,120.2 L575.3,120.1 L574.6,120Z" fill="url(#g_dark)" stroke="#474747" stroke-width="0.5"/><path d="M583.6,118.8 L583.7,118.4 L583.3,118 L582.6,117.6 L581.5,117.3 L580.2,117 L578.8,116.8 L577.2,116.7 L575.7,116.7 L574.4,116.8 L573.3,117.1 L572.5,117.3 L572,117.7 L571.9,118.1 L572.3,118.5 L573,118.9 L574,119.2 L575.4,119.5 L576.8,119.7 L578.4,119.8 L579.9,119.7 L581.3,119.6 L582.4,119.4 L583.2,119.1Z" fill="#6c6c6c" stroke="#474747" stroke-width="0.5"/><path d="M606.3,122.8 L605.7,122.6 L605.1,122.5 L604.7,122.3 L604.3,122.1 L604,121.9 L603.9,121.6 L603.8,121.4 L603.8,120.8 L603.9,120.6 L604,120.4 L604.3,120.3 L604.6,120.1 L605,120 L605.5,119.8 L606.1,119.8 L606.8,119.7 L607.5,119.6 L608.2,119.6 L609,119.6 L609.8,119.7 L610.6,119.7 L611.3,119.8 L612.1,119.9 L612.8,120 L613.5,120.2 L614.1,120.3 L614.6,120.5 L615.1,120.7 L615.5,120.9 L615.8,121.1 L615.9,121.3 L616,121.5 L616,122.2 L616,122.4 L615.8,122.6 L615.6,122.7 L615.3,122.9 L614.8,123 L614.3,123.2 L613.7,123.3 L613.1,123.3 L612.4,123.4 L611.6,123.4 L610.8,123.4 L610,123.4 L609.2,123.3 L608.4,123.2 L607.7,123.1 L606.9,123Z" fill="url(#g_dark)" stroke="#474747" stroke-width="0.5"/><path d="M616,121.7 L615.9,121.3 L615.5,120.9 L614.6,120.5 L613.5,120.2 L612.1,119.9 L610.6,119.7 L609,119.6 L607.5,119.6 L606.1,119.8 L605,120 L604.3,120.3 L603.9,120.6 L603.9,121 L604.3,121.4 L605.1,121.8 L606.3,122.2 L607.7,122.5 L609.3,122.7 L610.9,122.8 L612.4,122.8 L613.8,122.6 L614.9,122.4 L615.6,122.1Z" fill="#6c6c6c" stroke="#474747" stroke-width="0.5"/><path d="M388.3,110.8 L388.3,110.2 L388.3,110 L388.5,109.9 L388.7,109.7 L389,109.5 L389.4,109.4 L389.8,109.2 L390.4,109.1 L391,109 L391.6,108.9 L392.3,108.8 L393,108.7 L393.7,108.7 L394.4,108.7 L395.1,108.7 L395.8,108.7 L396.5,108.7 L397.1,108.8 L397.6,108.9 L398.1,109 L398.5,109.1 L398.9,109.3 L399.1,109.4 L399.3,109.6 L399.4,109.8 L399.4,110.4 L399.4,110.5 L399.2,110.7 L399,110.9 L398.7,111.1 L398.4,111.2 L397.9,111.4 L397.4,111.5 L396.8,111.6 L396.1,111.7 L395.4,111.8 L394.7,111.9 L394,111.9 L393.3,112 L392.5,111.9 L391.8,111.9 L391.2,111.9 L390.6,111.8 L390,111.7 L389.5,111.6 L389.1,111.4 L388.8,111.3 L388.5,111.1 L388.4,111Z" fill="url(#g_black)" stroke="#000" stroke-width="0.5"/><path d="M398.7,110.5 L399.2,110.1 L399.4,109.8 L399.1,109.4 L398.5,109.1 L397.6,108.9 L396.5,108.7 L395.1,108.7 L393.7,108.7 L392.3,108.8 L391,109 L389.8,109.2 L389,109.5 L388.5,109.9 L388.3,110.2 L388.5,110.6 L389.1,110.9 L390,111.1 L391.2,111.3 L392.5,111.4 L394,111.4 L395.4,111.3 L396.7,111.1 L397.9,110.8Z" fill="#0d0d0d" stroke="#000" stroke-width="0.5"/><path d="M415,112.9 L415,112.7 L415.1,112.5 L415.3,112.3 L415.6,112.1 L416,112 L416.4,111.8 L416.9,111.7 L417.5,111.6 L418.1,111.5 L418.8,111.4 L419.5,111.3 L420.2,111.3 L420.9,111.2 L421.7,111.2 L422.4,111.3 L423,111.3 L423.7,111.4 L424.3,111.5 L424.8,111.6 L425.2,111.8 L425.6,111.9 L425.9,112.1 L426.1,112.2 L426.2,112.4 L426.2,112.6 L426.2,113.2 L426.2,113.4 L426,113.5 L425.7,113.7 L425.4,113.9 L424.9,114.1 L424.4,114.2 L423.8,114.3 L423.2,114.4 L422.5,114.5 L421.8,114.6 L421.1,114.6 L420.3,114.7 L419.6,114.7 L418.9,114.6 L418.2,114.6 L417.5,114.5 L416.9,114.4 L416.4,114.3 L416,114.1 L415.6,114 L415.3,113.8 L415.1,113.6 L415,113.5Z" fill="url(#g_black)" stroke="#000" stroke-width="0.5"/><path d="M425.7,113.1 L426.1,112.8 L426.2,112.4 L425.9,112.1 L425.2,111.8 L424.3,111.5 L423,111.3 L421.7,111.2 L420.2,111.3 L418.8,111.4 L417.5,111.6 L416.4,111.8 L415.6,112.1 L415.1,112.5 L415,112.9 L415.3,113.2 L416,113.5 L416.9,113.8 L418.2,114 L419.6,114.1 L421,114.1 L422.5,113.9 L423.8,113.7 L424.9,113.5Z" fill="#0d0d0d" stroke="#000" stroke-width="0.5"/><path d="M442.9,116.4 L442.8,116.2 L442.8,116 L442.8,115.4 L442.8,115.2 L443,115.1 L443.2,114.9 L443.6,114.7 L444,114.5 L444.5,114.4 L445,114.3 L445.7,114.1 L446.3,114.1 L447,114 L447.8,113.9 L448.5,113.9 L449.2,113.9 L450,114 L450.6,114 L451.3,114.1 L451.9,114.2 L452.5,114.3 L453,114.5 L453.4,114.6 L453.7,114.8 L454,115 L454.1,115.1 L454.2,115.3 L454.2,115.9 L454.1,116.1 L454,116.3 L453.7,116.5 L453.4,116.7 L453,116.8 L452.5,117 L451.9,117.1 L451.3,117.2 L450.6,117.3 L449.9,117.4 L449.2,117.4 L448.4,117.5 L447.7,117.5 L446.9,117.4 L446.2,117.4 L445.6,117.3 L444.9,117.2 L444.4,117.1 L443.9,116.9 L443.5,116.8 L443.2,116.6Z" fill="url(#g_black)" stroke="#000" stroke-width="0.5"/><path d="M453.7,115.9 L454.1,115.5 L454.1,115.1 L453.7,114.8 L453,114.5 L451.9,114.2 L450.6,114 L449.2,113.9 L447.8,113.9 L446.3,114.1 L445,114.3 L444,114.5 L443.2,114.9 L442.8,115.2 L442.8,115.6 L443.2,116 L443.9,116.3 L444.9,116.6 L446.2,116.8 L447.7,116.9 L449.2,116.9 L450.6,116.7 L451.9,116.5 L453,116.2Z" fill="#0d0d0d" stroke="#000" stroke-width="0.5"/><path d="M471.6,118.9 L471.6,118.3 L471.6,118.1 L471.7,117.9 L472,117.7 L472.3,117.5 L472.7,117.4 L473.1,117.2 L473.7,117.1 L474.3,117 L475,116.9 L475.7,116.8 L476.4,116.7 L477.1,116.7 L477.9,116.7 L478.6,116.8 L479.3,116.8 L480,116.9 L480.7,117 L481.3,117.1 L481.8,117.3 L482.3,117.4 L482.6,117.6 L482.9,117.8 L483.1,118 L483.2,118.2 L483.2,118.8 L483.2,119 L483.1,119.2 L482.9,119.4 L482.6,119.6 L482.2,119.7 L481.7,119.9 L481.2,120 L480.6,120.2 L479.9,120.3 L479.2,120.3 L478.4,120.4 L477.7,120.4 L476.9,120.4 L476.2,120.4 L475.4,120.3 L474.7,120.2 L474.1,120.1 L473.5,120 L472.9,119.8 L472.5,119.7 L472.1,119.5 L471.9,119.3 L471.7,119.1Z" fill="url(#g_black)" stroke="#000" stroke-width="0.5"/><path d="M482.9,118.8 L483.2,118.4 L483.1,118 L482.6,117.6 L481.8,117.3 L480.7,117 L479.3,116.8 L477.9,116.7 L476.4,116.7 L475,116.9 L473.7,117.1 L472.7,117.4 L472,117.7 L471.6,118.1 L471.7,118.5 L472.1,118.9 L472.9,119.2 L474.1,119.5 L475.4,119.7 L476.9,119.8 L478.4,119.8 L479.9,119.6 L481.2,119.4 L482.2,119.1Z" fill="#0d0d0d" stroke="#000" stroke-width="0.5"/><path d="M501.7,122.1 L501.6,121.9 L501.6,121.7 L501.6,121.1 L501.7,120.8 L501.9,120.6 L502.1,120.5 L502.5,120.3 L502.9,120.1 L503.5,120 L504.1,119.9 L504.7,119.8 L505.4,119.7 L506.2,119.6 L506.9,119.6 L507.7,119.6 L508.4,119.7 L509.2,119.7 L509.9,119.8 L510.6,119.9 L511.2,120.1 L511.8,120.2 L512.3,120.4 L512.7,120.5 L513,120.7 L513.3,120.9 L513.4,121.2 L513.5,121.4 L513.5,122 L513.4,122.2 L513.2,122.4 L513,122.6 L512.6,122.8 L512.2,122.9 L511.6,123.1 L511,123.2 L510.4,123.3 L509.7,123.4 L508.9,123.4 L508.1,123.4 L507.3,123.4 L506.6,123.4 L505.8,123.3 L505.1,123.2 L504.4,123.1 L503.7,123 L503.2,122.8 L502.7,122.7 L502.3,122.5 L502,122.3Z" fill="url(#g_black)" stroke="#000" stroke-width="0.5"/><path d="M513.2,121.8 L513.5,121.4 L513.3,120.9 L512.7,120.5 L511.8,120.2 L510.6,119.9 L509.2,119.7 L507.7,119.6 L506.2,119.6 L504.7,119.8 L503.5,120 L502.5,120.3 L501.9,120.6 L501.6,121.1 L501.7,121.5 L502.3,121.9 L503.2,122.2 L504.4,122.5 L505.8,122.7 L507.3,122.8 L508.9,122.8 L510.4,122.7 L511.6,122.4 L512.6,122.1Z" fill="#0d0d0d" stroke="#000" stroke-width="0.5"/><path d="M535.3,126.1 L534.7,126 L534.1,125.8 L533.7,125.6 L533.3,125.4 L533,125.2 L532.9,125 L532.8,124.8 L532.8,124.1 L532.8,123.9 L533,123.7 L533.2,123.5 L533.6,123.3 L534,123.2 L534.5,123 L535.1,122.9 L535.7,122.8 L536.4,122.7 L537.2,122.7 L537.9,122.7 L538.7,122.7 L539.5,122.7 L540.3,122.8 L541,122.8 L541.7,123 L542.4,123.1 L543,123.2 L543.6,123.4 L544,123.6 L544.4,123.8 L544.7,124 L544.9,124.2 L545,124.5 L545,125.1 L544.9,125.3 L544.8,125.5 L544.6,125.7 L544.3,125.9 L543.8,126.1 L543.3,126.2 L542.8,126.3 L542.1,126.5 L541.4,126.5 L540.6,126.6 L539.9,126.6 L539,126.6 L538.2,126.6 L537.5,126.5 L536.7,126.4 L536,126.3Z" fill="url(#g_black)" stroke="#000" stroke-width="0.5"/><path d="M544.8,124.9 L545,124.5 L544.7,124 L544,123.6 L543,123.2 L541.7,123 L540.3,122.8 L538.7,122.7 L537.2,122.7 L535.7,122.8 L534.5,123 L533.6,123.3 L533,123.7 L532.8,124.1 L533,124.6 L533.7,125 L534.7,125.4 L536,125.7 L537.5,125.9 L539.1,126 L540.6,126 L542.1,125.8 L543.3,125.6 L544.3,125.3Z" fill="#0d0d0d" stroke="#000" stroke-width="0.5"/><path d="M567.5,129.3 L566.9,129.1 L566.4,128.9 L566,128.7 L565.7,128.4 L565.4,128.2 L565.3,128 L565.3,127.8 L565.3,127.1 L565.4,126.9 L565.6,126.7 L565.9,126.5 L566.3,126.3 L566.8,126.2 L567.4,126.1 L568,126 L568.7,125.9 L569.5,125.8 L570.2,125.8 L571,125.8 L571.8,125.8 L572.7,125.9 L573.4,126 L574.2,126.1 L574.9,126.3 L575.6,126.4 L576.2,126.6 L576.7,126.8 L577.1,127 L577.5,127.2 L577.7,127.5 L577.8,127.7 L577.9,127.9 L577.8,128.5 L577.8,128.8 L577.6,129 L577.3,129.2 L576.9,129.4 L576.4,129.5 L575.8,129.6 L575.2,129.8 L574.5,129.8 L573.7,129.9 L572.9,129.9 L572.1,129.9 L571.3,129.9 L570.5,129.8 L569.7,129.7 L568.9,129.6 L568.2,129.4Z" fill="url(#g_black)" stroke="#000" stroke-width="0.5"/><path d="M577.8,128.1 L577.8,127.7 L577.5,127.2 L576.7,126.8 L575.6,126.4 L574.2,126.1 L572.7,125.9 L571,125.8 L569.5,125.8 L568,126 L566.8,126.2 L565.9,126.5 L565.4,126.9 L565.3,127.3 L565.7,127.8 L566.4,128.2 L567.5,128.6 L568.9,128.9 L570.5,129.2 L572.1,129.3 L573.7,129.2 L575.2,129.1 L576.4,128.9 L577.3,128.5Z" fill="#0d0d0d" stroke="#000" stroke-width="0.5"/><path d="M601.8,132.7 L601.1,132.5 L600.5,132.3 L600.1,132.1 L599.7,131.8 L599.4,131.6 L599.2,131.4 L599.2,131.1 L599.2,130.5 L599.3,130.2 L599.4,130 L599.7,129.8 L600.1,129.7 L600.5,129.5 L601.1,129.4 L601.7,129.2 L602.4,129.2 L603.1,129.1 L603.9,129.1 L604.7,129.1 L605.6,129.1 L606.4,129.2 L607.2,129.3 L608,129.4 L608.8,129.6 L609.5,129.7 L610.2,129.9 L610.7,130.1 L611.2,130.4 L611.6,130.6 L611.9,130.8 L612.1,131.1 L612.2,131.3 L612.2,131.9 L612.1,132.2 L612,132.4 L611.7,132.6 L611.4,132.8 L610.9,132.9 L610.4,133.1 L609.7,133.2 L609,133.3 L608.3,133.3 L607.5,133.4 L606.6,133.4 L605.8,133.3 L604.9,133.2 L604.1,133.1 L603.2,133 L602.5,132.9Z" fill="url(#g_black)" stroke="#000" stroke-width="0.5"/><path d="M612.2,131.5 L612.1,131.1 L611.6,130.6 L610.7,130.1 L609.5,129.7 L608,129.4 L606.4,129.2 L604.7,129.1 L603.1,129.1 L601.7,129.2 L600.5,129.5 L599.7,129.8 L599.3,130.2 L599.3,130.7 L599.7,131.2 L600.6,131.6 L601.8,132 L603.3,132.4 L604.9,132.6 L606.6,132.7 L608.3,132.7 L609.8,132.5 L610.9,132.3 L611.8,131.9Z" fill="#0d0d0d" stroke="#000" stroke-width="0.5"/><text x="367.5" y="116" font-size="7.3" text-anchor="end">0</text><text x="366.6" y="99.8" font-size="7.3" text-anchor="end">5</text><text x="365.7" y="83.5" font-size="7.3" text-anchor="end">10</text><text x="364.8" y="66.8" font-size="7.3" text-anchor="end">15</text><text x="363.9" y="50" font-size="7.3" text-anchor="end">20</text><text x="362.9" y="32.9" font-size="7.3" text-anchor="end">25</text><text x="388.9" y="123.5" font-size="7.65" text-anchor="end" transform="rotate(-45 388.9 123.5)"><tspan font-style="italic">B. cereus</tspan></text><text x="416.3" y="126.3" font-size="7.65" text-anchor="end" transform="rotate(-45 416.3 126.3)"><tspan font-style="italic">M. flavus</tspan></text><text x="444.7" y="129.2" font-size="7.65" text-anchor="end" transform="rotate(-45 444.7 129.2)"><tspan font-style="italic">S. aureus</tspan></text><text x="474.4" y="132.2" font-size="7.65" text-anchor="end" transform="rotate(-45 474.4 132.2)"><tspan font-style="italic">L. monocytogenes</tspan></text><text x="505.2" y="135.3" font-size="7.65" text-anchor="end" transform="rotate(-45 505.2 135.3)"><tspan font-style="italic">E. cloacae</tspan></text><text x="537.4" y="138.6" font-size="7.65" text-anchor="end" transform="rotate(-45 537.4 138.6)"><tspan font-style="italic">P. aeruginosa</tspan></text><text x="571" y="142.1" font-size="7.65" text-anchor="end" transform="rotate(-45 571 142.1)"><tspan font-style="italic">S.</tspan> Typhimurium </text><text x="606.1" y="145.6" font-size="7.65" text-anchor="end" transform="rotate(-45 606.1 145.6)"><tspan font-style="italic">E. coli</tspan></text><text x="338" y="12.9" font-size="9.6" text-anchor="start">b)</text><text x="348.6" y="73.5" font-size="8.7" text-anchor="middle" transform="rotate(-90 348.6 73.5)" textLength="48.6" lengthAdjust="spacingAndGlyphs">MIC (mg/mL)</text><text x="489" y="196" font-size="10.5" text-anchor="middle" textLength="65.1" lengthAdjust="spacingAndGlyphs">Microorganism</text><text x="635.3" y="136.5" font-size="7.5" text-anchor="middle">STR</text><text x="637.7" y="127.4" font-size="7.5" text-anchor="middle">AMP</text><text x="638" y="118.3" font-size="7.5" text-anchor="middle">A2</text><text x="638" y="109.6" font-size="7.5" text-anchor="middle">E2</text><text x="653" y="100.9" font-size="8.5" text-anchor="middle" transform="rotate(-90 653 100.9)" textLength="71.9" lengthAdjust="spacingAndGlyphs"><tspan font-style="italic">S. kitaibelii</tspan> extracts</text><text x="663.6" y="99.9" font-size="8.5" text-anchor="middle" transform="rotate(-90 663.6 99.9)" textLength="82.2" lengthAdjust="spacingAndGlyphs">and standard antibiotics</text><line x1="49" y1="306.7" x2="97.7" y2="282.9" stroke="#8a8a8a" stroke-width="0.8"/><line x1="97.7" y1="282.9" x2="287.6" y2="298.4" stroke="#8a8a8a" stroke-width="0.8"/><line x1="48.3" y1="293.3" x2="97.4" y2="271.7" stroke="#8a8a8a" stroke-width="0.8"/><line x1="97.4" y1="271.7" x2="288.3" y2="285.7" stroke="#8a8a8a" stroke-width="0.8"/><line x1="47.5" y1="279.8" x2="97" y2="260.3" stroke="#8a8a8a" stroke-width="0.8"/><line x1="97" y1="260.3" x2="289" y2="272.9" stroke="#8a8a8a" stroke-width="0.8"/><line x1="46.8" y1="266.2" x2="96.6" y2="248.9" stroke="#8a8a8a" stroke-width="0.8"/><line x1="96.6" y1="248.9" x2="289.8" y2="259.9" stroke="#8a8a8a" stroke-width="0.8"/><line x1="46" y1="252.3" x2="96.3" y2="237.3" stroke="#8a8a8a" stroke-width="0.8"/><line x1="96.3" y1="237.3" x2="290.5" y2="246.7" stroke="#8a8a8a" stroke-width="0.8"/><line x1="45.2" y1="238.3" x2="95.9" y2="225.6" stroke="#8a8a8a" stroke-width="0.8"/><line x1="95.9" y1="225.6" x2="291.2" y2="233.4" stroke="#8a8a8a" stroke-width="0.8"/><line x1="44.5" y1="224.1" x2="95.5" y2="213.8" stroke="#8a8a8a" stroke-width="0.8"/><line x1="95.5" y1="213.8" x2="292" y2="219.9" stroke="#8a8a8a" stroke-width="0.8"/><line x1="49" y1="306.7" x2="44.5" y2="224.1" stroke="#8a8a8a" stroke-width="0.8"/><line x1="49" y1="306.7" x2="46" y2="306.7" stroke="#8a8a8a" stroke-width="0.8"/><line x1="48.3" y1="293.3" x2="45.3" y2="293.3" stroke="#8a8a8a" stroke-width="0.8"/><line x1="47.5" y1="279.8" x2="44.5" y2="279.8" stroke="#8a8a8a" stroke-width="0.8"/><line x1="46.8" y1="266.2" x2="43.8" y2="266.2" stroke="#8a8a8a" stroke-width="0.8"/><line x1="46" y1="252.3" x2="43" y2="252.3" stroke="#8a8a8a" stroke-width="0.8"/><line x1="45.2" y1="238.3" x2="42.2" y2="238.3" stroke="#8a8a8a" stroke-width="0.8"/><line x1="44.5" y1="224.1" x2="41.5" y2="224.1" stroke="#8a8a8a" stroke-width="0.8"/><line x1="49" y1="306.7" x2="275" y2="329.8" stroke="#8a8a8a" stroke-width="0.8"/><line x1="49" y1="306.7" x2="49" y2="309.7" stroke="#8a8a8a" stroke-width="0.8"/><line x1="73.6" y1="309.2" x2="73.6" y2="312.2" stroke="#8a8a8a" stroke-width="0.8"/><line x1="99.1" y1="311.8" x2="99.1" y2="314.8" stroke="#8a8a8a" stroke-width="0.8"/><line x1="125.6" y1="314.5" x2="125.6" y2="317.5" stroke="#8a8a8a" stroke-width="0.8"/><line x1="153.1" y1="317.3" x2="153.1" y2="320.3" stroke="#8a8a8a" stroke-width="0.8"/><line x1="181.8" y1="320.3" x2="181.8" y2="323.3" stroke="#8a8a8a" stroke-width="0.8"/><line x1="211.6" y1="323.3" x2="211.6" y2="326.3" stroke="#8a8a8a" stroke-width="0.8"/><line x1="242.6" y1="326.5" x2="242.6" y2="329.5" stroke="#8a8a8a" stroke-width="0.8"/><line x1="275" y1="329.8" x2="275" y2="332.8" stroke="#8a8a8a" stroke-width="0.8"/><line x1="275" y1="329.8" x2="287.6" y2="298.4" stroke="#8a8a8a" stroke-width="0.8"/><line x1="278.9" y1="320" x2="281.9" y2="320" stroke="#8a8a8a" stroke-width="0.8"/><line x1="282.3" y1="311.6" x2="285.3" y2="311.6" stroke="#8a8a8a" stroke-width="0.8"/><line x1="285.4" y1="303.9" x2="288.4" y2="303.9" stroke="#8a8a8a" stroke-width="0.8"/><path d="M108.6,247 L109.6,285.2 L109.6,285.4 L109.5,285.5 L109.3,285.6 L109,285.7 L108.7,285.8 L108.3,285.9 L107.9,286 L107.4,286.1 L106.9,286.1 L106.4,286.2 L105.8,286.2 L105.3,286.2 L104.7,286.2 L104.1,286.2 L103.6,286.1 L103.1,286.1 L102.6,286 L102.2,285.9 L101.8,285.8 L101.5,285.7 L101.3,285.6 L101.1,285.5 L101,285.4 L101,285.3 L99.8,247.1 L99.9,247 L100,246.9 L100.2,246.8 L100.5,246.7 L100.8,246.7 L101.2,246.6 L101.6,246.6 L102.1,246.5 L102.6,246.5 L103.1,246.4 L103.7,246.4 L104.3,246.4 L104.8,246.4 L105.4,246.4 L105.9,246.4 L106.4,246.5 L106.9,246.5 L107.3,246.6 L107.7,246.6 L108,246.7 L108.3,246.8 L108.5,246.9 L108.6,246.9Z" fill="url(#g_light)" stroke="#9c9c9c" stroke-width="0.5"/><path d="M108.3,247.3 L108.6,247.1 L108.6,246.9 L108.3,246.8 L107.7,246.6 L106.9,246.5 L105.9,246.4 L104.8,246.4 L103.7,246.4 L102.6,246.5 L101.6,246.6 L100.8,246.7 L100.2,246.8 L99.9,247 L99.9,247.2 L100.1,247.3 L100.7,247.5 L101.5,247.6 L102.5,247.7 L103.6,247.7 L104.7,247.7 L105.9,247.6 L106.9,247.5 L107.7,247.4Z" fill="#d8d8d8" stroke="#9c9c9c" stroke-width="0.5"/><path d="M122.7,287.1 L121.9,248.3 L121.9,248.2 L122,248.1 L122.2,248 L122.4,248 L122.7,247.9 L123.1,247.8 L123.5,247.8 L124,247.7 L124.5,247.7 L125.1,247.6 L125.6,247.6 L126.2,247.6 L126.8,247.6 L127.4,247.6 L127.9,247.6 L128.4,247.7 L128.9,247.7 L129.4,247.8 L129.8,247.8 L130.1,247.9 L130.4,248 L130.6,248.1 L130.7,248.2 L130.8,248.2 L131.4,287 L131.4,287.2 L131.3,287.3 L131.1,287.4 L130.9,287.5 L130.6,287.6 L130.2,287.7 L129.8,287.8 L129.3,287.9 L128.8,287.9 L128.3,288 L127.7,288 L127.2,288 L126.6,288 L126,288 L125.5,288 L124.9,287.9 L124.5,287.8 L124,287.8 L123.6,287.7 L123.3,287.6 L123,287.5 L122.8,287.3 L122.7,287.2Z" fill="url(#g_light)" stroke="#9c9c9c" stroke-width="0.5"/><path d="M130.5,248.5 L130.8,248.3 L130.7,248.2 L130.4,248 L129.8,247.8 L128.9,247.7 L127.9,247.6 L126.8,247.6 L125.6,247.6 L124.5,247.7 L123.5,247.8 L122.7,247.9 L122.2,248 L121.9,248.2 L121.9,248.4 L122.3,248.5 L122.9,248.7 L123.7,248.8 L124.7,248.9 L125.9,248.9 L127,248.9 L128.2,248.9 L129.2,248.8 L129.9,248.6Z" fill="#d8d8d8" stroke="#9c9c9c" stroke-width="0.5"/><path d="M145,288.9 L145,285.7 L145,285.6 L145.1,285.5 L145.2,285.3 L145.5,285.2 L145.7,285.1 L146.1,285 L146.5,284.9 L147,284.9 L147.5,284.8 L148,284.8 L148.6,284.7 L149.1,284.7 L149.7,284.7 L150.3,284.8 L150.8,284.8 L151.4,284.8 L151.9,284.9 L152.3,285 L152.8,285.1 L153.1,285.2 L153.4,285.3 L153.6,285.4 L153.8,285.5 L153.9,285.7 L153.9,285.8 L153.9,289 L153.8,289.1 L153.7,289.3 L153.5,289.4 L153.2,289.5 L152.8,289.6 L152.4,289.7 L152,289.8 L151.5,289.8 L150.9,289.9 L150.4,289.9 L149.8,289.9 L149.2,289.9 L148.6,289.9 L148,289.8 L147.5,289.8 L147,289.7 L146.5,289.6 L146.1,289.5 L145.8,289.4 L145.5,289.3 L145.2,289.2 L145.1,289.1Z" fill="url(#g_light)" stroke="#9c9c9c" stroke-width="0.5"/><path d="M153.7,286 L153.9,285.8 L153.8,285.5 L153.4,285.3 L152.8,285.1 L151.9,284.9 L150.8,284.8 L149.7,284.7 L148.6,284.7 L147.5,284.8 L146.5,284.9 L145.7,285.1 L145.2,285.3 L145,285.6 L145.1,285.8 L145.4,286.1 L146.1,286.3 L147,286.5 L148,286.6 L149.2,286.7 L150.3,286.6 L151.4,286.6 L152.4,286.4 L153.2,286.3Z" fill="#d8d8d8" stroke="#9c9c9c" stroke-width="0.5"/><path d="M177.4,251.5 L177.2,290.9 L177.1,291.1 L177,291.2 L176.8,291.3 L176.5,291.4 L176.2,291.5 L175.8,291.6 L175.3,291.7 L174.8,291.8 L174.3,291.8 L173.7,291.8 L173.1,291.9 L172.5,291.9 L171.9,291.8 L171.3,291.8 L170.8,291.7 L170.3,291.7 L169.8,291.6 L169.3,291.5 L169,291.4 L168.6,291.3 L168.4,291.1 L168.2,291 L168.1,290.9 L168.1,290.7 L168.1,251.4 L168.2,251.3 L168.3,251.2 L168.5,251.1 L168.8,251 L169.1,251 L169.6,250.9 L170,250.8 L170.5,250.8 L171.1,250.8 L171.6,250.8 L172.2,250.7 L172.8,250.7 L173.4,250.8 L174,250.8 L174.6,250.8 L175.1,250.9 L175.6,250.9 L176,251 L176.4,251.1 L176.8,251.2 L177,251.2 L177.2,251.3 L177.3,251.4Z" fill="url(#g_light)" stroke="#9c9c9c" stroke-width="0.5"/><path d="M177.2,251.7 L177.4,251.5 L177.2,251.3 L176.8,251.2 L176,251 L175.1,250.9 L174,250.8 L172.8,250.7 L171.6,250.8 L170.5,250.8 L169.6,250.9 L168.8,251 L168.3,251.2 L168.1,251.4 L168.2,251.6 L168.7,251.7 L169.4,251.9 L170.3,252 L171.4,252.1 L172.6,252.2 L173.8,252.2 L175,252.1 L175.9,252 L176.7,251.9Z" fill="#d8d8d8" stroke="#9c9c9c" stroke-width="0.5"/><path d="M191.9,292.7 L192.4,252.4 L192.4,252.3 L192.5,252.2 L192.7,252.2 L193,252.1 L193.3,252 L193.7,251.9 L194.2,251.9 L194.7,251.8 L195.2,251.8 L195.8,251.8 L196.4,251.8 L197,251.8 L197.6,251.8 L198.2,251.8 L198.8,251.8 L199.4,251.9 L199.9,252 L200.3,252 L200.8,252.1 L201.1,252.2 L201.4,252.3 L201.6,252.4 L201.8,252.5 L201.8,252.6 L201.2,292.9 L201.1,293.1 L201,293.2 L200.9,293.3 L200.6,293.4 L200.3,293.5 L199.9,293.6 L199.5,293.7 L199,293.8 L198.4,293.8 L197.8,293.9 L197.2,293.9 L196.6,293.9 L196,293.8 L195.4,293.8 L194.8,293.7 L194.3,293.7 L193.8,293.6 L193.3,293.5 L192.9,293.4 L192.6,293.2 L192.3,293.1 L192.1,293 L192,292.8Z" fill="url(#g_light)" stroke="#9c9c9c" stroke-width="0.5"/><path d="M201.7,252.7 L201.8,252.6 L201.6,252.4 L201.1,252.2 L200.3,252 L199.4,251.9 L198.2,251.8 L197,251.8 L195.8,251.8 L194.7,251.8 L193.7,251.9 L193,252.1 L192.5,252.2 L192.4,252.4 L192.6,252.6 L193.1,252.8 L193.8,253 L194.8,253.1 L196,253.2 L197.2,253.2 L198.4,253.2 L199.6,253.2 L200.5,253.1 L201.3,252.9Z" fill="#d8d8d8" stroke="#9c9c9c" stroke-width="0.5"/><path d="M227.1,254.1 L226,295.1 L225.9,295.2 L225.8,295.4 L225.5,295.5 L225.2,295.6 L224.8,295.7 L224.4,295.8 L223.9,295.9 L223.4,295.9 L222.8,295.9 L222.2,296 L221.6,295.9 L220.9,295.9 L220.3,295.9 L219.7,295.8 L219.1,295.7 L218.6,295.7 L218.1,295.5 L217.7,295.4 L217.3,295.3 L217,295.2 L216.8,295 L216.6,294.9 L216.5,294.8 L217.5,253.8 L217.5,253.7 L217.6,253.6 L217.7,253.5 L218,253.5 L218.3,253.4 L218.7,253.3 L219.1,253.3 L219.6,253.2 L220.2,253.2 L220.8,253.2 L221.4,253.1 L222,253.1 L222.6,253.2 L223.2,253.2 L223.8,253.2 L224.4,253.3 L225,253.3 L225.5,253.4 L225.9,253.5 L226.3,253.6 L226.6,253.7 L226.9,253.8 L227,253.9 L227.1,254Z" fill="url(#g_light)" stroke="#9c9c9c" stroke-width="0.5"/><path d="M227.1,254.2 L227.1,254 L226.9,253.8 L226.3,253.6 L225.5,253.4 L224.4,253.3 L223.2,253.2 L222,253.1 L220.8,253.2 L219.6,253.2 L218.7,253.3 L218,253.5 L217.6,253.6 L217.5,253.8 L217.7,254 L218.3,254.2 L219.1,254.4 L220.1,254.5 L221.3,254.6 L222.6,254.6 L223.9,254.6 L225,254.6 L226,254.5 L226.7,254.3Z" fill="#d8d8d8" stroke="#9c9c9c" stroke-width="0.5"/><path d="M253.4,255.2 L251.7,297.2 L251.6,297.4 L251.5,297.5 L251.3,297.6 L251,297.8 L250.6,297.9 L250.2,297.9 L249.7,298 L249.2,298.1 L248.6,298.1 L248,298.1 L247.3,298.1 L246.7,298.1 L246.1,298 L245.4,298 L244.8,297.9 L244.3,297.8 L243.7,297.7 L243.3,297.6 L242.9,297.4 L242.5,297.3 L242.3,297.2 L242.1,297 L242,296.9 L242,296.7 L243.4,254.8 L243.5,254.7 L243.6,254.6 L243.9,254.6 L244.2,254.5 L244.5,254.4 L245,254.4 L245.5,254.3 L246,254.3 L246.6,254.3 L247.2,254.2 L247.8,254.2 L248.5,254.3 L249.1,254.3 L249.7,254.3 L250.4,254.4 L250.9,254.4 L251.5,254.5 L251.9,254.6 L252.4,254.7 L252.7,254.8 L253,254.9 L253.2,255 L253.3,255.1Z" fill="url(#g_light)" stroke="#9c9c9c" stroke-width="0.5"/><path d="M253.3,255.3 L253.3,255.1 L253,254.9 L252.4,254.7 L251.5,254.5 L250.4,254.4 L249.1,254.3 L247.8,254.2 L246.6,254.3 L245.5,254.3 L244.5,254.4 L243.9,254.6 L243.5,254.7 L243.4,254.9 L243.7,255.1 L244.4,255.3 L245.3,255.5 L246.4,255.7 L247.6,255.7 L248.9,255.8 L250.2,255.8 L251.3,255.7 L252.3,255.6 L252.9,255.5Z" fill="#d8d8d8" stroke="#9c9c9c" stroke-width="0.5"/><path d="M268.3,298.9 L270.2,258 L270.2,257.9 L270.3,257.8 L270.6,257.7 L270.8,257.6 L271.2,257.5 L271.6,257.5 L272.1,257.4 L272.7,257.4 L273.2,257.4 L273.9,257.3 L274.5,257.3 L275.2,257.4 L275.8,257.4 L276.5,257.4 L277.1,257.5 L277.7,257.6 L278.3,257.6 L278.8,257.7 L279.3,257.8 L279.6,257.9 L280,258 L280.2,258.1 L280.3,258.2 L280.4,258.3 L278.3,299.4 L278.2,299.6 L278.1,299.7 L277.9,299.8 L277.7,300 L277.3,300.1 L276.9,300.2 L276.4,300.2 L275.9,300.3 L275.3,300.3 L274.7,300.3 L274,300.3 L273.4,300.3 L272.7,300.3 L272.1,300.2 L271.4,300.1 L270.8,300 L270.3,299.9 L269.8,299.8 L269.3,299.6 L269,299.5 L268.7,299.4 L268.4,299.2 L268.3,299Z" fill="url(#g_light)" stroke="#9c9c9c" stroke-width="0.5"/><path d="M280.4,258.4 L280.3,258.2 L280,258 L279.3,257.8 L278.3,257.6 L277.1,257.5 L275.8,257.4 L274.5,257.3 L273.2,257.4 L272.1,257.4 L271.2,257.5 L270.6,257.7 L270.2,257.9 L270.3,258.1 L270.6,258.3 L271.3,258.5 L272.3,258.7 L273.4,258.8 L274.7,258.9 L276.1,259 L277.4,259 L278.5,258.9 L279.4,258.8 L280.1,258.6Z" fill="#d8d8d8" stroke="#9c9c9c" stroke-width="0.5"/><path d="M96.2,221 L98.4,291.1 L98.3,291.2 L98.2,291.4 L98,291.5 L97.7,291.6 L97.4,291.7 L97,291.8 L96.5,291.9 L96,292 L95.5,292.1 L94.9,292.1 L94.3,292.1 L93.7,292.2 L93.1,292.2 L92.6,292.1 L92,292.1 L91.5,292 L91,292 L90.6,291.9 L90.2,291.8 L89.9,291.7 L89.6,291.5 L89.5,291.4 L89.4,291.3 L89.4,291.2 L86.8,221 L86.9,220.9 L87.1,220.9 L87.3,220.8 L87.6,220.8 L87.9,220.7 L88.3,220.7 L88.8,220.6 L89.3,220.6 L89.9,220.6 L90.5,220.5 L91.1,220.5 L91.7,220.5 L92.3,220.5 L92.9,220.5 L93.4,220.5 L94,220.6 L94.5,220.6 L94.9,220.6 L95.3,220.7 L95.6,220.7 L95.9,220.8 L96,220.8 L96.1,220.9Z" fill="url(#g_mid)" stroke="#686868" stroke-width="0.5"/><path d="M95.8,221.1 L96.1,221 L96.1,220.9 L95.9,220.8 L95.3,220.7 L94.5,220.6 L93.4,220.5 L92.3,220.5 L91.1,220.5 L89.9,220.6 L88.8,220.6 L87.9,220.7 L87.3,220.8 L86.9,220.9 L86.9,221.1 L87.1,221.2 L87.7,221.3 L88.5,221.4 L89.6,221.4 L90.7,221.5 L92,221.4 L93.2,221.4 L94.2,221.3 L95.1,221.2Z" fill="#9c9c9c" stroke="#686868" stroke-width="0.5"/><path d="M120.4,260 L121.1,293.1 L121,293.2 L120.9,293.4 L120.8,293.5 L120.5,293.6 L120.2,293.7 L119.8,293.8 L119.3,293.9 L118.8,294 L118.3,294.1 L117.7,294.1 L117.1,294.2 L116.5,294.2 L115.9,294.2 L115.3,294.1 L114.8,294.1 L114.2,294 L113.7,294 L113.3,293.9 L112.9,293.8 L112.5,293.7 L112.3,293.5 L112.1,293.4 L111.9,293.3 L111.9,293.1 L111.1,260 L111.1,259.9 L111.2,259.8 L111.4,259.7 L111.7,259.6 L112,259.5 L112.4,259.5 L112.9,259.4 L113.4,259.3 L113.9,259.3 L114.5,259.2 L115.1,259.2 L115.7,259.2 L116.3,259.2 L116.9,259.2 L117.4,259.3 L118,259.3 L118.5,259.3 L119,259.4 L119.4,259.5 L119.7,259.6 L120,259.7 L120.2,259.8 L120.3,259.9Z" fill="url(#g_mid)" stroke="#686868" stroke-width="0.5"/><path d="M120,260.3 L120.3,260.1 L120.3,259.9 L120,259.7 L119.4,259.5 L118.5,259.3 L117.4,259.3 L116.3,259.2 L115.1,259.2 L113.9,259.3 L112.9,259.4 L112,259.5 L111.4,259.7 L111.1,259.9 L111.1,260.1 L111.4,260.3 L112,260.5 L112.9,260.6 L114,260.7 L115.1,260.8 L116.4,260.8 L117.6,260.7 L118.6,260.6 L119.5,260.5Z" fill="#9c9c9c" stroke="#686868" stroke-width="0.5"/><path d="M144.2,260.8 L144.5,295.1 L144.5,295.3 L144.4,295.4 L144.3,295.6 L144,295.7 L143.7,295.8 L143.3,295.9 L142.9,296 L142.4,296.1 L141.9,296.2 L141.3,296.2 L140.7,296.2 L140.1,296.3 L139.5,296.3 L138.9,296.2 L138.3,296.2 L137.7,296.1 L137.2,296.1 L136.7,296 L136.3,295.9 L135.9,295.7 L135.6,295.6 L135.4,295.5 L135.3,295.3 L135.2,295.2 L134.7,260.9 L134.7,260.8 L134.8,260.7 L135,260.6 L135.2,260.5 L135.6,260.4 L135.9,260.3 L136.4,260.3 L136.9,260.2 L137.4,260.1 L138,260.1 L138.6,260.1 L139.2,260.1 L139.8,260.1 L140.4,260.1 L141,260.1 L141.6,260.2 L142.1,260.2 L142.6,260.3 L143,260.4 L143.4,260.4 L143.7,260.5 L143.9,260.6 L144.1,260.7Z" fill="url(#g_mid)" stroke="#686868" stroke-width="0.5"/><path d="M143.9,261.2 L144.2,261 L144.1,260.7 L143.7,260.5 L143,260.4 L142.1,260.2 L141,260.1 L139.8,260.1 L138.6,260.1 L137.4,260.1 L136.4,260.3 L135.6,260.4 L135,260.6 L134.7,260.8 L134.8,261 L135.1,261.2 L135.8,261.4 L136.7,261.5 L137.8,261.6 L139.1,261.7 L140.3,261.7 L141.5,261.6 L142.5,261.5 L143.4,261.4Z" fill="#9c9c9c" stroke="#686868" stroke-width="0.5"/><path d="M168.8,262.8 L168.8,297.4 L168.7,297.5 L168.6,297.7 L168.4,297.8 L168.1,297.9 L167.7,298.1 L167.3,298.2 L166.8,298.2 L166.3,298.3 L165.7,298.4 L165.1,298.4 L164.5,298.4 L163.9,298.4 L163.2,298.4 L162.6,298.3 L162,298.3 L161.5,298.2 L161,298.1 L160.5,298 L160.1,297.9 L159.8,297.7 L159.6,297.6 L159.4,297.5 L159.3,297.3 L159.3,297.2 L159.2,262.7 L159.2,262.6 L159.4,262.5 L159.6,262.4 L159.9,262.3 L160.3,262.2 L160.7,262.1 L161.2,262.1 L161.7,262 L162.3,262 L162.9,261.9 L163.5,261.9 L164.2,261.9 L164.8,261.9 L165.4,262 L166,262 L166.5,262.1 L167.1,262.1 L167.5,262.2 L167.9,262.3 L168.2,262.4 L168.5,262.5 L168.7,262.6 L168.8,262.7Z" fill="url(#g_mid)" stroke="#686868" stroke-width="0.5"/><path d="M168.6,263.1 L168.8,262.8 L168.7,262.6 L168.2,262.4 L167.5,262.2 L166.5,262.1 L165.4,262 L164.2,261.9 L162.9,261.9 L161.7,262 L160.7,262.1 L159.9,262.3 L159.4,262.5 L159.2,262.7 L159.3,262.9 L159.7,263.1 L160.4,263.3 L161.4,263.5 L162.6,263.6 L163.8,263.6 L165.1,263.6 L166.3,263.5 L167.3,263.4 L168.1,263.3Z" fill="#9c9c9c" stroke="#686868" stroke-width="0.5"/><path d="M184.2,299.4 L184.5,264 L184.5,263.9 L184.6,263.8 L184.8,263.7 L185.1,263.6 L185.5,263.5 L185.9,263.4 L186.4,263.3 L186.9,263.3 L187.5,263.2 L188.1,263.2 L188.7,263.2 L189.4,263.2 L190,263.2 L190.6,263.2 L191.2,263.3 L191.8,263.4 L192.4,263.4 L192.9,263.5 L193.3,263.6 L193.7,263.7 L193.9,263.8 L194.2,263.9 L194.3,264 L194.4,264.1 L193.9,299.6 L193.9,299.7 L193.8,299.9 L193.6,300 L193.3,300.2 L192.9,300.3 L192.5,300.4 L192,300.5 L191.5,300.5 L190.9,300.6 L190.3,300.6 L189.7,300.7 L189.1,300.6 L188.4,300.6 L187.8,300.6 L187.2,300.5 L186.6,300.4 L186.1,300.3 L185.6,300.2 L185.2,300.1 L184.8,300 L184.5,299.8 L184.3,299.7 L184.2,299.5Z" fill="url(#g_mid)" stroke="#686868" stroke-width="0.5"/><path d="M194.2,264.4 L194.4,264.1 L194.2,263.9 L193.7,263.7 L192.9,263.5 L191.8,263.4 L190.6,263.2 L189.4,263.2 L188.1,263.2 L186.9,263.3 L185.9,263.4 L185.1,263.6 L184.6,263.8 L184.5,264 L184.6,264.2 L185.1,264.4 L185.9,264.6 L187,264.8 L188.2,264.9 L189.5,264.9 L190.7,264.9 L191.9,264.9 L193,264.7 L193.7,264.6Z" fill="#9c9c9c" stroke="#686868" stroke-width="0.5"/><path d="M210,301.6 L210.7,265.6 L210.7,265.5 L210.8,265.4 L211,265.3 L211.2,265.2 L211.6,265.1 L212,265 L212.5,265 L213,264.9 L213.6,264.9 L214.2,264.9 L214.8,264.8 L215.5,264.8 L216.1,264.9 L216.8,264.9 L217.4,264.9 L218,265 L218.6,265.1 L219.1,265.2 L219.6,265.3 L220,265.4 L220.3,265.5 L220.5,265.6 L220.7,265.7 L220.8,265.8 L220.8,265.9 L219.9,302 L219.8,302.2 L219.6,302.3 L219.4,302.5 L219.1,302.6 L218.7,302.7 L218.2,302.8 L217.7,302.9 L217.1,302.9 L216.5,302.9 L215.8,303 L215.2,303 L214.5,302.9 L213.9,302.9 L213.2,302.8 L212.6,302.7 L212.1,302.6 L211.6,302.5 L211.1,302.4 L210.7,302.2 L210.4,302.1 L210.2,301.9 L210,301.8Z" fill="url(#g_mid)" stroke="#686868" stroke-width="0.5"/><path d="M220.7,266 L220.8,265.8 L220.5,265.6 L220,265.4 L219.1,265.2 L218,265 L216.8,264.9 L215.5,264.8 L214.2,264.9 L213,264.9 L212,265 L211.2,265.2 L210.8,265.4 L210.7,265.6 L210.9,265.9 L211.5,266.1 L212.3,266.3 L213.4,266.5 L214.7,266.6 L216,266.6 L217.3,266.6 L218.5,266.6 L219.5,266.4 L220.3,266.3Z" fill="#9c9c9c" stroke="#686868" stroke-width="0.5"/><path d="M236.6,303.8 L237.8,267.3 L237.9,267.1 L238.1,267 L238.3,266.9 L238.6,266.8 L239,266.8 L239.5,266.7 L240,266.6 L240.6,266.6 L241.2,266.6 L241.8,266.5 L242.5,266.6 L243.2,266.6 L243.8,266.6 L244.5,266.7 L245.1,266.7 L245.7,266.8 L246.3,266.9 L246.8,267 L247.2,267.1 L247.6,267.2 L247.9,267.3 L248.1,267.4 L248.2,267.6 L248.2,267.7 L246.9,304.4 L246.8,304.6 L246.7,304.7 L246.4,304.8 L246.1,305 L245.7,305.1 L245.3,305.2 L244.7,305.2 L244.2,305.3 L243.6,305.3 L242.9,305.4 L242.2,305.4 L241.6,305.3 L240.9,305.3 L240.2,305.2 L239.6,305.1 L239,305 L238.5,304.9 L238,304.8 L237.6,304.6 L237.2,304.5 L236.9,304.3 L236.8,304.1 L236.6,304Z" fill="url(#g_mid)" stroke="#686868" stroke-width="0.5"/><path d="M248.2,267.8 L248.2,267.6 L247.9,267.3 L247.2,267.1 L246.3,266.9 L245.1,266.7 L243.8,266.6 L242.5,266.6 L241.2,266.6 L240,266.6 L239,266.8 L238.3,266.9 L237.9,267.1 L237.8,267.4 L238.1,267.6 L238.8,267.9 L239.7,268.1 L240.9,268.2 L242.2,268.4 L243.6,268.4 L244.9,268.4 L246.1,268.3 L247.1,268.2 L247.8,268Z" fill="#9c9c9c" stroke="#686868" stroke-width="0.5"/><path d="M276.6,270.5 L274.8,306.8 L274.8,307 L274.7,307.2 L274.5,307.3 L274.2,307.4 L273.8,307.6 L273.3,307.7 L272.8,307.7 L272.3,307.8 L271.6,307.8 L271,307.8 L270.3,307.8 L269.6,307.8 L268.9,307.8 L268.2,307.7 L267.6,307.6 L266.9,307.5 L266.4,307.4 L265.8,307.2 L265.4,307.1 L265,306.9 L264.7,306.7 L264.5,306.6 L264.3,306.4 L264.3,306.2 L265.9,270.1 L266,270 L266.1,269.8 L266.3,269.7 L266.6,269.6 L267,269.6 L267.4,269.5 L268,269.4 L268.5,269.4 L269.1,269.4 L269.8,269.3 L270.5,269.3 L271.2,269.4 L271.9,269.4 L272.6,269.5 L273.2,269.5 L273.9,269.6 L274.4,269.7 L275,269.8 L275.5,269.9 L275.9,270 L276.2,270.1 L276.4,270.3 L276.6,270.4Z" fill="url(#g_mid)" stroke="#686868" stroke-width="0.5"/><path d="M276.6,270.6 L276.6,270.4 L276.2,270.1 L275.5,269.9 L274.4,269.7 L273.2,269.5 L271.9,269.4 L270.5,269.3 L269.1,269.4 L268,269.4 L267,269.6 L266.3,269.7 L266,270 L266,270.2 L266.3,270.5 L267.1,270.7 L268.1,270.9 L269.3,271.1 L270.7,271.2 L272.1,271.3 L273.4,271.3 L274.6,271.2 L275.6,271.1 L276.3,270.9Z" fill="#9c9c9c" stroke="#686868" stroke-width="0.5"/><path d="M77.4,296.6 L77.4,296.4 L77.5,296.3 L77.7,296.1 L77.9,296 L78.2,295.9 L78.6,295.7 L79,295.6 L79.5,295.5 L80,295.4 L80.6,295.4 L81.2,295.3 L81.8,295.3 L82.4,295.3 L83,295.3 L83.6,295.3 L84.2,295.4 L84.7,295.4 L85.2,295.5 L85.6,295.6 L86,295.7 L86.3,295.8 L86.6,295.9 L86.8,296.1 L86.9,296.2 L86.9,296.4 L86.9,297.1 L86.8,297.2 L86.7,297.4 L86.5,297.5 L86.2,297.7 L85.8,297.8 L85.4,297.9 L84.9,298 L84.3,298.1 L83.8,298.2 L83.2,298.2 L82.6,298.2 L81.9,298.3 L81.3,298.3 L80.7,298.2 L80.1,298.2 L79.6,298.1 L79.1,298 L78.6,297.9 L78.3,297.8 L77.9,297.7 L77.7,297.6 L77.5,297.5 L77.5,297.3Z" fill="url(#g_dark)" stroke="#474747" stroke-width="0.5"/><path d="M86.4,296.8 L86.8,296.5 L86.9,296.2 L86.6,295.9 L86,295.7 L85.2,295.5 L84.2,295.4 L83,295.3 L81.8,295.3 L80.6,295.4 L79.5,295.5 L78.6,295.7 L77.9,296 L77.5,296.3 L77.4,296.6 L77.7,296.8 L78.2,297.1 L79.1,297.3 L80.1,297.4 L81.3,297.5 L82.5,297.5 L83.7,297.4 L84.9,297.3 L85.8,297Z" fill="#6c6c6c" stroke="#474747" stroke-width="0.5"/><path d="M100.9,299.3 L100.9,298.6 L100.9,298.4 L101,298.3 L101.2,298.2 L101.5,298 L101.9,297.9 L102.3,297.8 L102.8,297.7 L103.3,297.6 L103.9,297.5 L104.5,297.5 L105.1,297.4 L105.7,297.4 L106.3,297.4 L106.9,297.4 L107.5,297.5 L108.1,297.6 L108.6,297.6 L109.1,297.7 L109.5,297.8 L109.8,298 L110.1,298.1 L110.3,298.2 L110.4,298.4 L110.5,298.5 L110.5,299.3 L110.4,299.4 L110.3,299.6 L110.1,299.7 L109.8,299.9 L109.5,300 L109.1,300.1 L108.6,300.2 L108.1,300.3 L107.5,300.4 L106.9,300.4 L106.3,300.5 L105.6,300.5 L105,300.5 L104.4,300.4 L103.8,300.4 L103.2,300.3 L102.7,300.3 L102.2,300.2 L101.8,300 L101.5,299.9 L101.2,299.8 L101,299.6 L100.9,299.5Z" fill="url(#g_dark)" stroke="#474747" stroke-width="0.5"/><path d="M110.1,299 L110.4,298.7 L110.4,298.4 L110.1,298.1 L109.5,297.8 L108.6,297.6 L107.5,297.5 L106.3,297.4 L105.1,297.4 L103.9,297.5 L102.8,297.7 L101.9,297.9 L101.2,298.2 L100.9,298.4 L100.9,298.7 L101.2,299 L101.8,299.3 L102.7,299.5 L103.8,299.6 L105,299.7 L106.2,299.7 L107.5,299.6 L108.6,299.5 L109.5,299.2Z" fill="#6c6c6c" stroke="#474747" stroke-width="0.5"/><path d="M134.9,300.8 L134.9,301.5 L134.9,301.7 L134.8,301.9 L134.6,302 L134.3,302.1 L134,302.3 L133.6,302.4 L133.1,302.5 L132.6,302.6 L132,302.7 L131.4,302.7 L130.8,302.8 L130.2,302.8 L129.5,302.8 L128.9,302.7 L128.3,302.7 L127.7,302.6 L127.1,302.6 L126.6,302.5 L126.2,302.3 L125.8,302.2 L125.5,302.1 L125.3,301.9 L125.2,301.8 L125.1,301.6 L125.1,300.8 L125.1,300.7 L125.2,300.5 L125.4,300.4 L125.7,300.2 L126,300.1 L126.4,300 L126.9,299.9 L127.4,299.8 L128,299.7 L128.6,299.7 L129.2,299.6 L129.8,299.6 L130.5,299.6 L131.1,299.7 L131.7,299.7 L132.3,299.8 L132.8,299.8 L133.3,299.9 L133.8,300.1 L134.1,300.2 L134.4,300.3 L134.7,300.5 L134.8,300.6Z" fill="url(#g_dark)" stroke="#474747" stroke-width="0.5"/><path d="M134.6,301.2 L134.9,300.9 L134.8,300.6 L134.4,300.3 L133.8,300.1 L132.8,299.8 L131.7,299.7 L130.5,299.6 L129.2,299.6 L128,299.7 L126.9,299.9 L126,300.1 L125.4,300.4 L125.1,300.7 L125.2,301 L125.5,301.3 L126.2,301.6 L127.1,301.8 L128.3,301.9 L129.5,302 L130.8,302 L132,301.9 L133.1,301.7 L134,301.5Z" fill="#6c6c6c" stroke="#474747" stroke-width="0.5"/><path d="M150.2,303.8 L150.2,303 L150.3,302.9 L150.5,302.7 L150.7,302.6 L151,302.4 L151.4,302.3 L151.9,302.2 L152.4,302.1 L152.9,302 L153.5,302 L154.2,301.9 L154.8,301.9 L155.5,301.9 L156.1,301.9 L156.7,302 L157.3,302.1 L157.9,302.1 L158.4,302.2 L158.9,302.4 L159.3,302.5 L159.6,302.6 L159.9,302.8 L160.1,302.9 L160.2,303.1 L160.2,303.3 L160.2,304 L160.1,304.2 L160,304.4 L159.7,304.5 L159.4,304.6 L159,304.8 L158.6,304.9 L158.1,305 L157.5,305.1 L156.9,305.1 L156.3,305.1 L155.6,305.2 L154.9,305.2 L154.3,305.1 L153.7,305.1 L153,305 L152.5,304.9 L151.9,304.8 L151.5,304.7 L151.1,304.6 L150.7,304.4 L150.5,304.3 L150.3,304.1 L150.2,304Z" fill="url(#g_dark)" stroke="#474747" stroke-width="0.5"/><path d="M160,303.6 L160.2,303.3 L160.1,302.9 L159.6,302.6 L158.9,302.4 L157.9,302.1 L156.7,302 L155.5,301.9 L154.2,301.9 L152.9,302 L151.9,302.2 L151,302.4 L150.5,302.7 L150.2,303 L150.3,303.3 L150.7,303.6 L151.5,303.9 L152.5,304.1 L153.6,304.3 L154.9,304.4 L156.2,304.4 L157.5,304.3 L158.6,304.1 L159.4,303.9Z" fill="#6c6c6c" stroke="#474747" stroke-width="0.5"/><path d="M176.2,306.2 L176.2,301.6 L176.3,301.4 L176.4,301.2 L176.7,301.1 L177,301 L177.3,300.8 L177.8,300.7 L178.3,300.6 L178.8,300.6 L179.4,300.5 L180.1,300.5 L180.7,300.5 L181.4,300.5 L182,300.5 L182.7,300.5 L183.3,300.6 L183.9,300.7 L184.5,300.8 L185,300.9 L185.4,301 L185.8,301.2 L186.1,301.3 L186.3,301.5 L186.4,301.7 L186.5,301.8 L186.4,306.5 L186.4,306.6 L186.2,306.8 L186,307 L185.7,307.1 L185.4,307.2 L184.9,307.3 L184.4,307.4 L183.9,307.5 L183.3,307.6 L182.6,307.6 L182,307.6 L181.3,307.6 L180.6,307.6 L180,307.6 L179.3,307.5 L178.7,307.4 L178.2,307.3 L177.7,307.2 L177.2,307 L176.9,306.9 L176.6,306.7 L176.4,306.5 L176.3,306.4Z" fill="url(#g_dark)" stroke="#474747" stroke-width="0.5"/><path d="M186.3,302.1 L186.5,301.8 L186.3,301.5 L185.8,301.2 L185,300.9 L183.9,300.7 L182.7,300.5 L181.4,300.5 L180.1,300.5 L178.8,300.6 L177.8,300.7 L177,301 L176.4,301.2 L176.2,301.6 L176.4,301.9 L176.9,302.2 L177.7,302.5 L178.7,302.7 L180,302.9 L181.3,302.9 L182.7,302.9 L183.9,302.8 L185,302.7 L185.8,302.4Z" fill="#6c6c6c" stroke="#474747" stroke-width="0.5"/><path d="M205.4,309.8 L204.8,309.7 L204.4,309.6 L204,309.4 L203.6,309.2 L203.4,309.1 L203.2,308.9 L203.2,308.7 L203.2,307.9 L203.2,307.7 L203.3,307.6 L203.5,307.4 L203.8,307.3 L204.2,307.1 L204.6,307 L205.1,306.9 L205.6,306.9 L206.2,306.8 L206.9,306.8 L207.5,306.7 L208.2,306.7 L208.9,306.8 L209.5,306.8 L210.2,306.9 L210.8,307 L211.4,307.1 L211.9,307.2 L212.4,307.4 L212.8,307.5 L213.1,307.7 L213.4,307.8 L213.6,308 L213.6,308.2 L213.6,309 L213.6,309.2 L213.5,309.3 L213.3,309.5 L213.1,309.6 L212.7,309.8 L212.3,309.9 L211.8,310 L211.2,310.1 L210.6,310.1 L210,310.2 L209.3,310.2 L208.6,310.2 L207.9,310.2 L207.2,310.1 L206.6,310 L206,309.9Z" fill="url(#g_dark)" stroke="#474747" stroke-width="0.5"/><path d="M213.5,308.5 L213.6,308.2 L213.4,307.8 L212.8,307.5 L211.9,307.2 L210.8,307 L209.5,306.8 L208.2,306.7 L206.9,306.8 L205.6,306.9 L204.6,307 L203.8,307.3 L203.3,307.6 L203.2,307.9 L203.4,308.3 L204,308.6 L204.8,308.9 L206,309.1 L207.3,309.3 L208.6,309.4 L210,309.4 L211.2,309.3 L212.3,309.1 L213.1,308.8Z" fill="#6c6c6c" stroke="#474747" stroke-width="0.5"/><path d="M241.9,311 L241.9,311.8 L241.8,312 L241.6,312.1 L241.4,312.3 L241.1,312.4 L240.7,312.5 L240.2,312.7 L239.6,312.7 L239,312.8 L238.4,312.8 L237.7,312.9 L237,312.9 L236.3,312.8 L235.6,312.8 L234.9,312.7 L234.2,312.6 L233.6,312.5 L233,312.3 L232.5,312.2 L232.1,312 L231.7,311.9 L231.4,311.7 L231.2,311.5 L231.1,311.3 L231.1,311.2 L231.2,310.3 L231.2,310.2 L231.4,310 L231.7,309.8 L232,309.7 L232.4,309.6 L232.9,309.5 L233.4,309.4 L234,309.3 L234.7,309.3 L235.3,309.3 L236,309.3 L236.7,309.3 L237.4,309.4 L238.1,309.4 L238.8,309.5 L239.4,309.7 L239.9,309.8 L240.5,309.9 L240.9,310.1 L241.3,310.3 L241.6,310.4 L241.8,310.6 L241.9,310.8Z" fill="url(#g_dark)" stroke="#474747" stroke-width="0.5"/><path d="M241.8,311.1 L241.9,310.8 L241.6,310.4 L240.9,310.1 L239.9,309.8 L238.8,309.5 L237.4,309.4 L236,309.3 L234.7,309.3 L233.4,309.4 L232.4,309.6 L231.7,309.8 L231.2,310.2 L231.2,310.5 L231.5,310.9 L232.1,311.2 L233.1,311.5 L234.2,311.8 L235.6,311.9 L237,312 L238.4,312 L239.6,311.9 L240.7,311.7 L241.4,311.5Z" fill="#6c6c6c" stroke="#474747" stroke-width="0.5"/><path d="M260.1,313.8 L260.5,305.4 L260.6,305.3 L260.7,305.1 L260.9,305 L261.2,304.8 L261.6,304.7 L262.1,304.6 L262.7,304.5 L263.3,304.5 L263.9,304.4 L264.6,304.4 L265.3,304.4 L266,304.5 L266.7,304.5 L267.4,304.6 L268.1,304.7 L268.8,304.8 L269.4,304.9 L269.9,305.1 L270.4,305.2 L270.8,305.4 L271.2,305.5 L271.4,305.7 L271.6,305.9 L271.6,306.1 L271.2,314.5 L271.2,314.7 L271.1,314.9 L270.8,315 L270.5,315.2 L270.1,315.3 L269.7,315.4 L269.1,315.5 L268.5,315.6 L267.9,315.6 L267.2,315.6 L266.5,315.6 L265.7,315.6 L265,315.5 L264.3,315.4 L263.6,315.3 L262.9,315.2 L262.3,315.1 L261.8,314.9 L261.3,314.8 L260.9,314.6 L260.6,314.4 L260.3,314.2 L260.2,314Z" fill="url(#g_dark)" stroke="#474747" stroke-width="0.5"/><path d="M271.6,306.2 L271.6,305.9 L271.2,305.5 L270.4,305.2 L269.4,304.9 L268.1,304.7 L266.7,304.5 L265.3,304.4 L263.9,304.4 L262.7,304.5 L261.6,304.7 L260.9,305 L260.6,305.3 L260.6,305.6 L260.9,306 L261.7,306.3 L262.7,306.6 L264,306.9 L265.4,307 L266.8,307.1 L268.3,307.1 L269.5,307 L270.5,306.8 L271.3,306.6Z" fill="#6c6c6c" stroke="#474747" stroke-width="0.5"/><path d="M73.7,303.1 L73.7,303.8 L73.7,304 L73.6,304.2 L73.4,304.3 L73.2,304.5 L72.9,304.6 L72.5,304.8 L72,304.9 L71.5,305 L70.9,305.1 L70.3,305.2 L69.7,305.2 L69,305.3 L68.3,305.3 L67.7,305.3 L67.1,305.3 L66.5,305.2 L65.9,305.1 L65.4,305.1 L64.9,304.9 L64.5,304.8 L64.2,304.7 L64,304.5 L63.8,304.4 L63.7,304.2 L63.7,303.5 L63.7,303.3 L63.8,303.1 L64,303 L64.2,302.8 L64.6,302.7 L65,302.5 L65.5,302.4 L66,302.3 L66.5,302.2 L67.1,302.1 L67.8,302.1 L68.4,302.1 L69.1,302 L69.7,302 L70.3,302.1 L70.9,302.1 L71.5,302.2 L72,302.3 L72.4,302.4 L72.8,302.5 L73.2,302.6 L73.4,302.8 L73.6,302.9Z" fill="url(#g_black)" stroke="#000" stroke-width="0.5"/><path d="M73.2,303.7 L73.6,303.4 L73.7,303.1 L73.4,302.8 L72.8,302.5 L72,302.3 L70.9,302.1 L69.7,302 L68.4,302.1 L67.1,302.1 L66,302.3 L65,302.5 L64.2,302.8 L63.8,303.1 L63.7,303.5 L63.9,303.8 L64.5,304 L65.3,304.3 L66.4,304.4 L67.7,304.5 L69,304.5 L70.3,304.4 L71.4,304.2 L72.4,304Z" fill="#0d0d0d" stroke="#000" stroke-width="0.5"/><path d="M88.2,306.5 L88.1,305.7 L88.2,305.5 L88.4,305.4 L88.6,305.2 L88.9,305.1 L89.3,304.9 L89.8,304.8 L90.3,304.7 L90.8,304.6 L91.4,304.5 L92,304.5 L92.7,304.4 L93.4,304.4 L94,304.4 L94.6,304.4 L95.3,304.5 L95.8,304.6 L96.4,304.6 L96.9,304.8 L97.3,304.9 L97.6,305 L97.9,305.2 L98.1,305.3 L98.2,305.5 L98.3,305.6 L98.3,306.4 L98.2,306.6 L98.1,306.8 L97.9,306.9 L97.5,307.1 L97.2,307.2 L96.7,307.4 L96.2,307.5 L95.6,307.6 L95,307.6 L94.4,307.7 L93.7,307.7 L93.1,307.8 L92.4,307.8 L91.7,307.7 L91.1,307.7 L90.5,307.6 L90,307.5 L89.5,307.4 L89.1,307.3 L88.7,307.1 L88.5,307 L88.3,306.8 L88.2,306.7Z" fill="url(#g_black)" stroke="#000" stroke-width="0.5"/><path d="M97.8,306.1 L98.2,305.8 L98.2,305.5 L97.9,305.2 L97.3,304.9 L96.4,304.6 L95.3,304.5 L94,304.4 L92.7,304.4 L91.4,304.5 L90.3,304.7 L89.3,304.9 L88.6,305.2 L88.2,305.5 L88.1,305.9 L88.4,306.2 L89.1,306.5 L90,306.7 L91.1,306.9 L92.4,306.9 L93.7,306.9 L95,306.8 L96.2,306.7 L97.1,306.4Z" fill="#0d0d0d" stroke="#000" stroke-width="0.5"/><path d="M123.8,308.1 L123.8,308.9 L123.8,309.1 L123.6,309.3 L123.4,309.5 L123.1,309.6 L122.8,309.8 L122.3,309.9 L121.8,310 L121.3,310.1 L120.7,310.2 L120,310.3 L119.4,310.3 L118.7,310.3 L118,310.3 L117.4,310.3 L116.7,310.2 L116.1,310.2 L115.5,310.1 L115,310 L114.6,309.8 L114.2,309.7 L113.9,309.5 L113.7,309.4 L113.5,309.2 L113.5,309 L113.5,308.2 L113.5,308 L113.6,307.9 L113.8,307.7 L114.1,307.5 L114.5,307.4 L114.9,307.3 L115.4,307.2 L116,307.1 L116.6,307 L117.2,306.9 L117.9,306.9 L118.5,306.9 L119.2,306.9 L119.9,306.9 L120.5,306.9 L121.1,307 L121.7,307.1 L122.2,307.2 L122.6,307.3 L123,307.5 L123.3,307.6 L123.6,307.8 L123.7,308Z" fill="url(#g_black)" stroke="#000" stroke-width="0.5"/><path d="M123.4,308.6 L123.7,308.3 L123.7,308 L123.3,307.6 L122.6,307.3 L121.7,307.1 L120.5,306.9 L119.2,306.9 L117.9,306.9 L116.6,307 L115.4,307.2 L114.5,307.4 L113.8,307.7 L113.5,308 L113.5,308.4 L113.9,308.7 L114.5,309 L115.5,309.2 L116.7,309.4 L118,309.5 L119.4,309.5 L120.7,309.4 L121.8,309.2 L122.8,308.9Z" fill="#0d0d0d" stroke="#000" stroke-width="0.5"/><path d="M139.7,311.6 L139.7,310.8 L139.7,310.6 L139.8,310.4 L140,310.3 L140.3,310.1 L140.6,310 L141.1,309.8 L141.6,309.7 L142.1,309.6 L142.7,309.5 L143.3,309.5 L144,309.4 L144.7,309.4 L145.3,309.4 L146,309.4 L146.7,309.5 L147.3,309.6 L147.9,309.7 L148.4,309.8 L148.9,309.9 L149.3,310.1 L149.7,310.2 L150,310.4 L150.1,310.5 L150.2,310.7 L150.2,310.9 L150.2,311.7 L150.2,311.9 L150,312.1 L149.7,312.2 L149.4,312.4 L149,312.5 L148.5,312.7 L147.9,312.8 L147.3,312.9 L146.7,312.9 L146,313 L145.3,313 L144.6,313 L143.9,312.9 L143.3,312.9 L142.6,312.8 L142,312.7 L141.5,312.6 L141,312.5 L140.6,312.3 L140.2,312.2 L140,312 L139.8,311.8Z" fill="url(#g_black)" stroke="#000" stroke-width="0.5"/><path d="M150,311.3 L150.2,310.9 L150.1,310.5 L149.7,310.2 L148.9,309.9 L147.9,309.7 L146.7,309.5 L145.3,309.4 L144,309.4 L142.7,309.5 L141.6,309.7 L140.6,310 L140,310.3 L139.7,310.6 L139.8,311 L140.2,311.3 L141,311.6 L142,311.9 L143.3,312.1 L144.6,312.1 L146,312.1 L147.3,312 L148.5,311.8 L149.4,311.6Z" fill="#0d0d0d" stroke="#000" stroke-width="0.5"/><path d="M167,314.1 L167,313.3 L167.1,313.1 L167.2,313 L167.5,312.8 L167.8,312.6 L168.2,312.5 L168.7,312.4 L169.2,312.3 L169.8,312.2 L170.4,312.1 L171.1,312.1 L171.8,312.1 L172.5,312.1 L173.2,312.1 L173.9,312.1 L174.5,312.2 L175.1,312.3 L175.7,312.4 L176.2,312.6 L176.7,312.7 L177.1,312.9 L177.4,313.1 L177.6,313.2 L177.7,313.4 L177.7,313.6 L177.7,314.4 L177.7,314.6 L177.5,314.8 L177.3,315 L177,315.1 L176.6,315.3 L176.1,315.4 L175.6,315.5 L175,315.6 L174.3,315.7 L173.7,315.7 L173,315.7 L172.2,315.7 L171.5,315.7 L170.8,315.6 L170.2,315.6 L169.6,315.5 L169,315.3 L168.5,315.2 L168,315 L167.6,314.9 L167.3,314.7 L167.1,314.5 L167,314.3Z" fill="url(#g_black)" stroke="#000" stroke-width="0.5"/><path d="M177.5,314 L177.7,313.6 L177.6,313.2 L177.1,312.9 L176.2,312.6 L175.1,312.3 L173.9,312.1 L172.5,312.1 L171.1,312.1 L169.8,312.2 L168.7,312.4 L167.8,312.6 L167.2,313 L167,313.3 L167.1,313.7 L167.6,314 L168.5,314.4 L169.6,314.6 L170.8,314.8 L172.2,314.9 L173.7,314.9 L175,314.8 L176.1,314.6 L177,314.3Z" fill="#0d0d0d" stroke="#000" stroke-width="0.5"/><path d="M197.6,318.2 L197,318.1 L196.5,317.9 L196.1,317.7 L195.8,317.5 L195.5,317.3 L195.4,317.2 L195.3,317 L195.3,316.1 L195.3,315.9 L195.5,315.7 L195.7,315.6 L196,315.4 L196.4,315.3 L196.8,315.1 L197.4,315 L198,314.9 L198.6,314.9 L199.3,314.8 L200,314.8 L200.7,314.8 L201.4,314.8 L202.1,314.9 L202.8,315 L203.4,315.1 L204,315.2 L204.6,315.3 L205.1,315.5 L205.5,315.7 L205.8,315.8 L206.1,316 L206.3,316.2 L206.3,316.4 L206.3,317.3 L206.3,317.5 L206.2,317.6 L206,317.8 L205.7,318 L205.3,318.1 L204.8,318.3 L204.3,318.4 L203.7,318.5 L203.1,318.5 L202.4,318.6 L201.7,318.6 L201,318.6 L200.2,318.6 L199.5,318.5 L198.8,318.4 L198.2,318.3Z" fill="url(#g_black)" stroke="#000" stroke-width="0.5"/><path d="M206.2,316.8 L206.3,316.4 L206.1,316 L205.5,315.7 L204.6,315.3 L203.4,315.1 L202.1,314.9 L200.7,314.8 L199.3,314.8 L198,314.9 L196.8,315.1 L196,315.4 L195.5,315.7 L195.3,316.1 L195.5,316.5 L196.1,316.9 L197,317.2 L198.2,317.5 L199.5,317.7 L201,317.7 L202.4,317.7 L203.7,317.6 L204.9,317.4 L205.7,317.1Z" fill="#0d0d0d" stroke="#000" stroke-width="0.5"/><path d="M236.1,319.5 L236.1,320.4 L236,320.6 L235.8,320.8 L235.5,321 L235.2,321.1 L234.7,321.2 L234.2,321.4 L233.6,321.5 L233,321.5 L232.3,321.6 L231.6,321.6 L230.8,321.6 L230.1,321.6 L229.4,321.5 L228.6,321.4 L227.9,321.3 L227.3,321.2 L226.7,321 L226.2,320.9 L225.7,320.7 L225.3,320.5 L225,320.3 L224.8,320.1 L224.7,319.9 L224.7,319.7 L224.8,318.8 L224.9,318.6 L225,318.4 L225.3,318.3 L225.7,318.1 L226.1,318 L226.6,317.9 L227.2,317.8 L227.9,317.7 L228.5,317.7 L229.2,317.7 L230,317.7 L230.7,317.7 L231.4,317.8 L232.1,317.8 L232.8,317.9 L233.5,318.1 L234.1,318.2 L234.6,318.4 L235.1,318.5 L235.5,318.7 L235.8,318.9 L236,319.1 L236.1,319.3Z" fill="url(#g_black)" stroke="#000" stroke-width="0.5"/><path d="M236,319.7 L236.1,319.3 L235.8,318.9 L235.1,318.5 L234.1,318.2 L232.8,317.9 L231.4,317.8 L230,317.7 L228.5,317.7 L227.2,317.8 L226.1,318 L225.3,318.3 L224.9,318.6 L224.8,319 L225.1,319.4 L225.7,319.8 L226.7,320.1 L228,320.4 L229.4,320.6 L230.9,320.7 L232.3,320.7 L233.7,320.6 L234.8,320.4 L235.6,320.1Z" fill="#0d0d0d" stroke="#000" stroke-width="0.5"/><path d="M257.6,324.1 L257,323.9 L256.5,323.7 L256.1,323.5 L255.8,323.3 L255.5,323.1 L255.4,322.9 L255.3,322.7 L255.4,321.8 L255.4,321.6 L255.6,321.4 L255.8,321.3 L256.2,321.1 L256.6,321 L257.1,320.9 L257.7,320.8 L258.3,320.7 L259,320.6 L259.7,320.6 L260.4,320.6 L261.2,320.7 L262,320.7 L262.7,320.8 L263.4,320.9 L264.1,321.1 L264.8,321.2 L265.3,321.4 L265.8,321.6 L266.3,321.7 L266.6,322 L266.9,322.2 L267,322.4 L267.1,322.6 L267,323.5 L267,323.7 L266.9,323.9 L266.6,324 L266.3,324.2 L265.9,324.3 L265.4,324.5 L264.8,324.6 L264.1,324.6 L263.4,324.7 L262.7,324.7 L262,324.7 L261.2,324.7 L260.4,324.6 L259.7,324.5 L258.9,324.4 L258.2,324.3Z" fill="url(#g_black)" stroke="#000" stroke-width="0.5"/><path d="M267,322.8 L267,322.4 L266.6,322 L265.8,321.6 L264.8,321.2 L263.4,320.9 L262,320.7 L260.4,320.6 L259,320.6 L257.7,320.8 L256.6,321 L255.8,321.3 L255.4,321.6 L255.4,322 L255.8,322.5 L256.5,322.9 L257.6,323.2 L259,323.5 L260.4,323.7 L262,323.8 L263.5,323.8 L264.8,323.7 L265.9,323.5 L266.7,323.1Z" fill="#0d0d0d" stroke="#000" stroke-width="0.5"/><text x="43.4" y="309.9" font-size="7.3" text-anchor="end">0</text><text x="42.7" y="296.5" font-size="7.3" text-anchor="end">2</text><text x="41.9" y="283" font-size="7.3" text-anchor="end">4</text><text x="41.2" y="269.4" font-size="7.3" text-anchor="end">6</text><text x="40.4" y="255.5" font-size="7.3" text-anchor="end">8</text><text x="39.6" y="241.5" font-size="7.3" text-anchor="end">10</text><text x="38.9" y="227.3" font-size="7.3" text-anchor="end">12</text><text x="63.7" y="317.2" font-size="7.65" text-anchor="end" transform="rotate(-45 63.7 317.2)"><tspan font-style="italic">A. fumigatus</tspan></text><text x="88.7" y="319.8" font-size="7.65" text-anchor="end" transform="rotate(-45 88.7 319.8)"><tspan font-style="italic">A. versicolor</tspan></text><text x="114.7" y="322.4" font-size="7.65" text-anchor="end" transform="rotate(-45 114.7 322.4)"><tspan font-style="italic">A. ochraceus</tspan></text><text x="141.7" y="325.2" font-size="7.65" text-anchor="end" transform="rotate(-45 141.7 325.2)"><tspan font-style="italic">A.niger</tspan></text><text x="169.8" y="328.1" font-size="7.65" text-anchor="end" transform="rotate(-45 169.8 328.1)"><tspan font-style="italic">T. viride</tspan></text><text x="199" y="331.1" font-size="7.65" text-anchor="end" transform="rotate(-45 199 331.1)"><tspan font-style="italic">P. ochrochloron</tspan></text><text x="229.4" y="334.2" font-size="7.65" text-anchor="end" transform="rotate(-45 229.4 334.2)"><tspan font-style="italic">P. funiculosum</tspan></text><text x="261.1" y="337.4" font-size="7.65" text-anchor="end" transform="rotate(-45 261.1 337.4)"><tspan font-style="italic">P.versicolor var. cyclopium</tspan></text><text x="4.8" y="217.6" font-size="9.6" text-anchor="start">c)</text><text x="27.1" y="271.3" font-size="8.7" text-anchor="middle" transform="rotate(-90 27.1 271.3)" textLength="48.2" lengthAdjust="spacingAndGlyphs">MIC (mg/mL)</text><text x="148.1" y="396.3" font-size="10.5" text-anchor="middle" textLength="64.8" lengthAdjust="spacingAndGlyphs">Microorganism</text><text x="288.5" y="328" font-size="7.5" text-anchor="middle">BIF</text><text x="290.5" y="319.2" font-size="7.5" text-anchor="middle">KET</text><text x="293" y="311.8" font-size="7.5" text-anchor="middle">A1</text><text x="293.4" y="303.6" font-size="7.5" text-anchor="middle">E1</text><text x="310.6" y="283.7" font-size="8.25" text-anchor="middle" transform="rotate(-90 310.6 283.7)" textLength="65.6" lengthAdjust="spacingAndGlyphs"><tspan font-style="italic">S. kitaibelii</tspan> extracts</text><text x="320" y="284" font-size="8.25" text-anchor="middle" transform="rotate(-90 320 284)" textLength="84.3" lengthAdjust="spacingAndGlyphs">and standard antimicotics</text><line x1="381.3" y1="297.5" x2="433.9" y2="270.5" stroke="#8a8a8a" stroke-width="0.8"/><line x1="433.9" y1="270.5" x2="620.7" y2="289.1" stroke="#8a8a8a" stroke-width="0.8"/><line x1="380.1" y1="280.8" x2="433.3" y2="256.7" stroke="#8a8a8a" stroke-width="0.8"/><line x1="433.3" y1="256.7" x2="622" y2="273.4" stroke="#8a8a8a" stroke-width="0.8"/><line x1="378.8" y1="263.8" x2="432.8" y2="242.6" stroke="#8a8a8a" stroke-width="0.8"/><line x1="432.8" y1="242.6" x2="623.2" y2="257.3" stroke="#8a8a8a" stroke-width="0.8"/><line x1="377.5" y1="246.3" x2="432.2" y2="228.2" stroke="#8a8a8a" stroke-width="0.8"/><line x1="432.2" y1="228.2" x2="624.5" y2="240.9" stroke="#8a8a8a" stroke-width="0.8"/><line x1="376.1" y1="228.5" x2="431.6" y2="213.6" stroke="#8a8a8a" stroke-width="0.8"/><line x1="431.6" y1="213.6" x2="625.8" y2="224.1" stroke="#8a8a8a" stroke-width="0.8"/><line x1="381.3" y1="297.5" x2="376.1" y2="228.5" stroke="#8a8a8a" stroke-width="0.8"/><line x1="381.3" y1="297.5" x2="378.3" y2="297.5" stroke="#8a8a8a" stroke-width="0.8"/><line x1="380.1" y1="280.8" x2="377.1" y2="280.8" stroke="#8a8a8a" stroke-width="0.8"/><line x1="378.8" y1="263.8" x2="375.8" y2="263.8" stroke="#8a8a8a" stroke-width="0.8"/><line x1="377.5" y1="246.3" x2="374.5" y2="246.3" stroke="#8a8a8a" stroke-width="0.8"/><line x1="376.1" y1="228.5" x2="373.1" y2="228.5" stroke="#8a8a8a" stroke-width="0.8"/><line x1="381.3" y1="297.5" x2="607.8" y2="326.1" stroke="#8a8a8a" stroke-width="0.8"/><line x1="381.3" y1="297.5" x2="381.3" y2="300.5" stroke="#8a8a8a" stroke-width="0.8"/><line x1="405.6" y1="300.6" x2="405.6" y2="303.6" stroke="#8a8a8a" stroke-width="0.8"/><line x1="431" y1="303.8" x2="431" y2="306.8" stroke="#8a8a8a" stroke-width="0.8"/><line x1="457.3" y1="307.1" x2="457.3" y2="310.1" stroke="#8a8a8a" stroke-width="0.8"/><line x1="484.9" y1="310.6" x2="484.9" y2="313.6" stroke="#8a8a8a" stroke-width="0.8"/><line x1="513.6" y1="314.2" x2="513.6" y2="317.2" stroke="#8a8a8a" stroke-width="0.8"/><line x1="543.6" y1="318" x2="543.6" y2="321" stroke="#8a8a8a" stroke-width="0.8"/><line x1="575" y1="321.9" x2="575" y2="324.9" stroke="#8a8a8a" stroke-width="0.8"/><line x1="607.8" y1="326.1" x2="607.8" y2="329.1" stroke="#8a8a8a" stroke-width="0.8"/><line x1="607.8" y1="326.1" x2="620.7" y2="289.1" stroke="#8a8a8a" stroke-width="0.8"/><line x1="611.6" y1="315.2" x2="614.6" y2="315.2" stroke="#8a8a8a" stroke-width="0.8"/><line x1="615" y1="305.4" x2="618" y2="305.4" stroke="#8a8a8a" stroke-width="0.8"/><line x1="618.1" y1="296.5" x2="621.1" y2="296.5" stroke="#8a8a8a" stroke-width="0.8"/><path d="M442.9,252.1 L443.7,274.1 L443.6,274.3 L443.5,274.4 L443.3,274.5 L443,274.7 L442.7,274.8 L442.3,274.9 L441.9,275 L441.4,275.1 L440.9,275.1 L440.3,275.2 L439.8,275.2 L439.2,275.2 L438.6,275.2 L438.1,275.2 L437.6,275.1 L437.1,275.1 L436.6,275 L436.2,274.9 L435.9,274.8 L435.6,274.7 L435.3,274.6 L435.2,274.4 L435.1,274.3 L435.1,274.2 L434.2,252.1 L434.3,252 L434.4,251.9 L434.6,251.8 L434.9,251.7 L435.3,251.6 L435.7,251.5 L436.1,251.4 L436.6,251.3 L437.1,251.3 L437.6,251.3 L438.2,251.2 L438.8,251.2 L439.3,251.2 L439.9,251.3 L440.4,251.3 L440.9,251.3 L441.4,251.4 L441.8,251.5 L442.1,251.6 L442.4,251.7 L442.7,251.8 L442.8,251.9 L442.9,252Z" fill="url(#g_light)" stroke="#9c9c9c" stroke-width="0.5"/><path d="M442.5,252.4 L442.9,252.2 L442.9,252 L442.7,251.8 L442.1,251.6 L441.4,251.4 L440.4,251.3 L439.3,251.2 L438.2,251.2 L437.1,251.3 L436.1,251.4 L435.3,251.6 L434.6,251.8 L434.3,252 L434.2,252.2 L434.5,252.4 L435,252.6 L435.7,252.8 L436.7,252.9 L437.8,253 L438.9,253 L440.1,252.9 L441.1,252.8 L441.9,252.6Z" fill="#d8d8d8" stroke="#9c9c9c" stroke-width="0.5"/><path d="M456.4,276.3 L455.8,254.7 L455.9,254.6 L456,254.4 L456.2,254.3 L456.5,254.2 L456.8,254.1 L457.2,254 L457.6,253.9 L458.1,253.9 L458.6,253.8 L459.1,253.8 L459.7,253.8 L460.3,253.8 L460.8,253.8 L461.4,253.8 L462,253.8 L462.5,253.9 L462.9,253.9 L463.4,254 L463.8,254.1 L464.1,254.2 L464.3,254.3 L464.5,254.4 L464.6,254.5 L464.7,254.7 L465.1,276.3 L465.1,276.5 L465,276.6 L464.8,276.7 L464.6,276.9 L464.2,277 L463.9,277.1 L463.4,277.2 L463,277.3 L462.5,277.3 L461.9,277.4 L461.3,277.4 L460.8,277.4 L460.2,277.4 L459.6,277.4 L459.1,277.3 L458.6,277.3 L458.1,277.2 L457.7,277.1 L457.3,277 L457,276.9 L456.7,276.8 L456.6,276.6 L456.5,276.5Z" fill="url(#g_light)" stroke="#9c9c9c" stroke-width="0.5"/><path d="M464.4,255 L464.6,254.8 L464.6,254.5 L464.3,254.3 L463.8,254.1 L462.9,253.9 L462,253.8 L460.8,253.8 L459.7,253.8 L458.6,253.8 L457.6,253.9 L456.8,254.1 L456.2,254.3 L455.9,254.6 L455.9,254.8 L456.2,255 L456.7,255.2 L457.5,255.4 L458.5,255.5 L459.7,255.6 L460.8,255.6 L462,255.5 L463,255.4 L463.8,255.2Z" fill="#d8d8d8" stroke="#9c9c9c" stroke-width="0.5"/><path d="M487.2,256 L487.3,278.6 L487.3,278.7 L487.2,278.9 L487.1,279 L486.8,279.1 L486.5,279.3 L486.2,279.4 L485.8,279.5 L485.3,279.6 L484.8,279.6 L484.2,279.7 L483.7,279.7 L483.1,279.7 L482.5,279.7 L481.9,279.7 L481.4,279.6 L480.8,279.6 L480.3,279.5 L479.9,279.4 L479.5,279.3 L479.1,279.2 L478.9,279 L478.7,278.9 L478.5,278.7 L478.5,278.6 L478.2,256 L478.2,255.9 L478.3,255.7 L478.5,255.6 L478.7,255.5 L479,255.4 L479.4,255.3 L479.8,255.2 L480.3,255.2 L480.8,255.1 L481.3,255.1 L481.9,255 L482.5,255 L483.1,255 L483.7,255.1 L484.2,255.1 L484.7,255.2 L485.2,255.2 L485.7,255.3 L486.1,255.4 L486.5,255.5 L486.7,255.6 L487,255.7 L487.1,255.8Z" fill="url(#g_light)" stroke="#9c9c9c" stroke-width="0.5"/><path d="M486.9,256.3 L487.2,256.1 L487.1,255.8 L486.7,255.6 L486.1,255.4 L485.2,255.2 L484.2,255.1 L483.1,255 L481.9,255 L480.8,255.1 L479.8,255.2 L479,255.4 L478.5,255.6 L478.2,255.9 L478.2,256.1 L478.6,256.3 L479.2,256.6 L480.1,256.7 L481.1,256.9 L482.3,256.9 L483.5,256.9 L484.6,256.9 L485.6,256.7 L486.4,256.6Z" fill="#d8d8d8" stroke="#9c9c9c" stroke-width="0.5"/><path d="M501.3,280.8 L501.3,258.1 L501.4,258 L501.5,257.9 L501.8,257.8 L502.1,257.7 L502.4,257.6 L502.8,257.5 L503.3,257.4 L503.8,257.3 L504.3,257.3 L504.9,257.3 L505.5,257.3 L506.1,257.3 L506.7,257.3 L507.3,257.3 L507.8,257.4 L508.3,257.5 L508.8,257.5 L509.3,257.6 L509.6,257.7 L509.9,257.9 L510.2,258 L510.4,258.1 L510.5,258.2 L510.5,258.4 L510.3,281.1 L510.2,281.2 L510.1,281.3 L509.9,281.5 L509.6,281.6 L509.3,281.7 L508.9,281.8 L508.4,281.9 L507.9,282 L507.3,282 L506.8,282.1 L506.2,282.1 L505.6,282.1 L505,282.1 L504.4,282 L503.9,281.9 L503.3,281.9 L502.9,281.8 L502.4,281.6 L502.1,281.5 L501.8,281.4 L501.5,281.2 L501.4,281.1 L501.3,280.9Z" fill="url(#g_light)" stroke="#9c9c9c" stroke-width="0.5"/><path d="M510.3,258.6 L510.5,258.4 L510.4,258.1 L509.9,257.9 L509.3,257.6 L508.3,257.5 L507.3,257.3 L506.1,257.3 L504.9,257.3 L503.8,257.3 L502.8,257.5 L502.1,257.7 L501.5,257.9 L501.3,258.1 L501.4,258.4 L501.8,258.6 L502.5,258.9 L503.4,259 L504.5,259.2 L505.7,259.2 L506.9,259.2 L508,259.2 L509,259 L509.8,258.8Z" fill="#d8d8d8" stroke="#9c9c9c" stroke-width="0.5"/><path d="M524.9,283.2 L525.7,234.2 L525.8,234.1 L525.9,234 L526.1,233.9 L526.4,233.8 L526.7,233.8 L527.1,233.7 L527.6,233.6 L528.1,233.6 L528.6,233.6 L529.2,233.5 L529.8,233.5 L530.5,233.5 L531.1,233.6 L531.7,233.6 L532.3,233.6 L532.8,233.7 L533.3,233.8 L533.8,233.8 L534.2,233.9 L534.6,234 L534.9,234.1 L535.1,234.2 L535.2,234.3 L535.2,234.4 L534.1,283.5 L534.1,283.6 L534,283.8 L533.8,283.9 L533.5,284.1 L533.2,284.2 L532.8,284.3 L532.3,284.4 L531.8,284.5 L531.3,284.5 L530.7,284.5 L530.1,284.6 L529.5,284.5 L528.9,284.5 L528.3,284.5 L527.7,284.4 L527.2,284.3 L526.7,284.2 L526.2,284.1 L525.8,283.9 L525.5,283.8 L525.2,283.7 L525,283.5 L524.9,283.3Z" fill="url(#g_light)" stroke="#9c9c9c" stroke-width="0.5"/><path d="M535.1,234.6 L535.2,234.4 L535.1,234.2 L534.6,234 L533.8,233.8 L532.8,233.7 L531.7,233.6 L530.5,233.5 L529.2,233.5 L528.1,233.6 L527.1,233.7 L526.4,233.8 L525.9,234 L525.7,234.2 L525.9,234.4 L526.3,234.6 L527.1,234.8 L528.1,235 L529.3,235.1 L530.5,235.1 L531.7,235.1 L532.9,235.1 L533.9,235 L534.6,234.8Z" fill="#d8d8d8" stroke="#9c9c9c" stroke-width="0.5"/><path d="M549.3,285.7 L550.1,261.8 L550.1,261.7 L550.2,261.5 L550.4,261.4 L550.7,261.3 L551,261.2 L551.4,261.1 L551.8,261 L552.3,261 L552.9,260.9 L553.4,260.9 L554,260.9 L554.7,260.9 L555.3,260.9 L555.9,261 L556.5,261 L557.1,261.1 L557.6,261.2 L558.1,261.3 L558.6,261.4 L558.9,261.5 L559.2,261.6 L559.5,261.8 L559.6,261.9 L559.7,262.1 L559.7,262.2 L558.8,286.1 L558.7,286.3 L558.5,286.4 L558.3,286.6 L558,286.7 L557.6,286.8 L557.1,286.9 L556.6,287 L556.1,287.1 L555.5,287.1 L554.9,287.1 L554.3,287.1 L553.7,287.1 L553.1,287 L552.5,286.9 L551.9,286.8 L551.4,286.7 L550.9,286.6 L550.4,286.5 L550.1,286.3 L549.8,286.2 L549.5,286 L549.4,285.8Z" fill="url(#g_light)" stroke="#9c9c9c" stroke-width="0.5"/><path d="M559.6,262.3 L559.7,262.1 L559.5,261.8 L558.9,261.5 L558.1,261.3 L557.1,261.1 L555.9,261 L554.7,260.9 L553.4,260.9 L552.3,261 L551.4,261.1 L550.7,261.3 L550.2,261.5 L550.1,261.8 L550.3,262.1 L550.9,262.3 L551.7,262.6 L552.7,262.8 L553.9,262.9 L555.2,263 L556.4,263 L557.6,262.9 L558.5,262.8 L559.2,262.6Z" fill="#d8d8d8" stroke="#9c9c9c" stroke-width="0.5"/><path d="M574.7,288.1 L575.8,264.6 L575.9,264.5 L576,264.4 L576.3,264.3 L576.6,264.1 L577,264.1 L577.4,264 L577.9,263.9 L578.4,263.9 L579,263.8 L579.6,263.8 L580.3,263.8 L580.9,263.9 L581.5,263.9 L582.2,264 L582.8,264 L583.3,264.1 L583.9,264.2 L584.3,264.4 L584.7,264.5 L585.1,264.6 L585.4,264.8 L585.6,264.9 L585.7,265.1 L585.7,265.2 L584.4,288.7 L584.3,288.9 L584.2,289.1 L584,289.2 L583.7,289.3 L583.3,289.5 L582.9,289.6 L582.4,289.6 L581.8,289.7 L581.3,289.7 L580.6,289.7 L580,289.7 L579.4,289.7 L578.7,289.6 L578.1,289.6 L577.5,289.5 L576.9,289.4 L576.4,289.2 L576,289.1 L575.6,288.9 L575.2,288.8 L575,288.6 L574.8,288.4 L574.7,288.3Z" fill="url(#g_light)" stroke="#9c9c9c" stroke-width="0.5"/><path d="M585.6,265.3 L585.7,265.1 L585.4,264.8 L584.7,264.5 L583.9,264.2 L582.8,264 L581.5,263.9 L580.3,263.8 L579,263.8 L577.9,263.9 L577,264.1 L576.3,264.3 L575.9,264.5 L575.8,264.8 L576.1,265.1 L576.7,265.4 L577.6,265.6 L578.7,265.8 L580,266 L581.3,266 L582.5,266 L583.7,265.9 L584.6,265.8 L585.3,265.6Z" fill="#d8d8d8" stroke="#9c9c9c" stroke-width="0.5"/><path d="M601,290.8 L602.5,267.1 L602.6,266.9 L602.7,266.8 L602.9,266.7 L603.2,266.6 L603.5,266.5 L604,266.4 L604.4,266.3 L605,266.3 L605.6,266.2 L606.2,266.2 L606.8,266.2 L607.5,266.3 L608.2,266.3 L608.8,266.4 L609.4,266.5 L610,266.5 L610.6,266.7 L611.1,266.8 L611.6,266.9 L611.9,267.1 L612.3,267.2 L612.5,267.4 L612.6,267.5 L612.7,267.7 L611,291.4 L611,291.6 L610.8,291.8 L610.6,291.9 L610.4,292.1 L610,292.2 L609.6,292.3 L609.1,292.4 L608.6,292.4 L608,292.5 L607.4,292.5 L606.7,292.5 L606,292.4 L605.4,292.4 L604.7,292.3 L604.1,292.2 L603.5,292.1 L603,292 L602.5,291.8 L602,291.6 L601.6,291.5 L601.4,291.3 L601.1,291.1 L601,290.9Z" fill="url(#g_light)" stroke="#9c9c9c" stroke-width="0.5"/><path d="M612.7,267.8 L612.6,267.5 L612.3,267.2 L611.6,266.9 L610.6,266.7 L609.4,266.5 L608.2,266.3 L606.8,266.2 L605.6,266.2 L604.4,266.3 L603.5,266.5 L602.9,266.7 L602.6,266.9 L602.6,267.2 L602.9,267.5 L603.6,267.8 L604.6,268.1 L605.7,268.3 L607,268.4 L608.4,268.5 L609.7,268.5 L610.8,268.4 L611.7,268.3 L612.4,268.1Z" fill="#d8d8d8" stroke="#9c9c9c" stroke-width="0.5"/><path d="M423.2,280.6 L422.4,264.2 L422.4,264 L422.5,263.9 L422.7,263.8 L422.9,263.7 L423.2,263.5 L423.6,263.4 L424,263.3 L424.5,263.2 L425,263.2 L425.5,263.1 L426.1,263.1 L426.7,263 L427.3,263 L427.9,263 L428.5,263 L429,263.1 L429.5,263.1 L430,263.2 L430.4,263.3 L430.8,263.4 L431.1,263.5 L431.3,263.6 L431.5,263.8 L431.5,263.9 L432.2,280.3 L432.2,280.4 L432.2,280.6 L432,280.8 L431.8,280.9 L431.5,281 L431.1,281.2 L430.7,281.3 L430.2,281.4 L429.7,281.5 L429.2,281.5 L428.6,281.6 L428,281.6 L427.4,281.6 L426.8,281.6 L426.3,281.6 L425.7,281.6 L425.2,281.5 L424.7,281.4 L424.3,281.3 L423.9,281.2 L423.7,281.1 L423.4,280.9 L423.3,280.8Z" fill="url(#g_mid)" stroke="#686868" stroke-width="0.5"/><path d="M431.1,264.4 L431.5,264.2 L431.5,263.9 L431.3,263.6 L430.8,263.4 L430,263.2 L429,263.1 L427.9,263 L426.7,263 L425.5,263.1 L424.5,263.2 L423.6,263.4 L422.9,263.7 L422.5,263.9 L422.4,264.2 L422.6,264.4 L423.2,264.7 L423.9,264.9 L424.9,265 L426.1,265.1 L427.3,265.1 L428.5,265 L429.5,264.9 L430.4,264.7Z" fill="#9c9c9c" stroke="#686868" stroke-width="0.5"/><path d="M454.1,266.5 L454.6,282.9 L454.5,283 L454.4,283.2 L454.2,283.3 L453.9,283.5 L453.6,283.6 L453.2,283.7 L452.7,283.8 L452.2,283.9 L451.7,284 L451.1,284 L450.5,284.1 L449.9,284.1 L449.3,284.1 L448.7,284 L448.1,284 L447.6,283.9 L447.1,283.8 L446.7,283.7 L446.3,283.6 L446,283.5 L445.7,283.3 L445.5,283.2 L445.4,283 L445.4,282.9 L444.9,266.5 L444.9,266.3 L445.1,266.2 L445.3,266.1 L445.6,266 L445.9,265.8 L446.3,265.7 L446.8,265.6 L447.3,265.6 L447.8,265.5 L448.4,265.5 L449,265.4 L449.6,265.4 L450.2,265.4 L450.8,265.4 L451.4,265.5 L451.9,265.6 L452.4,265.6 L452.8,265.7 L453.2,265.8 L453.6,265.9 L453.8,266.1 L454,266.2 L454.1,266.3Z" fill="url(#g_mid)" stroke="#686868" stroke-width="0.5"/><path d="M453.8,266.9 L454.1,266.6 L454.1,266.3 L453.8,266.1 L453.2,265.8 L452.4,265.6 L451.4,265.5 L450.2,265.4 L449,265.4 L447.8,265.5 L446.8,265.6 L445.9,265.8 L445.3,266.1 L444.9,266.3 L444.9,266.6 L445.2,266.9 L445.7,267.1 L446.6,267.3 L447.6,267.5 L448.8,267.6 L450,267.6 L451.2,267.5 L452.3,267.3 L453.1,267.1Z" fill="#9c9c9c" stroke="#686868" stroke-width="0.5"/><path d="M468.4,285.4 L468.1,268.5 L468.1,268.4 L468.3,268.3 L468.4,268.1 L468.7,268 L469,267.9 L469.4,267.8 L469.9,267.7 L470.4,267.6 L470.9,267.5 L471.5,267.5 L472.1,267.4 L472.7,267.4 L473.3,267.4 L473.9,267.5 L474.5,267.5 L475.1,267.6 L475.6,267.7 L476.1,267.8 L476.5,267.9 L476.8,268 L477.1,268.1 L477.3,268.2 L477.5,268.4 L477.5,268.5 L477.8,285.3 L477.7,285.5 L477.6,285.7 L477.5,285.8 L477.2,286 L476.9,286.1 L476.5,286.2 L476,286.3 L475.5,286.4 L475,286.5 L474.4,286.6 L473.8,286.6 L473.2,286.6 L472.6,286.6 L472,286.6 L471.4,286.5 L470.8,286.5 L470.3,286.4 L469.8,286.3 L469.4,286.1 L469.1,286 L468.8,285.8 L468.6,285.7 L468.5,285.5Z" fill="url(#g_mid)" stroke="#686868" stroke-width="0.5"/><path d="M477.2,269 L477.5,268.7 L477.5,268.4 L477.1,268.1 L476.5,267.9 L475.6,267.7 L474.5,267.5 L473.3,267.4 L472.1,267.4 L470.9,267.5 L469.9,267.7 L469,267.9 L468.4,268.1 L468.1,268.4 L468.2,268.7 L468.5,269 L469.1,269.2 L470,269.4 L471.1,269.6 L472.3,269.7 L473.5,269.7 L474.7,269.6 L475.8,269.4 L476.6,269.2Z" fill="#9c9c9c" stroke="#686868" stroke-width="0.5"/><path d="M492.3,287.9 L492.2,270.7 L492.2,270.5 L492.3,270.4 L492.5,270.2 L492.7,270.1 L493,270 L493.4,269.9 L493.9,269.8 L494.3,269.7 L494.9,269.6 L495.5,269.6 L496.1,269.5 L496.7,269.5 L497.3,269.5 L497.9,269.6 L498.5,269.6 L499.1,269.7 L499.7,269.8 L500.1,269.9 L500.6,270 L501,270.1 L501.3,270.2 L501.6,270.4 L501.7,270.5 L501.8,270.7 L501.8,270.8 L501.8,288.1 L501.7,288.3 L501.6,288.4 L501.3,288.6 L501,288.7 L500.6,288.9 L500.2,289 L499.7,289.1 L499.2,289.1 L498.6,289.2 L498,289.2 L497.4,289.2 L496.7,289.2 L496.1,289.2 L495.5,289.2 L494.9,289.1 L494.4,289 L493.9,288.9 L493.4,288.7 L493.1,288.6 L492.8,288.4 L492.5,288.3 L492.4,288.1Z" fill="url(#g_mid)" stroke="#686868" stroke-width="0.5"/><path d="M501.6,271.1 L501.8,270.8 L501.7,270.5 L501.3,270.2 L500.6,270 L499.7,269.8 L498.5,269.6 L497.3,269.5 L496.1,269.5 L494.9,269.6 L493.9,269.8 L493,270 L492.5,270.2 L492.2,270.5 L492.3,270.8 L492.7,271.1 L493.4,271.4 L494.3,271.6 L495.5,271.8 L496.7,271.8 L498,271.8 L499.2,271.7 L500.2,271.6 L501,271.4Z" fill="#9c9c9c" stroke="#686868" stroke-width="0.5"/><path d="M527.1,273 L526.7,290.8 L526.7,290.9 L526.6,291.1 L526.4,291.3 L526.1,291.4 L525.7,291.6 L525.3,291.7 L524.8,291.8 L524.3,291.9 L523.7,291.9 L523.1,292 L522.4,292 L521.8,292 L521.2,291.9 L520.5,291.9 L519.9,291.8 L519.4,291.7 L518.8,291.6 L518.4,291.5 L517.9,291.3 L517.6,291.1 L517.3,291 L517.1,290.8 L517,290.6 L517,290.4 L517.2,272.7 L517.3,272.6 L517.4,272.4 L517.6,272.3 L517.9,272.2 L518.3,272.1 L518.7,272 L519.2,271.9 L519.7,271.8 L520.3,271.8 L520.9,271.7 L521.6,271.7 L522.2,271.7 L522.8,271.7 L523.4,271.8 L524.1,271.9 L524.6,271.9 L525.2,272 L525.6,272.2 L526,272.3 L526.4,272.4 L526.7,272.6 L526.9,272.7 L527,272.9Z" fill="url(#g_mid)" stroke="#686868" stroke-width="0.5"/><path d="M526.9,273.3 L527.1,273 L526.9,272.7 L526.4,272.4 L525.6,272.2 L524.6,271.9 L523.4,271.8 L522.2,271.7 L520.9,271.7 L519.7,271.8 L518.7,272 L517.9,272.2 L517.4,272.4 L517.2,272.7 L517.4,273.1 L517.8,273.4 L518.6,273.6 L519.6,273.9 L520.8,274 L522.1,274.1 L523.4,274.1 L524.6,274 L525.6,273.8 L526.4,273.6Z" fill="#9c9c9c" stroke="#686868" stroke-width="0.5"/><path d="M542.7,293.2 L543.2,275 L543.2,274.9 L543.3,274.7 L543.5,274.6 L543.8,274.5 L544.1,274.3 L544.5,274.2 L545,274.1 L545.6,274.1 L546.1,274 L546.7,274 L547.4,274 L548,274 L548.7,274 L549.3,274.1 L550,274.1 L550.6,274.2 L551.1,274.3 L551.6,274.4 L552.1,274.6 L552.5,274.7 L552.8,274.9 L553,275 L553.2,275.2 L553.3,275.3 L552.6,293.6 L552.6,293.7 L552.5,293.9 L552.3,294.1 L552.1,294.2 L551.7,294.4 L551.3,294.5 L550.9,294.6 L550.3,294.7 L549.7,294.8 L549.1,294.8 L548.5,294.8 L547.8,294.8 L547.2,294.8 L546.5,294.7 L545.9,294.6 L545.3,294.5 L544.7,294.4 L544.2,294.3 L543.8,294.1 L543.4,293.9 L543.1,293.8 L542.9,293.6 L542.7,293.4Z" fill="url(#g_mid)" stroke="#686868" stroke-width="0.5"/><path d="M553.2,275.7 L553.3,275.3 L553,275 L552.5,274.7 L551.6,274.4 L550.6,274.2 L549.3,274.1 L548,274 L546.7,274 L545.6,274.1 L544.5,274.2 L543.8,274.5 L543.3,274.7 L543.2,275 L543.4,275.4 L543.9,275.7 L544.8,276 L545.9,276.2 L547.1,276.4 L548.4,276.4 L549.7,276.4 L550.9,276.4 L552,276.2 L552.7,276Z" fill="#9c9c9c" stroke="#686868" stroke-width="0.5"/><path d="M580.5,278.4 L579.6,296.6 L579.5,296.8 L579.4,297 L579.1,297.2 L578.8,297.3 L578.4,297.4 L577.9,297.5 L577.4,297.6 L576.8,297.7 L576.2,297.7 L575.6,297.8 L574.9,297.7 L574.2,297.7 L573.5,297.6 L572.9,297.6 L572.3,297.5 L571.7,297.3 L571.1,297.2 L570.6,297 L570.2,296.9 L569.9,296.7 L569.6,296.5 L569.4,296.3 L569.3,296.1 L569.3,295.9 L570.2,277.8 L570.2,277.6 L570.4,277.5 L570.6,277.3 L571,277.2 L571.4,277.1 L571.8,277 L572.4,276.9 L572.9,276.9 L573.6,276.8 L574.2,276.8 L574.9,276.8 L575.5,276.9 L576.2,276.9 L576.9,277 L577.5,277.1 L578.1,277.2 L578.6,277.3 L579.1,277.4 L579.6,277.6 L579.9,277.8 L580.2,277.9 L580.4,278.1 L580.5,278.3Z" fill="url(#g_mid)" stroke="#686868" stroke-width="0.5"/><path d="M580.5,278.6 L580.5,278.3 L580.2,277.9 L579.6,277.6 L578.6,277.3 L577.5,277.1 L576.2,276.9 L574.9,276.8 L573.6,276.8 L572.4,276.9 L571.4,277.1 L570.6,277.3 L570.2,277.6 L570.2,277.9 L570.4,278.3 L571.1,278.6 L572,278.9 L573.1,279.1 L574.4,279.3 L575.8,279.4 L577.1,279.4 L578.3,279.3 L579.3,279.1 L580.1,278.9Z" fill="#9c9c9c" stroke="#686868" stroke-width="0.5"/><path d="M597,298.9 L598.1,281.1 L598.2,280.9 L598.3,280.8 L598.5,280.6 L598.8,280.5 L599.2,280.4 L599.7,280.3 L600.2,280.2 L600.8,280.2 L601.4,280.1 L602,280.1 L602.7,280.1 L603.4,280.1 L604.1,280.2 L604.8,280.3 L605.5,280.4 L606.1,280.5 L606.7,280.6 L607.2,280.8 L607.7,280.9 L608.1,281.1 L608.4,281.3 L608.6,281.4 L608.8,281.6 L608.9,281.8 L607.6,299.7 L607.6,299.8 L607.4,300 L607.2,300.2 L606.9,300.4 L606.6,300.5 L606.1,300.6 L605.6,300.7 L605,300.8 L604.4,300.8 L603.7,300.8 L603,300.8 L602.3,300.8 L601.6,300.7 L601,300.6 L600.3,300.5 L599.7,300.4 L599.1,300.2 L598.6,300.1 L598.1,299.9 L597.7,299.7 L597.4,299.5 L597.2,299.3 L597.1,299.1Z" fill="url(#g_mid)" stroke="#686868" stroke-width="0.5"/><path d="M608.8,282 L608.8,281.6 L608.4,281.3 L607.7,280.9 L606.7,280.6 L605.5,280.4 L604.1,280.2 L602.7,280.1 L601.4,280.1 L600.2,280.2 L599.2,280.4 L598.5,280.6 L598.2,280.9 L598.2,281.3 L598.6,281.6 L599.3,282 L600.3,282.3 L601.5,282.5 L602.8,282.7 L604.3,282.8 L605.6,282.8 L606.8,282.7 L607.8,282.5 L608.5,282.3Z" fill="#9c9c9c" stroke="#686868" stroke-width="0.5"/><path d="M419.6,286.6 L419.6,287.3 L419.6,287.4 L419.5,287.6 L419.3,287.8 L419.1,287.9 L418.7,288.1 L418.4,288.2 L417.9,288.4 L417.4,288.5 L416.8,288.6 L416.3,288.6 L415.6,288.7 L415,288.7 L414.4,288.7 L413.8,288.7 L413.2,288.7 L412.6,288.7 L412.1,288.6 L411.6,288.5 L411.1,288.4 L410.8,288.2 L410.5,288.1 L410.3,287.9 L410.1,287.8 L410.1,287.6 L410,286.9 L410,286.8 L410.1,286.6 L410.3,286.4 L410.6,286.3 L410.9,286.1 L411.3,286 L411.8,285.9 L412.3,285.7 L412.8,285.7 L413.4,285.6 L414,285.5 L414.6,285.5 L415.2,285.5 L415.8,285.5 L416.4,285.5 L417,285.6 L417.5,285.6 L418,285.7 L418.4,285.8 L418.8,286 L419.1,286.1 L419.3,286.3 L419.5,286.4Z" fill="url(#g_dark)" stroke="#474747" stroke-width="0.5"/><path d="M419,287.2 L419.5,286.9 L419.6,286.6 L419.3,286.3 L418.8,286 L418,285.7 L417,285.6 L415.8,285.5 L414.6,285.5 L413.4,285.6 L412.3,285.7 L411.3,286 L410.6,286.3 L410.1,286.6 L410,286.9 L410.2,287.3 L410.7,287.6 L411.5,287.8 L412.6,288 L413.7,288 L415,288 L416.2,288 L417.4,287.8 L418.3,287.5Z" fill="#6c6c6c" stroke="#474747" stroke-width="0.5"/><path d="M433.3,290.5 L433.3,290.3 L433.2,289.6 L433.2,289.4 L433.3,289.2 L433.5,289.1 L433.7,288.9 L434,288.8 L434.4,288.6 L434.8,288.5 L435.3,288.4 L435.9,288.3 L436.4,288.2 L437,288.1 L437.7,288.1 L438.3,288.1 L438.9,288.1 L439.5,288.1 L440.1,288.2 L440.6,288.2 L441.2,288.3 L441.6,288.5 L442,288.6 L442.3,288.7 L442.6,288.9 L442.8,289 L442.9,289.2 L442.9,289.4 L442.9,290.1 L442.9,290.3 L442.7,290.4 L442.5,290.6 L442.2,290.8 L441.8,290.9 L441.4,291 L440.9,291.2 L440.3,291.3 L439.7,291.3 L439.1,291.4 L438.5,291.4 L437.9,291.5 L437.2,291.5 L436.6,291.4 L436,291.4 L435.4,291.3 L434.9,291.2 L434.5,291.1 L434.1,290.9 L433.8,290.8 L433.5,290.6Z" fill="url(#g_dark)" stroke="#474747" stroke-width="0.5"/><path d="M442.5,289.9 L442.8,289.6 L442.9,289.2 L442.6,288.9 L442,288.6 L441.2,288.3 L440.1,288.2 L438.9,288.1 L437.7,288.1 L436.4,288.2 L435.3,288.4 L434.4,288.6 L433.7,288.9 L433.3,289.2 L433.2,289.6 L433.5,289.9 L434.1,290.2 L434.9,290.5 L436,290.7 L437.2,290.8 L438.5,290.7 L439.7,290.7 L440.8,290.5 L441.8,290.2Z" fill="#6c6c6c" stroke="#474747" stroke-width="0.5"/><path d="M457.3,292.9 L457.3,292.2 L457.3,292 L457.5,291.8 L457.7,291.6 L458,291.5 L458.3,291.3 L458.7,291.2 L459.2,291.1 L459.8,291 L460.3,290.9 L460.9,290.8 L461.6,290.8 L462.2,290.8 L462.8,290.8 L463.5,290.8 L464.1,290.9 L464.6,291 L465.2,291.1 L465.7,291.2 L466.1,291.3 L466.4,291.5 L466.7,291.6 L466.9,291.8 L467.1,292 L467.1,292.1 L467.1,292.8 L467.1,293 L467,293.2 L466.8,293.4 L466.5,293.6 L466.2,293.7 L465.7,293.9 L465.2,294 L464.7,294.1 L464.1,294.2 L463.5,294.2 L462.9,294.3 L462.2,294.3 L461.6,294.3 L460.9,294.2 L460.3,294.2 L459.7,294.1 L459.2,294 L458.7,293.9 L458.3,293.7 L457.9,293.6 L457.7,293.4 L457.5,293.2 L457.3,293.1Z" fill="url(#g_dark)" stroke="#474747" stroke-width="0.5"/><path d="M466.8,292.7 L467.1,292.3 L467.1,292 L466.7,291.6 L466.1,291.3 L465.2,291.1 L464.1,290.9 L462.8,290.8 L461.6,290.8 L460.3,290.9 L459.2,291.1 L458.3,291.3 L457.7,291.6 L457.3,292 L457.3,292.4 L457.6,292.7 L458.3,293 L459.2,293.3 L460.3,293.5 L461.6,293.6 L462.9,293.6 L464.1,293.5 L465.2,293.3 L466.1,293Z" fill="#6c6c6c" stroke="#474747" stroke-width="0.5"/><path d="M492.3,295 L492.3,295.7 L492.3,295.9 L492.2,296.1 L492,296.3 L491.8,296.5 L491.5,296.6 L491,296.8 L490.6,296.9 L490,297 L489.5,297.1 L488.9,297.2 L488.2,297.2 L487.6,297.2 L486.9,297.2 L486.2,297.2 L485.6,297.1 L485,297 L484.4,296.9 L483.9,296.8 L483.4,296.6 L483.1,296.5 L482.7,296.3 L482.5,296.1 L482.4,295.9 L482.3,295.8 L482.3,295 L482.3,294.8 L482.4,294.7 L482.6,294.5 L482.8,294.3 L483.2,294.2 L483.6,294 L484.1,293.9 L484.6,293.8 L485.2,293.7 L485.8,293.6 L486.4,293.6 L487,293.6 L487.7,293.6 L488.3,293.6 L489,293.7 L489.6,293.8 L490.1,293.9 L490.6,294 L491.1,294.1 L491.5,294.3 L491.8,294.5 L492.1,294.6 L492.2,294.8Z" fill="url(#g_dark)" stroke="#474747" stroke-width="0.5"/><path d="M492,295.6 L492.3,295.2 L492.2,294.8 L491.8,294.5 L491.1,294.1 L490.1,293.9 L489,293.7 L487.7,293.6 L486.4,293.6 L485.2,293.7 L484.1,293.9 L483.2,294.2 L482.6,294.5 L482.3,294.8 L482.3,295.2 L482.7,295.6 L483.4,295.9 L484.4,296.2 L485.6,296.4 L486.9,296.5 L488.2,296.5 L489.5,296.4 L490.6,296.2 L491.4,295.9Z" fill="#6c6c6c" stroke="#474747" stroke-width="0.5"/><path d="M518.5,296.2 L518.5,298.9 L518.4,299.1 L518.3,299.3 L518.1,299.5 L517.8,299.6 L517.4,299.8 L516.9,299.9 L516.4,300 L515.8,300.1 L515.2,300.2 L514.6,300.2 L513.9,300.3 L513.2,300.2 L512.5,300.2 L511.9,300.1 L511.2,300.1 L510.6,299.9 L510.1,299.8 L509.6,299.7 L509.2,299.5 L508.8,299.3 L508.6,299.1 L508.4,298.9 L508.3,298.7 L508.2,298.5 L508.3,295.9 L508.3,295.7 L508.5,295.5 L508.7,295.3 L509,295.2 L509.4,295 L509.9,294.9 L510.4,294.8 L511,294.7 L511.6,294.6 L512.2,294.6 L512.9,294.6 L513.5,294.6 L514.2,294.6 L514.9,294.7 L515.5,294.8 L516.1,294.9 L516.6,295 L517.1,295.1 L517.5,295.3 L517.9,295.5 L518.2,295.7 L518.4,295.9 L518.5,296Z" fill="url(#g_dark)" stroke="#474747" stroke-width="0.5"/><path d="M518.3,296.6 L518.5,296.2 L518.4,295.9 L517.9,295.5 L517.1,295.1 L516.1,294.9 L514.9,294.7 L513.5,294.6 L512.2,294.6 L511,294.7 L509.9,294.9 L509,295.2 L508.5,295.5 L508.3,295.9 L508.4,296.3 L508.8,296.7 L509.6,297 L510.7,297.3 L511.9,297.5 L513.2,297.6 L514.6,297.6 L515.9,297.4 L516.9,297.2 L517.8,297Z" fill="#6c6c6c" stroke="#474747" stroke-width="0.5"/><path d="M537.4,303 L536.8,302.8 L536.4,302.6 L536,302.5 L535.7,302.3 L535.4,302.1 L535.3,301.8 L535.2,301.6 L535.2,300.9 L535.3,300.7 L535.4,300.5 L535.6,300.3 L535.9,300.2 L536.3,300 L536.7,299.9 L537.2,299.7 L537.8,299.7 L538.4,299.6 L539,299.5 L539.7,299.5 L540.4,299.5 L541.1,299.6 L541.7,299.6 L542.4,299.7 L543,299.8 L543.6,300 L544.1,300.1 L544.6,300.3 L545,300.5 L545.3,300.7 L545.6,300.9 L545.7,301.1 L545.8,301.3 L545.8,302 L545.7,302.2 L545.6,302.4 L545.4,302.6 L545.1,302.8 L544.8,302.9 L544.3,303.1 L543.8,303.2 L543.3,303.3 L542.6,303.4 L542,303.4 L541.3,303.4 L540.6,303.4 L539.9,303.4 L539.2,303.3 L538.6,303.2 L537.9,303.1Z" fill="url(#g_dark)" stroke="#474747" stroke-width="0.5"/><path d="M545.7,301.7 L545.8,301.3 L545.6,300.9 L545,300.5 L544.1,300.1 L543,299.8 L541.7,299.6 L540.4,299.5 L539,299.5 L537.8,299.7 L536.7,299.9 L535.9,300.2 L535.4,300.5 L535.2,300.9 L535.4,301.3 L536,301.7 L536.9,302.1 L538,302.4 L539.3,302.6 L540.6,302.7 L542,302.7 L543.3,302.5 L544.4,302.3 L545.2,302Z" fill="#6c6c6c" stroke="#474747" stroke-width="0.5"/><path d="M565.2,306.1 L564.7,305.9 L564.2,305.7 L563.9,305.5 L563.6,305.3 L563.4,305.1 L563.3,304.9 L563.3,304.7 L563.4,303.9 L563.5,303.7 L563.6,303.5 L563.9,303.3 L564.3,303.2 L564.7,303 L565.2,302.9 L565.7,302.8 L566.3,302.7 L567,302.7 L567.7,302.7 L568.4,302.7 L569.1,302.7 L569.8,302.8 L570.4,302.9 L571.1,303 L571.7,303.1 L572.3,303.3 L572.8,303.5 L573.2,303.7 L573.6,303.9 L573.9,304.1 L574.1,304.3 L574.2,304.5 L574.2,304.7 L574.2,305.5 L574.1,305.7 L573.9,305.9 L573.7,306.1 L573.3,306.2 L572.9,306.4 L572.4,306.5 L571.8,306.6 L571.2,306.7 L570.6,306.7 L569.9,306.7 L569.2,306.7 L568.5,306.7 L567.7,306.6 L567,306.5 L566.4,306.4 L565.8,306.2Z" fill="url(#g_dark)" stroke="#474747" stroke-width="0.5"/><path d="M574.1,304.9 L574.2,304.5 L573.9,304.1 L573.2,303.7 L572.3,303.3 L571.1,303 L569.8,302.8 L568.4,302.7 L567,302.7 L565.7,302.8 L564.7,303 L563.9,303.3 L563.5,303.7 L563.4,304.1 L563.6,304.5 L564.3,305 L565.2,305.3 L566.4,305.6 L567.8,305.8 L569.2,305.9 L570.6,305.9 L571.9,305.8 L572.9,305.6 L573.7,305.3Z" fill="#6c6c6c" stroke="#474747" stroke-width="0.5"/><path d="M604.1,304.5 L603.8,308.9 L603.8,309.1 L603.6,309.3 L603.4,309.5 L603.1,309.6 L602.7,309.8 L602.2,309.9 L601.6,310 L601,310.1 L600.4,310.2 L599.7,310.2 L598.9,310.2 L598.2,310.1 L597.5,310 L596.7,309.9 L596,309.8 L595.4,309.7 L594.8,309.5 L594.2,309.3 L593.7,309.1 L593.3,308.9 L593,308.7 L592.8,308.5 L592.6,308.2 L592.6,308 L592.9,303.6 L592.9,303.4 L593.1,303.2 L593.3,303 L593.6,302.9 L594,302.7 L594.5,302.6 L595.1,302.5 L595.7,302.4 L596.3,302.4 L597,302.4 L597.7,302.4 L598.4,302.4 L599.2,302.5 L599.9,302.6 L600.6,302.7 L601.2,302.9 L601.8,303 L602.4,303.2 L602.9,303.4 L603.3,303.6 L603.6,303.8 L603.9,304 L604,304.2Z" fill="url(#g_dark)" stroke="#474747" stroke-width="0.5"/><path d="M604.1,304.7 L604,304.2 L603.6,303.8 L602.9,303.4 L601.8,303 L600.6,302.7 L599.2,302.5 L597.7,302.4 L596.3,302.4 L595.1,302.5 L594,302.7 L593.3,303 L592.9,303.4 L592.9,303.8 L593.3,304.3 L594,304.7 L595,305.1 L596.3,305.4 L597.7,305.6 L599.2,305.7 L600.7,305.7 L601.9,305.6 L603,305.4 L603.7,305Z" fill="#6c6c6c" stroke="#474747" stroke-width="0.5"/><path d="M395.7,295.2 L395.7,294.5 L395.7,294.3 L395.8,294.2 L396.1,294 L396.3,293.8 L396.7,293.6 L397.1,293.5 L397.6,293.3 L398.2,293.2 L398.8,293.1 L399.4,293 L400,293 L400.7,292.9 L401.3,292.9 L402,292.9 L402.6,292.9 L403.2,293 L403.7,293.1 L404.2,293.2 L404.7,293.3 L405.1,293.4 L405.4,293.6 L405.6,293.8 L405.7,293.9 L405.8,294.1 L405.8,294.8 L405.8,295 L405.7,295.2 L405.5,295.4 L405.2,295.6 L404.8,295.8 L404.4,295.9 L403.9,296.1 L403.4,296.2 L402.8,296.3 L402.2,296.4 L401.5,296.4 L400.8,296.5 L400.2,296.5 L399.5,296.5 L398.9,296.5 L398.3,296.4 L397.7,296.3 L397.2,296.2 L396.8,296.1 L396.4,295.9 L396.1,295.8 L395.9,295.6 L395.8,295.4Z" fill="url(#g_black)" stroke="#000" stroke-width="0.5"/><path d="M405.2,294.9 L405.6,294.5 L405.8,294.1 L405.6,293.8 L405.1,293.4 L404.2,293.2 L403.2,293 L402,292.9 L400.7,292.9 L399.4,293 L398.2,293.2 L397.1,293.5 L396.3,293.8 L395.8,294.2 L395.7,294.5 L395.9,294.9 L396.4,295.2 L397.2,295.5 L398.2,295.7 L399.5,295.8 L400.8,295.8 L402.1,295.7 L403.3,295.5 L404.4,295.2Z" fill="#0d0d0d" stroke="#000" stroke-width="0.5"/><path d="M419.9,297.5 L419.9,297.3 L420,297.1 L420.2,296.9 L420.5,296.7 L420.8,296.5 L421.2,296.4 L421.7,296.2 L422.2,296.1 L422.8,296 L423.4,295.9 L424.1,295.8 L424.7,295.8 L425.4,295.8 L426.1,295.8 L426.7,295.8 L427.3,295.9 L427.9,296 L428.4,296.1 L428.9,296.2 L429.3,296.4 L429.6,296.5 L429.9,296.7 L430,296.9 L430.1,297.1 L430.2,297.8 L430.2,298 L430.1,298.2 L429.9,298.4 L429.7,298.6 L429.3,298.7 L428.9,298.9 L428.4,299.1 L427.9,299.2 L427.3,299.3 L426.7,299.4 L426,299.5 L425.4,299.5 L424.7,299.5 L424,299.5 L423.4,299.5 L422.7,299.4 L422.2,299.3 L421.6,299.2 L421.2,299.1 L420.8,298.9 L420.4,298.8 L420.2,298.6 L420,298.4 L419.9,298.2Z" fill="url(#g_black)" stroke="#000" stroke-width="0.5"/><path d="M429.6,297.8 L430.1,297.5 L430.1,297.1 L429.9,296.7 L429.3,296.4 L428.4,296.1 L427.3,295.9 L426.1,295.8 L424.7,295.8 L423.4,295.9 L422.2,296.1 L421.2,296.4 L420.5,296.7 L420,297.1 L419.9,297.5 L420.1,297.9 L420.7,298.2 L421.6,298.5 L422.7,298.7 L424,298.8 L425.3,298.8 L426.7,298.7 L427.9,298.5 L428.9,298.2Z" fill="#0d0d0d" stroke="#000" stroke-width="0.5"/><path d="M445.2,301.5 L445.1,301.3 L445.1,301.1 L445.1,300.4 L445.2,300.2 L445.3,300 L445.5,299.8 L445.9,299.6 L446.3,299.4 L446.7,299.3 L447.2,299.1 L447.8,299 L448.4,298.9 L449.1,298.9 L449.7,298.8 L450.4,298.8 L451.1,298.8 L451.7,298.9 L452.4,298.9 L453,299 L453.5,299.1 L454,299.2 L454.5,299.4 L454.8,299.6 L455.1,299.7 L455.3,299.9 L455.5,300.1 L455.5,300.3 L455.5,301.1 L455.5,301.3 L455.3,301.5 L455.1,301.7 L454.8,301.9 L454.4,302 L453.9,302.2 L453.4,302.3 L452.8,302.4 L452.2,302.5 L451.6,302.6 L450.9,302.7 L450.2,302.7 L449.5,302.7 L448.8,302.6 L448.2,302.6 L447.6,302.5 L447,302.3 L446.5,302.2 L446.1,302.1 L445.7,301.9 L445.4,301.7Z" fill="url(#g_black)" stroke="#000" stroke-width="0.5"/><path d="M455.1,300.9 L455.5,300.5 L455.5,300.1 L455.1,299.7 L454.5,299.4 L453.5,299.1 L452.4,298.9 L451.1,298.8 L449.7,298.8 L448.4,298.9 L447.2,299.1 L446.3,299.4 L445.5,299.8 L445.2,300.2 L445.1,300.6 L445.4,301 L446.1,301.3 L447,301.6 L448.2,301.8 L449.5,301.9 L450.9,301.9 L452.2,301.8 L453.4,301.6 L454.4,301.3Z" fill="#0d0d0d" stroke="#000" stroke-width="0.5"/><path d="M471.3,304.3 L471.3,303.6 L471.3,303.3 L471.5,303.1 L471.7,302.9 L472,302.7 L472.3,302.6 L472.8,302.4 L473.3,302.3 L473.8,302.2 L474.5,302.1 L475.1,302 L475.8,302 L476.5,301.9 L477.1,301.9 L477.8,302 L478.5,302 L479.1,302.1 L479.7,302.3 L480.2,302.4 L480.7,302.5 L481.1,302.7 L481.4,302.9 L481.7,303.1 L481.8,303.3 L481.9,303.5 L481.9,304.3 L481.9,304.5 L481.8,304.7 L481.6,304.9 L481.3,305.1 L481,305.3 L480.5,305.4 L480,305.6 L479.4,305.7 L478.8,305.8 L478.2,305.9 L477.5,305.9 L476.8,305.9 L476.1,305.9 L475.4,305.9 L474.7,305.8 L474.1,305.7 L473.5,305.6 L472.9,305.5 L472.5,305.3 L472.1,305.1 L471.8,304.9 L471.5,304.7 L471.4,304.5Z" fill="url(#g_black)" stroke="#000" stroke-width="0.5"/><path d="M481.6,304.1 L481.9,303.7 L481.8,303.3 L481.4,302.9 L480.7,302.5 L479.7,302.3 L478.5,302 L477.1,301.9 L475.8,302 L474.5,302.1 L473.3,302.3 L472.3,302.6 L471.7,302.9 L471.3,303.3 L471.4,303.8 L471.7,304.2 L472.5,304.6 L473.5,304.9 L474.7,305.1 L476.1,305.2 L477.5,305.2 L478.8,305 L480,304.8 L480.9,304.5Z" fill="#0d0d0d" stroke="#000" stroke-width="0.5"/><path d="M500.5,308.9 L500,308.7 L499.5,308.5 L499.2,308.3 L498.9,308.1 L498.7,307.9 L498.6,307.7 L498.6,307.4 L498.6,306.7 L498.7,306.5 L498.9,306.2 L499.1,306 L499.5,305.9 L499.9,305.7 L500.4,305.6 L501,305.4 L501.6,305.3 L502.2,305.3 L502.9,305.2 L503.6,305.2 L504.3,305.2 L505,305.2 L505.7,305.3 L506.3,305.4 L506.9,305.5 L507.5,305.7 L508,305.8 L508.5,306 L508.8,306.2 L509.1,306.4 L509.3,306.6 L509.4,306.9 L509.5,307.1 L509.5,307.8 L509.4,308.1 L509.2,308.3 L509,308.5 L508.6,308.7 L508.2,308.8 L507.7,309 L507.2,309.1 L506.5,309.2 L505.9,309.3 L505.2,309.3 L504.5,309.4 L503.8,309.3 L503.1,309.3 L502.4,309.2 L501.7,309.1 L501.1,309Z" fill="url(#g_black)" stroke="#000" stroke-width="0.5"/><path d="M509.2,307.5 L509.5,307.1 L509.3,306.6 L508.8,306.2 L508,305.8 L506.9,305.5 L505.7,305.3 L504.3,305.2 L502.9,305.2 L501.6,305.3 L500.4,305.6 L499.5,305.9 L498.9,306.2 L498.6,306.7 L498.7,307.1 L499.2,307.5 L500,307.9 L501.1,308.2 L502.4,308.5 L503.8,308.6 L505.2,308.6 L506.5,308.4 L507.7,308.2 L508.6,307.9Z" fill="#0d0d0d" stroke="#000" stroke-width="0.5"/><path d="M529.2,312.4 L528.7,312.2 L528.2,312 L527.8,311.8 L527.5,311.6 L527.2,311.4 L527.1,311.2 L527,310.9 L527.1,310.1 L527.1,309.9 L527.2,309.7 L527.5,309.5 L527.8,309.3 L528.2,309.1 L528.7,309 L529.2,308.8 L529.8,308.7 L530.5,308.7 L531.2,308.6 L531.9,308.6 L532.6,308.6 L533.3,308.7 L534,308.7 L534.7,308.8 L535.4,308.9 L536,309.1 L536.5,309.3 L537,309.4 L537.4,309.7 L537.7,309.9 L538,310.1 L538.2,310.3 L538.2,310.6 L538.2,311.3 L538.2,311.6 L538,311.8 L537.8,312 L537.5,312.2 L537.1,312.4 L536.6,312.5 L536.1,312.7 L535.5,312.8 L534.8,312.9 L534.1,312.9 L533.4,312.9 L532.7,312.9 L531.9,312.9 L531.2,312.8 L530.5,312.7 L529.8,312.6Z" fill="url(#g_black)" stroke="#000" stroke-width="0.5"/><path d="M538.1,311 L538.2,310.6 L538,310.1 L537.4,309.7 L536.5,309.3 L535.4,308.9 L534,308.7 L532.6,308.6 L531.2,308.6 L529.8,308.7 L528.7,309 L527.8,309.3 L527.2,309.7 L527.1,310.1 L527.2,310.6 L527.8,311 L528.7,311.4 L529.9,311.8 L531.2,312 L532.7,312.1 L534.1,312.1 L535.5,312 L536.6,311.7 L537.5,311.4Z" fill="#0d0d0d" stroke="#000" stroke-width="0.5"/><path d="M556.7,314.6 L556.7,314.3 L556.8,313.5 L556.9,313.3 L557.1,313.1 L557.4,312.9 L557.7,312.7 L558.2,312.5 L558.7,312.4 L559.3,312.3 L560,312.2 L560.6,312.2 L561.4,312.1 L562.1,312.2 L562.8,312.2 L563.6,312.3 L564.3,312.4 L565,312.5 L565.6,312.7 L566.2,312.8 L566.8,313 L567.2,313.2 L567.6,313.5 L567.9,313.7 L568.1,313.9 L568.2,314.2 L568.2,314.4 L568.2,315.2 L568.1,315.5 L567.9,315.7 L567.6,315.9 L567.3,316.1 L566.8,316.2 L566.3,316.4 L565.7,316.5 L565,316.6 L564.3,316.6 L563.6,316.6 L562.8,316.6 L562.1,316.6 L561.3,316.5 L560.6,316.4 L559.9,316.3 L559.2,316.1 L558.6,315.9 L558.1,315.7 L557.6,315.5 L557.3,315.3 L557,315 L556.8,314.8Z" fill="url(#g_black)" stroke="#000" stroke-width="0.5"/><path d="M568.1,314.7 L568.2,314.2 L567.9,313.7 L567.2,313.2 L566.2,312.8 L565,312.5 L563.6,312.3 L562.1,312.2 L560.6,312.2 L559.3,312.3 L558.2,312.5 L557.4,312.9 L556.9,313.3 L556.7,313.8 L557,314.2 L557.7,314.7 L558.7,315.1 L559.9,315.5 L561.4,315.7 L562.9,315.8 L564.4,315.8 L565.7,315.7 L566.8,315.4 L567.7,315.1Z" fill="#0d0d0d" stroke="#000" stroke-width="0.5"/><path d="M589.9,319.8 L589.4,319.6 L588.9,319.3 L588.4,319.1 L588.1,318.9 L587.9,318.6 L587.7,318.3 L587.7,318.1 L587.7,317.3 L587.8,317 L588,316.8 L588.2,316.6 L588.6,316.4 L589,316.3 L589.5,316.1 L590.1,316 L590.8,315.9 L591.4,315.9 L592.2,315.9 L592.9,315.9 L593.7,315.9 L594.5,316 L595.2,316.1 L596,316.2 L596.7,316.4 L597.3,316.6 L597.9,316.8 L598.4,317 L598.8,317.2 L599.2,317.5 L599.4,317.7 L599.6,318 L599.6,318.2 L599.6,319.1 L599.5,319.3 L599.4,319.5 L599.1,319.7 L598.8,319.9 L598.4,320.1 L597.9,320.3 L597.3,320.4 L596.6,320.5 L595.9,320.5 L595.2,320.5 L594.4,320.5 L593.6,320.5 L592.8,320.4 L592,320.3 L591.3,320.1 L590.6,320Z" fill="url(#g_black)" stroke="#000" stroke-width="0.5"/><path d="M599.6,318.5 L599.6,318 L599.2,317.5 L598.4,317 L597.3,316.6 L596,316.2 L594.5,316 L592.9,315.9 L591.4,315.9 L590.1,316 L589,316.3 L588.2,316.6 L587.8,317 L587.8,317.5 L588.2,318 L588.9,318.5 L590,319 L591.3,319.3 L592.9,319.6 L594.4,319.7 L595.9,319.7 L597.3,319.6 L598.4,319.3 L599.2,318.9Z" fill="#0d0d0d" stroke="#000" stroke-width="0.5"/><text x="375.7" y="300.7" font-size="7.3" text-anchor="end">0</text><text x="374.5" y="284" font-size="7.3" text-anchor="end">5</text><text x="373.2" y="267" font-size="7.3" text-anchor="end">10</text><text x="371.9" y="249.5" font-size="7.3" text-anchor="end">15</text><text x="370.5" y="231.7" font-size="7.3" text-anchor="end">20</text><text x="395.9" y="308.4" font-size="7.65" text-anchor="end" transform="rotate(-45 395.9 308.4)"><tspan font-style="italic">A. fumigatus</tspan></text><text x="420.7" y="311.5" font-size="7.65" text-anchor="end" transform="rotate(-45 420.7 311.5)"><tspan font-style="italic">A. versicolor</tspan></text><text x="446.5" y="314.7" font-size="7.65" text-anchor="end" transform="rotate(-45 446.5 314.7)"><tspan font-style="italic">A. ochraceus</tspan></text><text x="473.5" y="318.1" font-size="7.65" text-anchor="end" transform="rotate(-45 473.5 318.1)"><tspan font-style="italic">A.niger</tspan></text><text x="501.6" y="321.7" font-size="7.65" text-anchor="end" transform="rotate(-45 501.6 321.7)"><tspan font-style="italic">T. viride</tspan></text><text x="530.9" y="325.4" font-size="7.65" text-anchor="end" transform="rotate(-45 530.9 325.4)"><tspan font-style="italic">P. ochrochloron</tspan></text><text x="561.6" y="329.2" font-size="7.65" text-anchor="end" transform="rotate(-45 561.6 329.2)"><tspan font-style="italic">P. funiculosum</tspan></text><text x="593.7" y="333.3" font-size="7.65" text-anchor="end" transform="rotate(-45 593.7 333.3)"><tspan font-style="italic">P.versicolor var. cyclopium</tspan></text><text x="348.8" y="216.6" font-size="9.6" text-anchor="start">d)</text><text x="361" y="268.1" font-size="8.7" text-anchor="middle" transform="rotate(-90 361 268.1)" textLength="48.4" lengthAdjust="spacingAndGlyphs">MIC (mg/mL)</text><text x="487.5" y="396.7" font-size="10.5" text-anchor="middle" textLength="64.3" lengthAdjust="spacingAndGlyphs">Microorganism</text><text x="620.9" y="323.9" font-size="7.5" text-anchor="middle">BIF</text><text x="625.9" y="313.3" font-size="7.5" text-anchor="middle">KET</text><text x="626.6" y="304.4" font-size="7.5" text-anchor="middle">A2</text><text x="628.4" y="296" font-size="7.5" text-anchor="middle">E2</text><text x="646" y="286.8" font-size="8.25" text-anchor="middle" transform="rotate(-90 646 286.8)" textLength="65.5" lengthAdjust="spacingAndGlyphs"><tspan font-style="italic">S. kitaibelii</tspan> extracts</text><text x="656" y="287" font-size="8.25" text-anchor="middle" transform="rotate(-90 656 287)" textLength="84.1" lengthAdjust="spacingAndGlyphs">and standard antimicotics</text></svg></body></html>
